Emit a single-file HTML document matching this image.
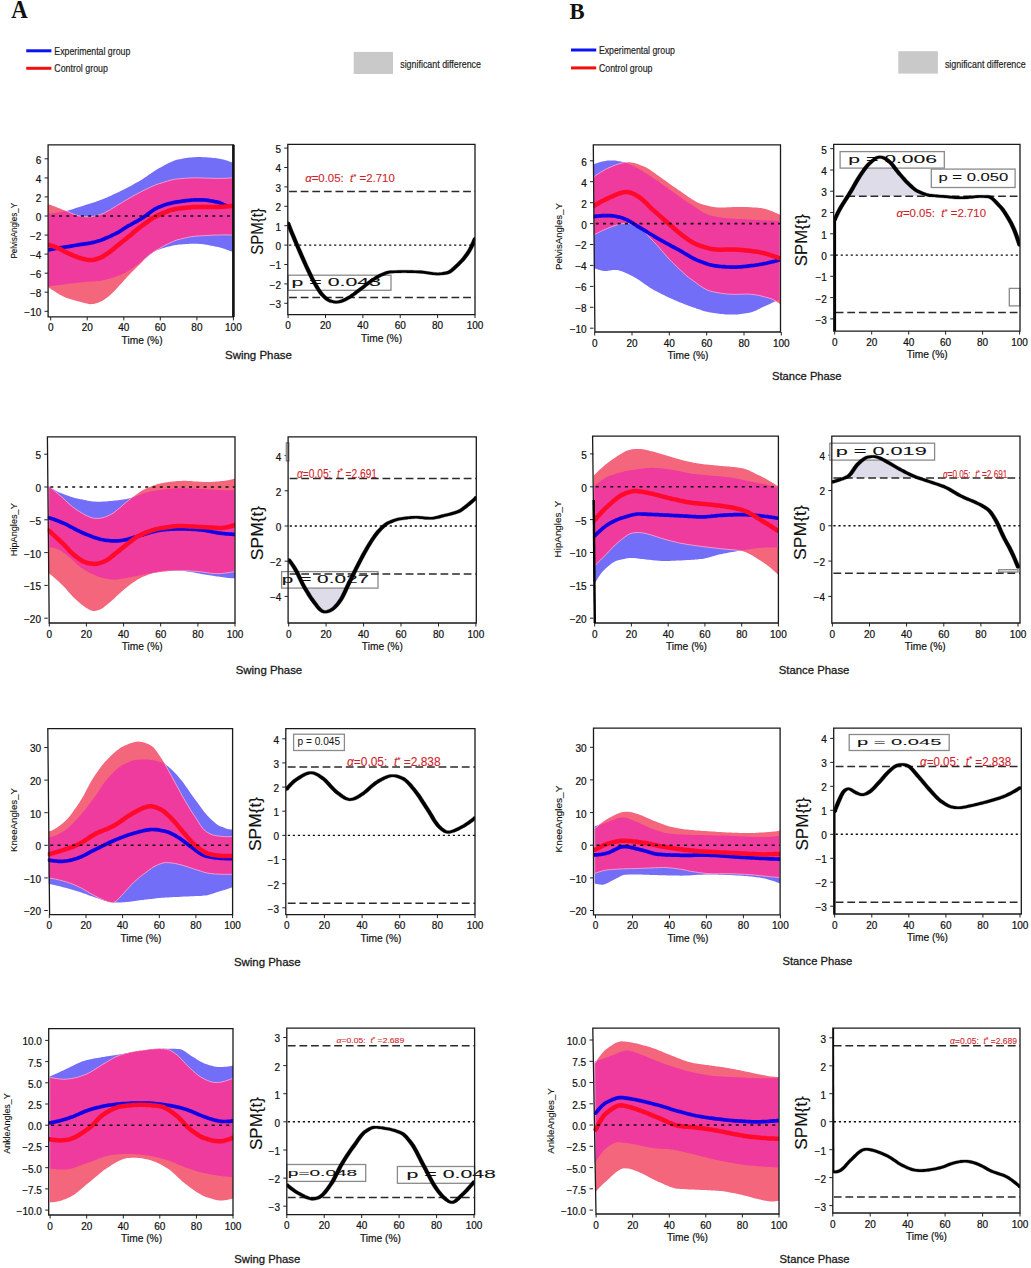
<!DOCTYPE html>
<html><head><meta charset="utf-8"><style>
html,body{margin:0;padding:0;background:#fff;}
body{width:1031px;height:1268px;overflow:hidden;}
svg{display:block;}
</style></head><body>
<svg width="1031" height="1268" viewBox="0 0 1031 1268">
<defs><clipPath id="c1"><rect x="48.1" y="144.8" width="185.3" height="172.1"/></clipPath>
<clipPath id="b2"><path d="M48.1 213.7 L49.8 213.6 L51.5 213.5 L53.2 213.3 L54.9 213.1 L56.6 212.8 L58.3 212.5 L59.9 212.2 L61.6 211.9 L63.3 211.6 L65.0 211.3 L66.7 210.9 L68.4 210.5 L70.0 210.0 L71.7 209.5 L73.4 208.9 L75.1 208.3 L76.8 207.8 L78.5 207.2 L80.1 206.7 L81.8 206.2 L83.5 205.7 L85.2 205.1 L86.9 204.6 L88.6 204.1 L90.3 203.6 L91.9 203.0 L93.6 202.5 L95.3 201.9 L97.0 201.3 L98.7 200.7 L100.4 200.1 L102.0 199.5 L103.7 198.8 L105.4 198.1 L107.1 197.4 L108.8 196.6 L110.5 195.9 L112.1 195.1 L113.8 194.3 L115.5 193.5 L117.2 192.8 L118.9 192.0 L120.6 191.1 L122.3 190.3 L123.9 189.5 L125.6 188.6 L127.3 187.7 L129.0 186.8 L130.7 185.9 L132.4 185.0 L134.0 184.1 L135.7 183.1 L137.4 182.2 L139.1 181.2 L140.8 180.2 L142.5 179.2 L144.1 178.1 L145.8 176.9 L147.5 175.8 L149.2 174.6 L150.9 173.5 L152.6 172.3 L154.2 171.2 L155.9 170.1 L157.6 169.1 L159.3 168.1 L161.0 167.2 L162.7 166.3 L164.4 165.3 L166.0 164.4 L167.7 163.6 L169.4 162.7 L171.1 161.9 L172.8 161.2 L174.5 160.6 L176.1 160.0 L177.8 159.6 L179.5 159.2 L181.2 158.9 L182.9 158.6 L184.6 158.3 L186.2 158.1 L187.9 157.8 L189.6 157.6 L191.3 157.4 L193.0 157.3 L194.7 157.2 L196.4 157.1 L198.0 157.1 L199.7 157.1 L201.4 157.1 L203.1 157.2 L204.8 157.2 L206.5 157.3 L208.1 157.5 L209.8 157.6 L211.5 157.8 L213.2 157.9 L214.9 158.1 L216.6 158.3 L218.2 158.5 L219.9 158.8 L221.6 159.2 L223.3 159.6 L225.0 160.1 L226.7 160.6 L228.4 161.1 L230.0 161.7 L231.7 162.3 L233.4 162.9 L233.4 252.1 L231.7 251.5 L230.0 250.9 L228.4 250.3 L226.7 249.7 L225.0 249.1 L223.3 248.6 L221.6 248.1 L219.9 247.6 L218.2 247.1 L216.6 246.7 L214.9 246.4 L213.2 246.0 L211.5 245.7 L209.8 245.4 L208.1 245.1 L206.5 244.8 L204.8 244.5 L203.1 244.3 L201.4 244.1 L199.7 243.9 L198.0 243.8 L196.4 243.7 L194.7 243.7 L193.0 243.7 L191.3 243.8 L189.6 243.8 L187.9 243.9 L186.2 244.0 L184.6 244.2 L182.9 244.3 L181.2 244.5 L179.5 244.6 L177.8 244.8 L176.1 245.0 L174.5 245.3 L172.8 245.6 L171.1 246.0 L169.4 246.4 L167.7 246.8 L166.0 247.2 L164.4 247.7 L162.7 248.3 L161.0 248.8 L159.3 249.4 L157.6 250.0 L155.9 250.6 L154.2 251.4 L152.6 252.5 L150.9 253.8 L149.2 255.2 L147.5 256.5 L145.8 257.8 L144.1 259.1 L142.5 260.5 L140.8 261.9 L139.1 263.2 L137.4 264.5 L135.7 265.8 L134.0 267.0 L132.4 268.2 L130.7 269.4 L129.0 270.4 L127.3 271.4 L125.6 272.4 L123.9 273.3 L122.3 274.1 L120.6 274.9 L118.9 275.6 L117.2 276.1 L115.5 276.7 L113.8 277.3 L112.1 277.8 L110.5 278.3 L108.8 278.8 L107.1 279.3 L105.4 279.7 L103.7 280.1 L102.0 280.4 L100.4 280.7 L98.7 280.9 L97.0 281.1 L95.3 281.2 L93.6 281.4 L91.9 281.5 L90.3 281.6 L88.6 281.7 L86.9 281.8 L85.2 281.9 L83.5 282.0 L81.8 282.2 L80.1 282.4 L78.5 282.6 L76.8 282.7 L75.1 282.9 L73.4 283.2 L71.7 283.4 L70.0 283.6 L68.4 283.8 L66.7 284.0 L65.0 284.2 L63.3 284.4 L61.6 284.7 L59.9 284.9 L58.3 285.1 L56.6 285.3 L54.9 285.5 L53.2 285.8 L51.5 286.0 L49.8 286.2 L48.1 286.5Z"/></clipPath>
<clipPath id="c3"><rect x="287.8" y="144.3" width="187.2" height="170.3"/></clipPath>
<clipPath id="c4"><rect x="47.8" y="436.8" width="187.2" height="186.2"/></clipPath>
<clipPath id="b5"><path d="M48.7 486.3 L50.4 487.4 L52.1 488.5 L53.8 489.6 L55.5 490.6 L57.2 491.5 L58.9 492.2 L60.6 492.9 L62.3 493.6 L64.0 494.3 L65.7 494.9 L67.4 495.6 L69.0 496.1 L70.7 496.7 L72.4 497.2 L74.1 497.7 L75.8 498.2 L77.5 498.6 L79.2 498.9 L80.9 499.3 L82.6 499.6 L84.3 500.0 L86.0 500.3 L87.7 500.7 L89.4 501.0 L91.1 501.2 L92.7 501.4 L94.4 501.6 L96.1 501.7 L97.8 501.8 L99.5 501.8 L101.2 501.7 L102.9 501.6 L104.6 501.5 L106.3 501.4 L108.0 501.3 L109.7 501.1 L111.4 500.9 L113.1 500.7 L114.8 500.5 L116.4 500.4 L118.1 500.2 L119.8 499.9 L121.5 499.7 L123.2 499.4 L124.9 499.2 L126.6 498.9 L128.3 498.5 L130.0 498.2 L131.7 497.8 L133.4 497.3 L135.1 496.7 L136.8 496.1 L138.5 495.4 L140.1 494.7 L141.8 494.0 L143.5 493.4 L145.2 492.8 L146.9 492.4 L148.6 492.0 L150.3 491.6 L152.0 491.3 L153.7 490.9 L155.4 490.6 L157.1 490.3 L158.8 490.0 L160.5 489.8 L162.2 489.6 L163.9 489.4 L165.5 489.2 L167.2 489.1 L168.9 488.9 L170.6 488.8 L172.3 488.7 L174.0 488.6 L175.7 488.4 L177.4 488.3 L179.1 488.2 L180.8 488.2 L182.5 488.2 L184.2 488.2 L185.9 488.2 L187.6 488.3 L189.2 488.3 L190.9 488.4 L192.6 488.5 L194.3 488.6 L196.0 488.7 L197.7 488.8 L199.4 488.9 L201.1 489.0 L202.8 489.1 L204.5 489.1 L206.2 489.2 L207.9 489.3 L209.6 489.4 L211.3 489.5 L212.9 489.6 L214.6 489.7 L216.3 489.8 L218.0 489.9 L219.7 490.0 L221.4 490.0 L223.1 490.1 L224.8 490.2 L226.5 490.2 L228.2 490.2 L229.9 490.2 L231.6 490.2 L233.3 490.2 L235.0 490.1 L235.0 578.4 L233.3 578.3 L231.6 578.2 L229.9 578.0 L228.2 577.9 L226.5 577.7 L224.8 577.5 L223.1 577.3 L221.4 577.1 L219.7 576.8 L218.0 576.6 L216.3 576.4 L214.6 576.1 L212.9 575.8 L211.3 575.5 L209.6 575.3 L207.9 575.0 L206.2 574.7 L204.5 574.5 L202.8 574.2 L201.1 573.9 L199.4 573.6 L197.7 573.2 L196.0 572.9 L194.3 572.6 L192.6 572.3 L190.9 572.0 L189.2 571.7 L187.6 571.5 L185.9 571.3 L184.2 571.1 L182.5 570.9 L180.8 570.8 L179.1 570.7 L177.4 570.6 L175.7 570.5 L174.0 570.4 L172.3 570.4 L170.6 570.4 L168.9 570.5 L167.2 570.6 L165.5 570.7 L163.9 570.8 L162.2 571.1 L160.5 571.3 L158.8 571.6 L157.1 571.9 L155.4 572.2 L153.7 572.6 L152.0 572.9 L150.3 573.2 L148.6 573.5 L146.9 573.9 L145.2 574.2 L143.5 574.5 L141.8 574.9 L140.1 575.3 L138.5 575.6 L136.8 575.9 L135.1 576.3 L133.4 576.6 L131.7 576.9 L130.0 577.3 L128.3 577.6 L126.6 577.9 L124.9 578.2 L123.2 578.6 L121.5 578.8 L119.8 579.1 L118.1 579.3 L116.4 579.5 L114.8 579.6 L113.1 579.6 L111.4 579.5 L109.7 579.2 L108.0 579.0 L106.3 578.6 L104.6 578.3 L102.9 578.0 L101.2 577.5 L99.5 577.0 L97.8 576.4 L96.1 575.7 L94.4 575.0 L92.7 574.3 L91.1 573.5 L89.4 572.7 L87.7 571.8 L86.0 570.8 L84.3 569.8 L82.6 568.6 L80.9 567.5 L79.2 566.2 L77.5 564.7 L75.8 563.1 L74.1 561.4 L72.4 559.8 L70.7 558.2 L69.0 556.8 L67.4 555.5 L65.7 554.2 L64.0 552.9 L62.3 551.7 L60.6 550.6 L58.9 549.7 L57.2 549.0 L55.5 548.5 L53.8 548.0 L52.1 547.6 L50.4 547.4 L48.7 547.4Z"/></clipPath>
<clipPath id="c6"><rect x="288.1" y="436.8" width="188.2" height="186.2"/></clipPath>
<clipPath id="t7"><rect x="288.0" y="573.9" width="62.0" height="49.1"/></clipPath>
<clipPath id="c8"><rect x="47.8" y="728.7" width="184.8" height="185.9"/></clipPath>
<clipPath id="b9"><path d="M48.7 837.4 L50.4 837.1 L52.1 836.7 L53.8 836.2 L55.5 835.5 L57.2 834.8 L58.9 834.0 L60.5 833.1 L62.2 832.1 L63.9 831.2 L65.6 830.0 L67.3 828.7 L69.0 827.2 L70.7 825.6 L72.3 823.9 L74.0 822.1 L75.7 820.3 L77.4 818.5 L79.1 816.7 L80.8 814.8 L82.5 812.8 L84.2 810.8 L85.8 808.7 L87.5 806.5 L89.2 804.3 L90.9 802.1 L92.6 799.9 L94.3 797.6 L96.0 795.3 L97.7 792.8 L99.3 790.2 L101.0 787.6 L102.7 785.1 L104.4 782.6 L106.1 780.4 L107.8 778.3 L109.5 776.5 L111.2 774.7 L112.8 772.9 L114.5 771.2 L116.2 769.7 L117.9 768.2 L119.6 766.9 L121.3 765.8 L123.0 764.8 L124.7 764.0 L126.3 763.2 L128.0 762.4 L129.7 761.7 L131.4 761.1 L133.1 760.5 L134.8 760.1 L136.5 759.8 L138.1 759.7 L139.8 759.6 L141.5 759.5 L143.2 759.4 L144.9 759.4 L146.6 759.5 L148.3 759.6 L150.0 759.7 L151.6 759.9 L153.3 760.2 L155.0 760.5 L156.7 761.0 L158.4 761.5 L160.1 762.0 L161.8 762.5 L163.5 763.2 L165.1 764.2 L166.8 765.4 L168.5 766.7 L170.2 768.2 L171.9 769.7 L173.6 771.4 L175.3 773.2 L177.0 775.1 L178.6 777.0 L180.3 779.0 L182.0 781.1 L183.7 783.3 L185.4 785.7 L187.1 788.1 L188.8 790.5 L190.4 792.9 L192.1 795.3 L193.8 797.7 L195.5 800.0 L197.2 802.3 L198.9 804.6 L200.6 806.9 L202.3 809.2 L203.9 811.4 L205.6 813.5 L207.3 815.5 L209.0 817.2 L210.7 818.9 L212.4 820.5 L214.1 822.1 L215.8 823.5 L217.4 824.7 L219.1 825.7 L220.8 826.5 L222.5 827.1 L224.2 827.8 L225.9 828.4 L227.6 828.9 L229.3 829.3 L230.9 829.5 L232.6 829.6 L232.6 887.2 L230.9 887.8 L229.3 888.3 L227.6 888.9 L225.9 889.4 L224.2 889.9 L222.5 890.4 L220.8 891.0 L219.1 891.5 L217.4 892.0 L215.8 892.6 L214.1 893.2 L212.4 893.8 L210.7 894.3 L209.0 894.8 L207.3 895.2 L205.6 895.5 L203.9 895.6 L202.3 895.8 L200.6 895.9 L198.9 895.9 L197.2 896.0 L195.5 896.1 L193.8 896.2 L192.1 896.2 L190.4 896.3 L188.8 896.4 L187.1 896.5 L185.4 896.5 L183.7 896.6 L182.0 896.7 L180.3 896.8 L178.6 896.9 L177.0 896.9 L175.3 897.0 L173.6 897.1 L171.9 897.2 L170.2 897.3 L168.5 897.4 L166.8 897.5 L165.1 897.6 L163.5 897.7 L161.8 897.8 L160.1 898.0 L158.4 898.1 L156.7 898.3 L155.0 898.5 L153.3 898.7 L151.6 898.9 L150.0 899.1 L148.3 899.3 L146.6 899.4 L144.9 899.6 L143.2 899.9 L141.5 900.1 L139.8 900.3 L138.1 900.6 L136.5 900.8 L134.8 901.0 L133.1 901.3 L131.4 901.5 L129.7 901.7 L128.0 901.9 L126.3 902.1 L124.7 902.2 L123.0 902.3 L121.3 902.4 L119.6 902.4 L117.9 902.5 L116.2 902.4 L114.5 902.4 L112.8 902.3 L111.2 902.1 L109.5 901.8 L107.8 901.4 L106.1 900.9 L104.4 900.4 L102.7 899.9 L101.0 899.4 L99.3 898.8 L97.7 898.3 L96.0 897.8 L94.3 897.2 L92.6 896.6 L90.9 896.0 L89.2 895.4 L87.5 894.8 L85.8 894.1 L84.2 893.5 L82.5 892.9 L80.8 892.3 L79.1 891.8 L77.4 891.2 L75.7 890.7 L74.0 890.2 L72.3 889.7 L70.7 889.2 L69.0 888.7 L67.3 888.3 L65.6 887.8 L63.9 887.4 L62.2 887.0 L60.5 886.5 L58.9 886.1 L57.2 885.7 L55.5 885.3 L53.8 885.0 L52.1 884.6 L50.4 884.2 L48.7 883.9Z"/></clipPath>
<clipPath id="c10"><rect x="285.8" y="728.7" width="189.2" height="185.9"/></clipPath>
<clipPath id="c11"><rect x="48.7" y="1028.7" width="184.3" height="186.3"/></clipPath>
<clipPath id="b12"><path d="M49.7 1076.6 L51.4 1075.8 L53.1 1075.1 L54.8 1074.3 L56.5 1073.5 L58.2 1072.7 L59.9 1071.9 L61.6 1071.1 L63.3 1070.4 L65.0 1069.6 L66.7 1068.8 L68.4 1068.0 L70.1 1067.1 L71.8 1066.3 L73.5 1065.4 L75.2 1064.6 L76.9 1063.7 L78.6 1063.0 L80.3 1062.3 L81.9 1061.6 L83.6 1061.0 L85.3 1060.5 L87.0 1060.1 L88.7 1059.7 L90.4 1059.3 L92.1 1058.9 L93.8 1058.6 L95.5 1058.3 L97.2 1058.0 L98.9 1057.7 L100.6 1057.4 L102.3 1057.1 L104.0 1056.9 L105.7 1056.6 L107.4 1056.3 L109.1 1056.1 L110.8 1055.8 L112.5 1055.6 L114.2 1055.3 L115.9 1055.1 L117.6 1054.8 L119.3 1054.6 L121.0 1054.3 L122.7 1054.0 L124.4 1053.7 L126.1 1053.4 L127.8 1053.1 L129.5 1052.8 L131.2 1052.6 L132.9 1052.3 L134.6 1052.0 L136.3 1051.7 L138.0 1051.5 L139.7 1051.2 L141.4 1050.9 L143.1 1050.7 L144.8 1050.4 L146.5 1050.2 L148.1 1049.9 L149.8 1049.7 L151.5 1049.5 L153.2 1049.3 L154.9 1049.2 L156.6 1049.1 L158.3 1049.0 L160.0 1048.9 L161.7 1048.9 L163.4 1048.8 L165.1 1048.8 L166.8 1048.8 L168.5 1048.7 L170.2 1048.7 L171.9 1048.7 L173.6 1048.7 L175.3 1048.8 L177.0 1048.9 L178.7 1049.0 L180.4 1049.2 L182.1 1049.8 L183.8 1050.7 L185.5 1051.8 L187.2 1053.0 L188.9 1054.3 L190.6 1055.4 L192.3 1056.5 L194.0 1057.5 L195.7 1058.6 L197.4 1059.7 L199.1 1060.7 L200.8 1061.7 L202.5 1062.6 L204.2 1063.4 L205.9 1064.0 L207.6 1064.6 L209.3 1065.2 L211.0 1065.6 L212.6 1066.1 L214.3 1066.4 L216.0 1066.7 L217.7 1066.9 L219.4 1067.0 L221.1 1067.0 L222.8 1067.0 L224.5 1066.8 L226.2 1066.7 L227.9 1066.5 L229.6 1066.2 L231.3 1065.9 L233.0 1065.6 L233.0 1177.1 L231.3 1177.0 L229.6 1176.9 L227.9 1176.8 L226.2 1176.6 L224.5 1176.4 L222.8 1176.2 L221.1 1176.0 L219.4 1175.8 L217.7 1175.5 L216.0 1175.3 L214.3 1175.0 L212.6 1174.7 L211.0 1174.4 L209.3 1174.1 L207.6 1173.8 L205.9 1173.4 L204.2 1173.1 L202.5 1172.7 L200.8 1172.3 L199.1 1171.9 L197.4 1171.4 L195.7 1170.9 L194.0 1170.3 L192.3 1169.8 L190.6 1169.2 L188.9 1168.6 L187.2 1168.0 L185.5 1167.4 L183.8 1166.8 L182.1 1166.1 L180.4 1165.4 L178.7 1164.7 L177.0 1164.0 L175.3 1163.2 L173.6 1162.5 L171.9 1161.8 L170.2 1161.1 L168.5 1160.5 L166.8 1159.9 L165.1 1159.4 L163.4 1158.9 L161.7 1158.4 L160.0 1158.0 L158.3 1157.6 L156.6 1157.2 L154.9 1156.8 L153.2 1156.4 L151.5 1156.1 L149.8 1155.8 L148.1 1155.6 L146.5 1155.4 L144.8 1155.2 L143.1 1155.0 L141.4 1154.8 L139.7 1154.6 L138.0 1154.5 L136.3 1154.3 L134.6 1154.2 L132.9 1154.1 L131.2 1154.0 L129.5 1153.9 L127.8 1153.9 L126.1 1153.8 L124.4 1153.9 L122.7 1153.9 L121.0 1154.0 L119.3 1154.2 L117.6 1154.3 L115.9 1154.5 L114.2 1154.8 L112.5 1155.0 L110.8 1155.3 L109.1 1155.6 L107.4 1155.9 L105.7 1156.3 L104.0 1156.7 L102.3 1157.3 L100.6 1157.9 L98.9 1158.5 L97.2 1159.2 L95.5 1159.9 L93.8 1160.6 L92.1 1161.2 L90.4 1161.9 L88.7 1162.5 L87.0 1163.1 L85.3 1163.7 L83.6 1164.3 L81.9 1165.0 L80.3 1165.6 L78.6 1166.2 L76.9 1166.8 L75.2 1167.4 L73.5 1167.9 L71.8 1168.4 L70.1 1168.8 L68.4 1169.1 L66.7 1169.4 L65.0 1169.5 L63.3 1169.6 L61.6 1169.6 L59.9 1169.6 L58.2 1169.5 L56.5 1169.3 L54.8 1169.1 L53.1 1168.9 L51.4 1168.7 L49.7 1168.4Z"/></clipPath>
<clipPath id="c13"><rect x="286.8" y="1028.1" width="187.8" height="186.5"/></clipPath>
<clipPath id="c14"><rect x="593.5" y="144.8" width="187.0" height="187.2"/></clipPath>
<clipPath id="b15"><path d="M593.7 164.2 L595.4 163.7 L597.1 163.1 L598.8 162.6 L600.5 162.1 L602.2 161.6 L603.9 161.2 L605.6 160.9 L607.3 160.6 L609.0 160.4 L610.7 160.4 L612.4 160.4 L614.0 160.5 L615.7 160.6 L617.4 160.9 L619.1 161.2 L620.8 161.5 L622.5 161.9 L624.2 162.3 L625.9 162.9 L627.6 163.6 L629.3 164.3 L631.0 165.0 L632.7 165.8 L634.4 166.6 L636.1 167.5 L637.7 168.3 L639.4 169.3 L641.1 170.3 L642.8 171.3 L644.5 172.4 L646.2 173.4 L647.9 174.5 L649.6 175.7 L651.3 176.8 L653.0 177.9 L654.7 179.0 L656.4 180.2 L658.1 181.3 L659.8 182.5 L661.4 183.7 L663.1 184.9 L664.8 186.1 L666.5 187.3 L668.2 188.5 L669.9 189.7 L671.6 190.9 L673.3 192.1 L675.0 193.3 L676.7 194.5 L678.4 195.8 L680.1 197.0 L681.8 198.2 L683.5 199.4 L685.1 200.6 L686.8 201.8 L688.5 202.9 L690.2 204.1 L691.9 205.1 L693.6 206.2 L695.3 207.3 L697.0 208.5 L698.7 209.6 L700.4 210.7 L702.1 211.7 L703.8 212.7 L705.5 213.6 L707.2 214.3 L708.9 215.0 L710.5 215.5 L712.2 215.9 L713.9 216.3 L715.6 216.6 L717.3 217.0 L719.0 217.2 L720.7 217.5 L722.4 217.8 L724.1 218.0 L725.8 218.2 L727.5 218.3 L729.2 218.5 L730.9 218.6 L732.6 218.7 L734.2 218.8 L735.9 218.9 L737.6 218.9 L739.3 219.0 L741.0 219.1 L742.7 219.2 L744.4 219.3 L746.1 219.3 L747.8 219.4 L749.5 219.5 L751.2 219.6 L752.9 219.7 L754.6 219.8 L756.3 219.9 L757.9 219.9 L759.6 220.0 L761.3 220.1 L763.0 220.2 L764.7 220.3 L766.4 220.4 L768.1 220.5 L769.8 220.6 L771.5 220.6 L773.2 220.7 L774.9 220.8 L776.6 220.9 L778.3 221.0 L780.0 221.1 L780.0 299.1 L778.3 299.9 L776.6 300.7 L774.9 301.5 L773.2 302.3 L771.5 303.1 L769.8 303.9 L768.1 304.7 L766.4 305.5 L764.7 306.3 L763.0 307.0 L761.3 307.8 L759.6 308.7 L757.9 309.5 L756.3 310.4 L754.6 311.1 L752.9 311.8 L751.2 312.3 L749.5 312.7 L747.8 313.0 L746.1 313.3 L744.4 313.6 L742.7 313.8 L741.0 314.0 L739.3 314.2 L737.6 314.4 L735.9 314.5 L734.2 314.6 L732.6 314.6 L730.9 314.6 L729.2 314.6 L727.5 314.5 L725.8 314.4 L724.1 314.3 L722.4 314.1 L720.7 314.0 L719.0 313.8 L717.3 313.6 L715.6 313.3 L713.9 313.1 L712.2 312.8 L710.5 312.6 L708.9 312.2 L707.2 311.8 L705.5 311.4 L703.8 310.9 L702.1 310.4 L700.4 309.8 L698.7 309.3 L697.0 308.7 L695.3 308.1 L693.6 307.5 L691.9 306.9 L690.2 306.3 L688.5 305.7 L686.8 305.1 L685.1 304.4 L683.5 303.8 L681.8 303.1 L680.1 302.4 L678.4 301.7 L676.7 301.0 L675.0 300.2 L673.3 299.5 L671.6 298.8 L669.9 298.0 L668.2 297.2 L666.5 296.4 L664.8 295.6 L663.1 294.8 L661.4 293.9 L659.8 293.1 L658.1 292.2 L656.4 291.3 L654.7 290.4 L653.0 289.4 L651.3 288.4 L649.6 287.4 L647.9 286.2 L646.2 285.1 L644.5 283.9 L642.8 282.7 L641.1 281.5 L639.4 280.3 L637.7 279.2 L636.1 278.2 L634.4 277.2 L632.7 276.3 L631.0 275.5 L629.3 274.6 L627.6 273.8 L625.9 273.0 L624.2 272.2 L622.5 271.5 L620.8 271.0 L619.1 270.5 L617.4 270.1 L615.7 269.9 L614.0 269.9 L612.4 270.1 L610.7 270.4 L609.0 270.6 L607.3 270.9 L605.6 271.0 L603.9 270.9 L602.2 270.7 L600.5 270.3 L598.8 269.8 L597.1 269.3 L595.4 268.7 L593.7 268.0Z"/></clipPath>
<clipPath id="c16"><rect x="833.7" y="144.3" width="186.3" height="186.8"/></clipPath>
<clipPath id="t17"><rect x="834.0" y="144.3" width="96.0" height="52.0"/></clipPath>
<clipPath id="c18"><rect x="593.5" y="436.2" width="184.9" height="186.8"/></clipPath>
<clipPath id="b19"><path d="M593.7 486.3 L595.4 484.9 L597.1 483.6 L598.8 482.3 L600.5 481.0 L602.2 479.9 L603.9 478.7 L605.6 477.7 L607.3 476.8 L608.9 476.1 L610.6 475.4 L612.3 474.9 L614.0 474.4 L615.7 473.8 L617.4 473.3 L619.1 472.8 L620.8 472.4 L622.5 471.9 L624.2 471.5 L625.9 471.1 L627.5 470.8 L629.2 470.4 L630.9 470.1 L632.6 469.9 L634.3 469.7 L636.0 469.4 L637.7 469.2 L639.4 469.0 L641.1 468.7 L642.8 468.5 L644.5 468.3 L646.1 468.1 L647.8 468.0 L649.5 467.9 L651.2 467.8 L652.9 467.8 L654.6 467.9 L656.3 467.9 L658.0 468.1 L659.7 468.2 L661.4 468.3 L663.0 468.5 L664.7 468.7 L666.4 468.9 L668.1 469.2 L669.8 469.4 L671.5 469.7 L673.2 469.9 L674.9 470.2 L676.6 470.5 L678.3 470.9 L680.0 471.3 L681.6 471.7 L683.3 472.1 L685.0 472.4 L686.7 472.8 L688.4 473.1 L690.1 473.4 L691.8 473.7 L693.5 473.9 L695.2 474.1 L696.9 474.2 L698.6 474.4 L700.2 474.6 L701.9 474.7 L703.6 474.9 L705.3 475.0 L707.0 475.2 L708.7 475.4 L710.4 475.5 L712.1 475.7 L713.8 475.8 L715.5 476.0 L717.2 476.1 L718.8 476.3 L720.5 476.5 L722.2 476.6 L723.9 476.8 L725.6 476.9 L727.3 477.1 L729.0 477.3 L730.7 477.6 L732.4 477.8 L734.1 478.1 L735.7 478.4 L737.4 478.7 L739.1 479.1 L740.8 479.4 L742.5 479.8 L744.2 480.2 L745.9 480.6 L747.6 480.9 L749.3 481.3 L751.0 481.6 L752.7 481.9 L754.3 482.3 L756.0 482.6 L757.7 482.9 L759.4 483.2 L761.1 483.6 L762.8 483.9 L764.5 484.2 L766.2 484.6 L767.9 485.0 L769.6 485.4 L771.3 485.8 L772.9 486.3 L774.6 486.9 L776.3 487.6 L778.0 488.2 L778.0 547.4 L776.3 547.3 L774.6 547.3 L772.9 547.3 L771.3 547.4 L769.6 547.4 L767.9 547.5 L766.2 547.5 L764.5 547.6 L762.8 547.7 L761.1 547.8 L759.4 548.0 L757.7 548.1 L756.0 548.3 L754.3 548.5 L752.7 548.7 L751.0 548.9 L749.3 549.2 L747.6 549.5 L745.9 549.7 L744.2 550.0 L742.5 550.3 L740.8 550.6 L739.1 550.8 L737.4 551.1 L735.7 551.4 L734.1 551.7 L732.4 552.0 L730.7 552.3 L729.0 552.6 L727.3 552.9 L725.6 553.2 L723.9 553.5 L722.2 553.9 L720.5 554.2 L718.8 554.6 L717.2 555.0 L715.5 555.5 L713.8 556.0 L712.1 556.5 L710.4 557.0 L708.7 557.5 L707.0 557.9 L705.3 558.3 L703.6 558.7 L701.9 558.9 L700.2 559.1 L698.6 559.3 L696.9 559.5 L695.2 559.6 L693.5 559.7 L691.8 559.8 L690.1 560.0 L688.4 560.1 L686.7 560.1 L685.0 560.2 L683.3 560.3 L681.6 560.4 L680.0 560.4 L678.3 560.5 L676.6 560.6 L674.9 560.7 L673.2 560.8 L671.5 560.8 L669.8 560.9 L668.1 560.9 L666.4 561.0 L664.7 561.0 L663.0 560.9 L661.4 560.9 L659.7 560.8 L658.0 560.7 L656.3 560.6 L654.6 560.4 L652.9 560.2 L651.2 560.0 L649.5 559.8 L647.8 559.7 L646.1 559.5 L644.5 559.3 L642.8 559.1 L641.1 558.9 L639.4 558.7 L637.7 558.5 L636.0 558.3 L634.3 558.1 L632.6 558.0 L630.9 558.0 L629.2 558.1 L627.5 558.3 L625.9 558.6 L624.2 558.9 L622.5 559.3 L620.8 559.7 L619.1 560.1 L617.4 560.5 L615.7 561.1 L614.0 562.0 L612.3 563.1 L610.6 564.3 L608.9 565.7 L607.3 567.1 L605.6 568.6 L603.9 570.2 L602.2 572.0 L600.5 574.2 L598.8 576.7 L597.1 579.4 L595.4 582.3 L593.7 585.2Z"/></clipPath>
<clipPath id="c20"><rect x="831.8" y="436.2" width="188.2" height="186.8"/></clipPath>
<clipPath id="t21"><rect x="833.0" y="436.2" width="97.0" height="41.7"/></clipPath>
<clipPath id="c22"><rect x="593.5" y="728.2" width="186.6" height="186.6"/></clipPath>
<clipPath id="b23"><path d="M594.7 826.2 L596.4 825.7 L598.1 825.2 L599.8 824.7 L601.4 824.2 L603.1 823.7 L604.8 823.1 L606.5 822.6 L608.2 821.9 L609.9 821.2 L611.5 820.5 L613.2 819.8 L614.9 819.2 L616.6 818.6 L618.3 818.1 L620.0 817.7 L621.6 817.5 L623.3 817.4 L625.0 817.6 L626.7 818.0 L628.4 818.5 L630.1 819.2 L631.8 819.8 L633.4 820.5 L635.1 821.2 L636.8 821.9 L638.5 822.6 L640.2 823.4 L641.9 824.2 L643.5 825.0 L645.2 825.8 L646.9 826.6 L648.6 827.4 L650.3 828.1 L652.0 828.8 L653.6 829.3 L655.3 829.9 L657.0 830.4 L658.7 831.0 L660.4 831.5 L662.1 832.0 L663.7 832.5 L665.4 832.9 L667.1 833.2 L668.8 833.5 L670.5 833.8 L672.2 833.9 L673.9 834.1 L675.5 834.2 L677.2 834.3 L678.9 834.4 L680.6 834.5 L682.3 834.6 L684.0 834.6 L685.6 834.7 L687.3 834.8 L689.0 834.8 L690.7 834.9 L692.4 834.9 L694.1 835.0 L695.7 835.0 L697.4 835.0 L699.1 835.1 L700.8 835.1 L702.5 835.1 L704.2 835.2 L705.9 835.2 L707.5 835.2 L709.2 835.3 L710.9 835.3 L712.6 835.3 L714.3 835.4 L716.0 835.4 L717.6 835.5 L719.3 835.5 L721.0 835.6 L722.7 835.6 L724.4 835.7 L726.1 835.7 L727.7 835.8 L729.4 835.8 L731.1 835.9 L732.8 836.0 L734.5 836.1 L736.2 836.2 L737.9 836.2 L739.5 836.3 L741.2 836.4 L742.9 836.5 L744.6 836.6 L746.3 836.7 L748.0 836.8 L749.6 836.8 L751.3 836.9 L753.0 836.9 L754.7 837.0 L756.4 837.0 L758.1 837.0 L759.7 837.0 L761.4 837.0 L763.1 837.0 L764.8 836.9 L766.5 836.9 L768.2 836.9 L769.9 836.8 L771.5 836.8 L773.2 836.6 L774.9 836.5 L776.6 836.3 L778.3 836.1 L780.0 835.9 L780.0 883.4 L778.3 882.8 L776.6 882.2 L774.9 881.6 L773.2 881.1 L771.5 880.5 L769.9 880.0 L768.2 879.5 L766.5 879.0 L764.8 878.6 L763.1 878.2 L761.4 877.9 L759.7 877.6 L758.1 877.4 L756.4 877.2 L754.7 877.0 L753.0 876.8 L751.3 876.6 L749.6 876.4 L748.0 876.3 L746.3 876.1 L744.6 876.0 L742.9 875.8 L741.2 875.7 L739.5 875.6 L737.9 875.5 L736.2 875.4 L734.5 875.3 L732.8 875.2 L731.1 875.1 L729.4 875.0 L727.7 874.9 L726.1 874.9 L724.4 874.8 L722.7 874.7 L721.0 874.7 L719.3 874.7 L717.6 874.6 L716.0 874.6 L714.3 874.6 L712.6 874.6 L710.9 874.6 L709.2 874.6 L707.5 874.6 L705.9 874.6 L704.2 874.6 L702.5 874.7 L700.8 874.7 L699.1 874.8 L697.4 874.8 L695.7 874.9 L694.1 875.1 L692.4 875.2 L690.7 875.3 L689.0 875.4 L687.3 875.5 L685.6 875.6 L684.0 875.6 L682.3 875.7 L680.6 875.7 L678.9 875.6 L677.2 875.6 L675.5 875.6 L673.9 875.6 L672.2 875.5 L670.5 875.5 L668.8 875.4 L667.1 875.4 L665.4 875.3 L663.7 875.3 L662.1 875.3 L660.4 875.2 L658.7 875.2 L657.0 875.1 L655.3 875.1 L653.6 875.0 L652.0 875.0 L650.3 874.9 L648.6 874.8 L646.9 874.8 L645.2 874.7 L643.5 874.7 L641.9 874.6 L640.2 874.6 L638.5 874.6 L636.8 874.6 L635.1 874.6 L633.4 874.6 L631.8 874.6 L630.1 874.6 L628.4 874.6 L626.7 874.7 L625.0 874.7 L623.3 875.1 L621.6 875.7 L620.0 876.5 L618.3 877.4 L616.6 878.3 L614.9 879.2 L613.2 880.0 L611.5 880.9 L609.9 881.8 L608.2 882.8 L606.5 883.6 L604.8 884.3 L603.1 884.7 L601.4 884.8 L599.8 884.6 L598.1 884.3 L596.4 883.9 L594.7 883.4Z"/></clipPath>
<clipPath id="c24"><rect x="833.7" y="728.1" width="187.6" height="185.9"/></clipPath>
<clipPath id="c25"><rect x="593.0" y="1028.1" width="186.0" height="185.9"/></clipPath>
<clipPath id="b26"><path d="M594.7 1061.7 L596.4 1061.1 L598.1 1060.5 L599.8 1059.9 L601.5 1059.3 L603.2 1058.7 L604.8 1058.1 L606.5 1057.5 L608.2 1056.9 L609.9 1056.3 L611.6 1055.6 L613.3 1054.9 L615.0 1054.2 L616.7 1053.4 L618.4 1052.8 L620.1 1052.2 L621.8 1051.6 L623.4 1051.2 L625.1 1050.8 L626.8 1050.6 L628.5 1050.7 L630.2 1050.9 L631.9 1051.3 L633.6 1051.8 L635.3 1052.4 L637.0 1053.1 L638.7 1053.7 L640.3 1054.3 L642.0 1054.9 L643.7 1055.6 L645.4 1056.3 L647.1 1057.0 L648.8 1057.7 L650.5 1058.4 L652.2 1059.1 L653.9 1059.8 L655.6 1060.5 L657.3 1061.2 L658.9 1061.8 L660.6 1062.4 L662.3 1063.1 L664.0 1063.7 L665.7 1064.3 L667.4 1064.9 L669.1 1065.5 L670.8 1066.1 L672.5 1066.7 L674.2 1067.3 L675.9 1067.8 L677.5 1068.3 L679.2 1068.8 L680.9 1069.3 L682.6 1069.8 L684.3 1070.3 L686.0 1070.7 L687.7 1071.2 L689.4 1071.6 L691.1 1072.0 L692.8 1072.4 L694.5 1072.7 L696.1 1073.1 L697.8 1073.4 L699.5 1073.7 L701.2 1074.0 L702.9 1074.3 L704.6 1074.6 L706.3 1074.9 L708.0 1075.2 L709.7 1075.5 L711.4 1075.7 L713.0 1075.9 L714.7 1076.1 L716.4 1076.2 L718.1 1076.3 L719.8 1076.4 L721.5 1076.5 L723.2 1076.6 L724.9 1076.7 L726.6 1076.8 L728.3 1076.9 L730.0 1076.9 L731.6 1077.0 L733.3 1077.1 L735.0 1077.2 L736.7 1077.2 L738.4 1077.3 L740.1 1077.4 L741.8 1077.5 L743.5 1077.6 L745.2 1077.7 L746.9 1077.8 L748.6 1077.9 L750.2 1078.0 L751.9 1078.1 L753.6 1078.1 L755.3 1078.2 L757.0 1078.2 L758.7 1078.3 L760.4 1078.3 L762.1 1078.3 L763.8 1078.3 L765.5 1078.3 L767.2 1078.3 L768.8 1078.3 L770.5 1078.3 L772.2 1078.3 L773.9 1078.3 L775.6 1078.3 L777.3 1078.2 L779.0 1078.2 L779.0 1167.4 L777.3 1167.4 L775.6 1167.3 L773.9 1167.3 L772.2 1167.2 L770.5 1167.1 L768.8 1167.0 L767.2 1166.9 L765.5 1166.8 L763.8 1166.7 L762.1 1166.6 L760.4 1166.4 L758.7 1166.3 L757.0 1166.1 L755.3 1166.0 L753.6 1165.8 L751.9 1165.7 L750.2 1165.5 L748.6 1165.4 L746.9 1165.2 L745.2 1165.0 L743.5 1164.7 L741.8 1164.5 L740.1 1164.2 L738.4 1163.9 L736.7 1163.6 L735.0 1163.4 L733.3 1163.1 L731.6 1162.8 L730.0 1162.5 L728.3 1162.2 L726.6 1161.9 L724.9 1161.6 L723.2 1161.2 L721.5 1160.9 L719.8 1160.6 L718.1 1160.2 L716.4 1159.9 L714.7 1159.5 L713.0 1159.1 L711.4 1158.8 L709.7 1158.4 L708.0 1158.0 L706.3 1157.6 L704.6 1157.1 L702.9 1156.7 L701.2 1156.3 L699.5 1155.8 L697.8 1155.4 L696.1 1154.9 L694.5 1154.5 L692.8 1154.1 L691.1 1153.7 L689.4 1153.3 L687.7 1152.9 L686.0 1152.5 L684.3 1152.1 L682.6 1151.7 L680.9 1151.3 L679.2 1150.9 L677.5 1150.5 L675.9 1150.2 L674.2 1149.9 L672.5 1149.6 L670.8 1149.4 L669.1 1149.2 L667.4 1149.1 L665.7 1149.0 L664.0 1148.9 L662.3 1148.8 L660.6 1148.7 L658.9 1148.6 L657.3 1148.5 L655.6 1148.4 L653.9 1148.2 L652.2 1147.9 L650.5 1147.6 L648.8 1147.3 L647.1 1147.0 L645.4 1146.7 L643.7 1146.3 L642.0 1145.9 L640.3 1145.6 L638.7 1145.2 L637.0 1144.8 L635.3 1144.5 L633.6 1144.2 L631.9 1143.9 L630.2 1143.6 L628.5 1143.3 L626.8 1143.1 L625.1 1142.8 L623.4 1142.7 L621.8 1142.5 L620.1 1142.3 L618.4 1142.2 L616.7 1142.3 L615.0 1142.7 L613.3 1143.4 L611.6 1144.4 L609.9 1145.5 L608.2 1146.7 L606.5 1147.9 L604.8 1149.3 L603.2 1151.0 L601.5 1153.2 L599.8 1155.5 L598.1 1158.1 L596.4 1160.8 L594.7 1163.5Z"/></clipPath>
<clipPath id="c27"><rect x="832.8" y="1028.1" width="187.2" height="184.9"/></clipPath></defs>
<rect width="1031" height="1268" fill="#fff"/>
<line x1="50.7" y1="316.9" x2="50.7" y2="320.4" stroke="#222" stroke-width="1"/>
<text x="50.7" y="331.4" font-size="10.00" text-anchor="middle" fill="#111" font-family='"Liberation Sans", sans-serif' font-weight="normal" stroke="#111" stroke-width="0.22">0</text>
<line x1="87.2" y1="316.9" x2="87.2" y2="320.4" stroke="#222" stroke-width="1"/>
<text x="87.2" y="331.4" font-size="10.00" text-anchor="middle" fill="#111" font-family='"Liberation Sans", sans-serif' font-weight="normal" stroke="#111" stroke-width="0.22">20</text>
<line x1="123.8" y1="316.9" x2="123.8" y2="320.4" stroke="#222" stroke-width="1"/>
<text x="123.8" y="331.4" font-size="10.00" text-anchor="middle" fill="#111" font-family='"Liberation Sans", sans-serif' font-weight="normal" stroke="#111" stroke-width="0.22">40</text>
<line x1="160.3" y1="316.9" x2="160.3" y2="320.4" stroke="#222" stroke-width="1"/>
<text x="160.3" y="331.4" font-size="10.00" text-anchor="middle" fill="#111" font-family='"Liberation Sans", sans-serif' font-weight="normal" stroke="#111" stroke-width="0.22">60</text>
<line x1="196.9" y1="316.9" x2="196.9" y2="320.4" stroke="#222" stroke-width="1"/>
<text x="196.9" y="331.4" font-size="10.00" text-anchor="middle" fill="#111" font-family='"Liberation Sans", sans-serif' font-weight="normal" stroke="#111" stroke-width="0.22">80</text>
<line x1="233.4" y1="316.9" x2="233.4" y2="320.4" stroke="#222" stroke-width="1"/>
<text x="233.4" y="331.4" font-size="10.00" text-anchor="middle" fill="#111" font-family='"Liberation Sans", sans-serif' font-weight="normal" stroke="#111" stroke-width="0.22">100</text>
<line x1="44.6" y1="158.8" x2="48.1" y2="158.8" stroke="#222" stroke-width="1"/>
<text x="41.3" y="163.7" font-size="10.00" text-anchor="end" fill="#111" font-family='"Liberation Sans", sans-serif' font-weight="normal" stroke="#111" stroke-width="0.22">6</text>
<line x1="44.6" y1="177.9" x2="48.1" y2="177.9" stroke="#222" stroke-width="1"/>
<text x="41.3" y="182.8" font-size="10.00" text-anchor="end" fill="#111" font-family='"Liberation Sans", sans-serif' font-weight="normal" stroke="#111" stroke-width="0.22">4</text>
<line x1="44.6" y1="196.9" x2="48.1" y2="196.9" stroke="#222" stroke-width="1"/>
<text x="41.3" y="201.8" font-size="10.00" text-anchor="end" fill="#111" font-family='"Liberation Sans", sans-serif' font-weight="normal" stroke="#111" stroke-width="0.22">2</text>
<line x1="44.6" y1="216.0" x2="48.1" y2="216.0" stroke="#222" stroke-width="1"/>
<text x="41.3" y="220.9" font-size="10.00" text-anchor="end" fill="#111" font-family='"Liberation Sans", sans-serif' font-weight="normal" stroke="#111" stroke-width="0.22">0</text>
<line x1="44.6" y1="235.1" x2="48.1" y2="235.1" stroke="#222" stroke-width="1"/>
<text x="41.3" y="240.0" font-size="10.00" text-anchor="end" fill="#111" font-family='"Liberation Sans", sans-serif' font-weight="normal" stroke="#111" stroke-width="0.22">−2</text>
<line x1="44.6" y1="254.1" x2="48.1" y2="254.1" stroke="#222" stroke-width="1"/>
<text x="41.3" y="259.0" font-size="10.00" text-anchor="end" fill="#111" font-family='"Liberation Sans", sans-serif' font-weight="normal" stroke="#111" stroke-width="0.22">−4</text>
<line x1="44.6" y1="273.2" x2="48.1" y2="273.2" stroke="#222" stroke-width="1"/>
<text x="41.3" y="278.1" font-size="10.00" text-anchor="end" fill="#111" font-family='"Liberation Sans", sans-serif' font-weight="normal" stroke="#111" stroke-width="0.22">−6</text>
<line x1="44.6" y1="292.2" x2="48.1" y2="292.2" stroke="#222" stroke-width="1"/>
<text x="41.3" y="297.1" font-size="10.00" text-anchor="end" fill="#111" font-family='"Liberation Sans", sans-serif' font-weight="normal" stroke="#111" stroke-width="0.22">−8</text>
<line x1="44.6" y1="311.3" x2="48.1" y2="311.3" stroke="#222" stroke-width="1"/>
<text x="41.3" y="316.2" font-size="10.00" text-anchor="end" fill="#111" font-family='"Liberation Sans", sans-serif' font-weight="normal" stroke="#111" stroke-width="0.22">−10</text>
<text x="142.1" y="344.1" font-size="10.00" text-anchor="middle" fill="#111" font-family='"Liberation Sans", sans-serif' font-weight="normal" textLength="41.0" lengthAdjust="spacingAndGlyphs" stroke="#111" stroke-width="0.18">Time (%)</text>
<g clip-path="url(#c1)">
<path d="M48.1 213.7 L49.8 213.6 L51.5 213.5 L53.2 213.3 L54.9 213.1 L56.6 212.8 L58.3 212.5 L59.9 212.2 L61.6 211.9 L63.3 211.6 L65.0 211.3 L66.7 210.9 L68.4 210.5 L70.0 210.0 L71.7 209.5 L73.4 208.9 L75.1 208.3 L76.8 207.8 L78.5 207.2 L80.1 206.7 L81.8 206.2 L83.5 205.7 L85.2 205.1 L86.9 204.6 L88.6 204.1 L90.3 203.6 L91.9 203.0 L93.6 202.5 L95.3 201.9 L97.0 201.3 L98.7 200.7 L100.4 200.1 L102.0 199.5 L103.7 198.8 L105.4 198.1 L107.1 197.4 L108.8 196.6 L110.5 195.9 L112.1 195.1 L113.8 194.3 L115.5 193.5 L117.2 192.8 L118.9 192.0 L120.6 191.1 L122.3 190.3 L123.9 189.5 L125.6 188.6 L127.3 187.7 L129.0 186.8 L130.7 185.9 L132.4 185.0 L134.0 184.1 L135.7 183.1 L137.4 182.2 L139.1 181.2 L140.8 180.2 L142.5 179.2 L144.1 178.1 L145.8 176.9 L147.5 175.8 L149.2 174.6 L150.9 173.5 L152.6 172.3 L154.2 171.2 L155.9 170.1 L157.6 169.1 L159.3 168.1 L161.0 167.2 L162.7 166.3 L164.4 165.3 L166.0 164.4 L167.7 163.6 L169.4 162.7 L171.1 161.9 L172.8 161.2 L174.5 160.6 L176.1 160.0 L177.8 159.6 L179.5 159.2 L181.2 158.9 L182.9 158.6 L184.6 158.3 L186.2 158.1 L187.9 157.8 L189.6 157.6 L191.3 157.4 L193.0 157.3 L194.7 157.2 L196.4 157.1 L198.0 157.1 L199.7 157.1 L201.4 157.1 L203.1 157.2 L204.8 157.2 L206.5 157.3 L208.1 157.5 L209.8 157.6 L211.5 157.8 L213.2 157.9 L214.9 158.1 L216.6 158.3 L218.2 158.5 L219.9 158.8 L221.6 159.2 L223.3 159.6 L225.0 160.1 L226.7 160.6 L228.4 161.1 L230.0 161.7 L231.7 162.3 L233.4 162.9 L233.4 252.1 L231.7 251.5 L230.0 250.9 L228.4 250.3 L226.7 249.7 L225.0 249.1 L223.3 248.6 L221.6 248.1 L219.9 247.6 L218.2 247.1 L216.6 246.7 L214.9 246.4 L213.2 246.0 L211.5 245.7 L209.8 245.4 L208.1 245.1 L206.5 244.8 L204.8 244.5 L203.1 244.3 L201.4 244.1 L199.7 243.9 L198.0 243.8 L196.4 243.7 L194.7 243.7 L193.0 243.7 L191.3 243.8 L189.6 243.8 L187.9 243.9 L186.2 244.0 L184.6 244.2 L182.9 244.3 L181.2 244.5 L179.5 244.6 L177.8 244.8 L176.1 245.0 L174.5 245.3 L172.8 245.6 L171.1 246.0 L169.4 246.4 L167.7 246.8 L166.0 247.2 L164.4 247.7 L162.7 248.3 L161.0 248.8 L159.3 249.4 L157.6 250.0 L155.9 250.6 L154.2 251.4 L152.6 252.5 L150.9 253.8 L149.2 255.2 L147.5 256.5 L145.8 257.8 L144.1 259.1 L142.5 260.5 L140.8 261.9 L139.1 263.2 L137.4 264.5 L135.7 265.8 L134.0 267.0 L132.4 268.2 L130.7 269.4 L129.0 270.4 L127.3 271.4 L125.6 272.4 L123.9 273.3 L122.3 274.1 L120.6 274.9 L118.9 275.6 L117.2 276.1 L115.5 276.7 L113.8 277.3 L112.1 277.8 L110.5 278.3 L108.8 278.8 L107.1 279.3 L105.4 279.7 L103.7 280.1 L102.0 280.4 L100.4 280.7 L98.7 280.9 L97.0 281.1 L95.3 281.2 L93.6 281.4 L91.9 281.5 L90.3 281.6 L88.6 281.7 L86.9 281.8 L85.2 281.9 L83.5 282.0 L81.8 282.2 L80.1 282.4 L78.5 282.6 L76.8 282.7 L75.1 282.9 L73.4 283.2 L71.7 283.4 L70.0 283.6 L68.4 283.8 L66.7 284.0 L65.0 284.2 L63.3 284.4 L61.6 284.7 L59.9 284.9 L58.3 285.1 L56.6 285.3 L54.9 285.5 L53.2 285.8 L51.5 286.0 L49.8 286.2 L48.1 286.5Z" fill="#736ef8"/>
<path d="M48.1 204.0 L49.8 204.7 L51.5 205.3 L53.2 206.0 L54.9 206.6 L56.6 207.3 L58.3 207.9 L59.9 208.6 L61.6 209.2 L63.3 209.9 L65.0 210.5 L66.7 211.2 L68.4 211.9 L70.0 212.6 L71.7 213.4 L73.4 214.1 L75.1 214.7 L76.8 215.3 L78.5 215.8 L80.1 216.1 L81.8 216.4 L83.5 216.6 L85.2 216.8 L86.9 216.8 L88.6 216.8 L90.3 216.7 L91.9 216.5 L93.6 216.3 L95.3 215.9 L97.0 215.6 L98.7 215.1 L100.4 214.6 L102.0 213.9 L103.7 213.1 L105.4 212.3 L107.1 211.4 L108.8 210.5 L110.5 209.6 L112.1 208.6 L113.8 207.5 L115.5 206.5 L117.2 205.4 L118.9 204.4 L120.6 203.4 L122.3 202.4 L123.9 201.3 L125.6 200.3 L127.3 199.4 L129.0 198.4 L130.7 197.4 L132.4 196.4 L134.0 195.5 L135.7 194.6 L137.4 193.7 L139.1 192.8 L140.8 191.9 L142.5 191.1 L144.1 190.2 L145.8 189.4 L147.5 188.6 L149.2 187.8 L150.9 187.0 L152.6 186.2 L154.2 185.5 L155.9 184.8 L157.6 184.2 L159.3 183.6 L161.0 183.1 L162.7 182.6 L164.4 182.0 L166.0 181.5 L167.7 181.0 L169.4 180.5 L171.1 180.1 L172.8 179.7 L174.5 179.4 L176.1 179.1 L177.8 178.9 L179.5 178.7 L181.2 178.6 L182.9 178.5 L184.6 178.3 L186.2 178.2 L187.9 178.1 L189.6 178.0 L191.3 177.9 L193.0 177.9 L194.7 177.8 L196.4 177.8 L198.0 177.8 L199.7 177.9 L201.4 177.9 L203.1 178.0 L204.8 178.0 L206.5 178.1 L208.1 178.2 L209.8 178.2 L211.5 178.3 L213.2 178.3 L214.9 178.4 L216.6 178.4 L218.2 178.4 L219.9 178.4 L221.6 178.4 L223.3 178.3 L225.0 178.3 L226.7 178.2 L228.4 178.1 L230.0 178.0 L231.7 177.9 L233.4 177.8 L233.4 235.1 L231.7 235.0 L230.0 235.0 L228.4 234.9 L226.7 234.9 L225.0 234.9 L223.3 234.9 L221.6 234.9 L219.9 235.0 L218.2 235.0 L216.6 235.1 L214.9 235.1 L213.2 235.2 L211.5 235.2 L209.8 235.3 L208.1 235.4 L206.5 235.5 L204.8 235.6 L203.1 235.7 L201.4 235.8 L199.7 235.9 L198.0 236.0 L196.4 236.1 L194.7 236.3 L193.0 236.5 L191.3 236.7 L189.6 237.0 L187.9 237.4 L186.2 237.7 L184.6 238.1 L182.9 238.5 L181.2 238.9 L179.5 239.3 L177.8 239.7 L176.1 240.3 L174.5 240.9 L172.8 241.6 L171.1 242.4 L169.4 243.1 L167.7 244.0 L166.0 244.8 L164.4 245.7 L162.7 246.6 L161.0 247.5 L159.3 248.5 L157.6 249.4 L155.9 250.3 L154.2 251.4 L152.6 252.5 L150.9 253.8 L149.2 255.1 L147.5 256.5 L145.8 258.0 L144.1 259.7 L142.5 261.4 L140.8 263.2 L139.1 264.9 L137.4 266.6 L135.7 268.3 L134.0 270.0 L132.4 271.6 L130.7 273.3 L129.0 275.0 L127.3 276.8 L125.6 278.7 L123.9 280.6 L122.3 282.5 L120.6 284.3 L118.9 286.1 L117.2 287.9 L115.5 289.7 L113.8 291.5 L112.1 293.2 L110.5 294.8 L108.8 296.2 L107.1 297.5 L105.4 298.8 L103.7 300.0 L102.0 301.0 L100.4 301.8 L98.7 302.4 L97.0 303.0 L95.3 303.5 L93.6 303.9 L91.9 304.1 L90.3 304.2 L88.6 304.0 L86.9 303.6 L85.2 303.2 L83.5 302.8 L81.8 302.3 L80.1 301.8 L78.5 301.4 L76.8 301.0 L75.1 300.5 L73.4 300.1 L71.7 299.6 L70.0 299.1 L68.4 298.5 L66.7 297.9 L65.0 297.2 L63.3 296.5 L61.6 295.6 L59.9 294.7 L58.3 293.7 L56.6 292.7 L54.9 291.6 L53.2 290.5 L51.5 289.4 L49.8 288.2 L48.1 287.0Z" fill="#f3667c"/>
<path d="M48.1 204.0 L49.8 204.7 L51.5 205.3 L53.2 206.0 L54.9 206.6 L56.6 207.3 L58.3 207.9 L59.9 208.6 L61.6 209.2 L63.3 209.9 L65.0 210.5 L66.7 211.2 L68.4 211.9 L70.0 212.6 L71.7 213.4 L73.4 214.1 L75.1 214.7 L76.8 215.3 L78.5 215.8 L80.1 216.1 L81.8 216.4 L83.5 216.6 L85.2 216.8 L86.9 216.8 L88.6 216.8 L90.3 216.7 L91.9 216.5 L93.6 216.3 L95.3 215.9 L97.0 215.6 L98.7 215.1 L100.4 214.6 L102.0 213.9 L103.7 213.1 L105.4 212.3 L107.1 211.4 L108.8 210.5 L110.5 209.6 L112.1 208.6 L113.8 207.5 L115.5 206.5 L117.2 205.4 L118.9 204.4 L120.6 203.4 L122.3 202.4 L123.9 201.3 L125.6 200.3 L127.3 199.4 L129.0 198.4 L130.7 197.4 L132.4 196.4 L134.0 195.5 L135.7 194.6 L137.4 193.7 L139.1 192.8 L140.8 191.9 L142.5 191.1 L144.1 190.2 L145.8 189.4 L147.5 188.6 L149.2 187.8 L150.9 187.0 L152.6 186.2 L154.2 185.5 L155.9 184.8 L157.6 184.2 L159.3 183.6 L161.0 183.1 L162.7 182.6 L164.4 182.0 L166.0 181.5 L167.7 181.0 L169.4 180.5 L171.1 180.1 L172.8 179.7 L174.5 179.4 L176.1 179.1 L177.8 178.9 L179.5 178.7 L181.2 178.6 L182.9 178.5 L184.6 178.3 L186.2 178.2 L187.9 178.1 L189.6 178.0 L191.3 177.9 L193.0 177.9 L194.7 177.8 L196.4 177.8 L198.0 177.8 L199.7 177.9 L201.4 177.9 L203.1 178.0 L204.8 178.0 L206.5 178.1 L208.1 178.2 L209.8 178.2 L211.5 178.3 L213.2 178.3 L214.9 178.4 L216.6 178.4 L218.2 178.4 L219.9 178.4 L221.6 178.4 L223.3 178.3 L225.0 178.3 L226.7 178.2 L228.4 178.1 L230.0 178.0 L231.7 177.9 L233.4 177.8 L233.4 235.1 L231.7 235.0 L230.0 235.0 L228.4 234.9 L226.7 234.9 L225.0 234.9 L223.3 234.9 L221.6 234.9 L219.9 235.0 L218.2 235.0 L216.6 235.1 L214.9 235.1 L213.2 235.2 L211.5 235.2 L209.8 235.3 L208.1 235.4 L206.5 235.5 L204.8 235.6 L203.1 235.7 L201.4 235.8 L199.7 235.9 L198.0 236.0 L196.4 236.1 L194.7 236.3 L193.0 236.5 L191.3 236.7 L189.6 237.0 L187.9 237.4 L186.2 237.7 L184.6 238.1 L182.9 238.5 L181.2 238.9 L179.5 239.3 L177.8 239.7 L176.1 240.3 L174.5 240.9 L172.8 241.6 L171.1 242.4 L169.4 243.1 L167.7 244.0 L166.0 244.8 L164.4 245.7 L162.7 246.6 L161.0 247.5 L159.3 248.5 L157.6 249.4 L155.9 250.3 L154.2 251.4 L152.6 252.5 L150.9 253.8 L149.2 255.1 L147.5 256.5 L145.8 258.0 L144.1 259.7 L142.5 261.4 L140.8 263.2 L139.1 264.9 L137.4 266.6 L135.7 268.3 L134.0 270.0 L132.4 271.6 L130.7 273.3 L129.0 275.0 L127.3 276.8 L125.6 278.7 L123.9 280.6 L122.3 282.5 L120.6 284.3 L118.9 286.1 L117.2 287.9 L115.5 289.7 L113.8 291.5 L112.1 293.2 L110.5 294.8 L108.8 296.2 L107.1 297.5 L105.4 298.8 L103.7 300.0 L102.0 301.0 L100.4 301.8 L98.7 302.4 L97.0 303.0 L95.3 303.5 L93.6 303.9 L91.9 304.1 L90.3 304.2 L88.6 304.0 L86.9 303.6 L85.2 303.2 L83.5 302.8 L81.8 302.3 L80.1 301.8 L78.5 301.4 L76.8 301.0 L75.1 300.5 L73.4 300.1 L71.7 299.6 L70.0 299.1 L68.4 298.5 L66.7 297.9 L65.0 297.2 L63.3 296.5 L61.6 295.6 L59.9 294.7 L58.3 293.7 L56.6 292.7 L54.9 291.6 L53.2 290.5 L51.5 289.4 L49.8 288.2 L48.1 287.0Z" fill="#ef3a9e" clip-path="url(#b2)"/>
<path d="M48.1 204.0 L49.8 204.7 L51.5 205.3 L53.2 206.0 L54.9 206.6 L56.6 207.3 L58.3 207.9 L59.9 208.6 L61.6 209.2 L63.3 209.9 L65.0 210.5 L66.7 211.2 L68.4 211.9 L70.0 212.6 L71.7 213.4 L73.4 214.1 L75.1 214.7 L76.8 215.3 L78.5 215.8 L80.1 216.1 L81.8 216.4 L83.5 216.6 L85.2 216.8 L86.9 216.8 L88.6 216.8 L90.3 216.7 L91.9 216.5 L93.6 216.3 L95.3 215.9 L97.0 215.6 L98.7 215.1 L100.4 214.6 L102.0 213.9 L103.7 213.1 L105.4 212.3 L107.1 211.4 L108.8 210.5 L110.5 209.6 L112.1 208.6 L113.8 207.5 L115.5 206.5 L117.2 205.4 L118.9 204.4 L120.6 203.4 L122.3 202.4 L123.9 201.3 L125.6 200.3 L127.3 199.4 L129.0 198.4 L130.7 197.4 L132.4 196.4 L134.0 195.5 L135.7 194.6 L137.4 193.7 L139.1 192.8 L140.8 191.9 L142.5 191.1 L144.1 190.2 L145.8 189.4 L147.5 188.6 L149.2 187.8 L150.9 187.0 L152.6 186.2 L154.2 185.5 L155.9 184.8 L157.6 184.2 L159.3 183.6 L161.0 183.1 L162.7 182.6 L164.4 182.0 L166.0 181.5 L167.7 181.0 L169.4 180.5 L171.1 180.1 L172.8 179.7 L174.5 179.4 L176.1 179.1 L177.8 178.9 L179.5 178.7 L181.2 178.6 L182.9 178.5 L184.6 178.3 L186.2 178.2 L187.9 178.1 L189.6 178.0 L191.3 177.9 L193.0 177.9 L194.7 177.8 L196.4 177.8 L198.0 177.8 L199.7 177.9 L201.4 177.9 L203.1 178.0 L204.8 178.0 L206.5 178.1 L208.1 178.2 L209.8 178.2 L211.5 178.3 L213.2 178.3 L214.9 178.4 L216.6 178.4 L218.2 178.4 L219.9 178.4 L221.6 178.4 L223.3 178.3 L225.0 178.3 L226.7 178.2 L228.4 178.1 L230.0 178.0 L231.7 177.9 L233.4 177.8 L233.4 235.1 L231.7 235.0 L230.0 235.0 L228.4 234.9 L226.7 234.9 L225.0 234.9 L223.3 234.9 L221.6 234.9 L219.9 235.0 L218.2 235.0 L216.6 235.1 L214.9 235.1 L213.2 235.2 L211.5 235.2 L209.8 235.3 L208.1 235.4 L206.5 235.5 L204.8 235.6 L203.1 235.7 L201.4 235.8 L199.7 235.9 L198.0 236.0 L196.4 236.1 L194.7 236.3 L193.0 236.5 L191.3 236.7 L189.6 237.0 L187.9 237.4 L186.2 237.7 L184.6 238.1 L182.9 238.5 L181.2 238.9 L179.5 239.3 L177.8 239.7 L176.1 240.3 L174.5 240.9 L172.8 241.6 L171.1 242.4 L169.4 243.1 L167.7 244.0 L166.0 244.8 L164.4 245.7 L162.7 246.6 L161.0 247.5 L159.3 248.5 L157.6 249.4 L155.9 250.3 L154.2 251.4 L152.6 252.5 L150.9 253.8 L149.2 255.1 L147.5 256.5 L145.8 258.0 L144.1 259.7 L142.5 261.4 L140.8 263.2 L139.1 264.9 L137.4 266.6 L135.7 268.3 L134.0 270.0 L132.4 271.6 L130.7 273.3 L129.0 275.0 L127.3 276.8 L125.6 278.7 L123.9 280.6 L122.3 282.5 L120.6 284.3 L118.9 286.1 L117.2 287.9 L115.5 289.7 L113.8 291.5 L112.1 293.2 L110.5 294.8 L108.8 296.2 L107.1 297.5 L105.4 298.8 L103.7 300.0 L102.0 301.0 L100.4 301.8 L98.7 302.4 L97.0 303.0 L95.3 303.5 L93.6 303.9 L91.9 304.1 L90.3 304.2 L88.6 304.0 L86.9 303.6 L85.2 303.2 L83.5 302.8 L81.8 302.3 L80.1 301.8 L78.5 301.4 L76.8 301.0 L75.1 300.5 L73.4 300.1 L71.7 299.6 L70.0 299.1 L68.4 298.5 L66.7 297.9 L65.0 297.2 L63.3 296.5 L61.6 295.6 L59.9 294.7 L58.3 293.7 L56.6 292.7 L54.9 291.6 L53.2 290.5 L51.5 289.4 L49.8 288.2 L48.1 287.0Z" fill="none" stroke="#f0a8d8" stroke-width="0.9" clip-path="url(#b2)"/>
<path d="M49.3 249.8 L51.0 249.4 L52.7 249.1 L54.4 248.8 L56.1 248.4 L57.8 248.1 L59.4 247.8 L61.1 247.6 L62.8 247.4 L64.5 247.1 L66.2 246.9 L67.9 246.7 L69.6 246.4 L71.3 246.1 L73.0 245.8 L74.6 245.5 L76.3 245.2 L78.0 244.9 L79.7 244.6 L81.4 244.3 L83.1 244.1 L84.8 243.9 L86.5 243.7 L88.2 243.4 L89.8 243.2 L91.5 242.8 L93.2 242.4 L94.9 242.0 L96.6 241.5 L98.3 241.0 L100.0 240.5 L101.7 239.9 L103.4 239.2 L105.0 238.5 L106.7 237.8 L108.4 237.1 L110.1 236.3 L111.8 235.5 L113.5 234.7 L115.2 233.9 L116.9 233.0 L118.6 232.1 L120.2 231.1 L121.9 230.0 L123.6 228.9 L125.3 227.8 L127.0 226.7 L128.7 225.7 L130.4 224.8 L132.1 223.8 L133.8 222.9 L135.4 222.0 L137.1 221.1 L138.8 220.2 L140.5 219.2 L142.2 218.1 L143.9 216.9 L145.6 215.7 L147.3 214.5 L149.0 213.2 L150.6 212.0 L152.3 210.8 L154.0 209.7 L155.7 208.7 L157.4 207.8 L159.1 207.0 L160.8 206.4 L162.5 205.7 L164.2 205.1 L165.8 204.6 L167.5 204.1 L169.2 203.6 L170.9 203.2 L172.6 202.8 L174.3 202.4 L176.0 202.1 L177.7 201.8 L179.4 201.6 L181.0 201.4 L182.7 201.1 L184.4 200.9 L186.1 200.7 L187.8 200.5 L189.5 200.3 L191.2 200.1 L192.9 200.0 L194.6 199.9 L196.2 199.8 L197.9 199.8 L199.6 199.8 L201.3 199.8 L203.0 199.9 L204.7 200.0 L206.4 200.2 L208.1 200.4 L209.8 200.7 L211.4 201.0 L213.1 201.2 L214.8 201.6 L216.5 201.9 L218.2 202.2 L219.9 202.8 L221.6 203.6 L223.3 204.5 L225.0 205.2 L226.6 205.8 L228.3 206.1 L230.0 206.2 L231.7 206.2 L233.4 206.0" fill="none" stroke="#1000e6" stroke-width="3.7" stroke-linecap="round" stroke-linejoin="round"/>
<path d="M49.3 244.9 L51.0 245.5 L52.7 246.1 L54.4 246.7 L56.1 247.4 L57.8 248.1 L59.4 248.8 L61.1 249.6 L62.8 250.5 L64.5 251.4 L66.2 252.3 L67.9 253.1 L69.6 253.9 L71.3 254.6 L73.0 255.4 L74.6 256.1 L76.3 256.7 L78.0 257.3 L79.7 257.8 L81.4 258.4 L83.1 258.8 L84.8 259.3 L86.5 259.6 L88.2 259.9 L89.8 260.1 L91.5 260.1 L93.2 259.9 L94.9 259.5 L96.6 259.0 L98.3 258.5 L100.0 257.9 L101.7 257.2 L103.4 256.2 L105.0 255.1 L106.7 254.0 L108.4 252.8 L110.1 251.6 L111.8 250.3 L113.5 248.9 L115.2 247.5 L116.9 246.1 L118.6 244.7 L120.2 243.4 L121.9 242.0 L123.6 240.7 L125.3 239.3 L127.0 238.0 L128.7 236.6 L130.4 235.2 L132.1 233.8 L133.8 232.3 L135.4 230.9 L137.1 229.5 L138.8 228.1 L140.5 226.8 L142.2 225.6 L143.9 224.3 L145.6 223.1 L147.3 221.9 L149.0 220.7 L150.6 219.5 L152.3 218.4 L154.0 217.4 L155.7 216.4 L157.4 215.6 L159.1 214.8 L160.8 214.1 L162.5 213.3 L164.2 212.6 L165.8 212.0 L167.5 211.3 L169.2 210.7 L170.9 210.2 L172.6 209.7 L174.3 209.3 L176.0 208.9 L177.7 208.6 L179.4 208.4 L181.0 208.2 L182.7 208.0 L184.4 207.9 L186.1 207.7 L187.8 207.5 L189.5 207.4 L191.2 207.2 L192.9 207.1 L194.6 207.0 L196.2 207.0 L197.9 206.9 L199.6 206.9 L201.3 206.9 L203.0 206.9 L204.7 206.9 L206.4 206.9 L208.1 207.0 L209.8 207.0 L211.4 207.0 L213.1 207.0 L214.8 207.0 L216.5 206.9 L218.2 206.9 L219.9 206.8 L221.6 206.8 L223.3 206.7 L225.0 206.6 L226.6 206.5 L228.3 206.3 L230.0 206.2 L231.7 206.1 L233.4 206.0" fill="none" stroke="#ff0a2a" stroke-width="4.5" stroke-linecap="round" stroke-linejoin="round"/>
<line x1="51.7" y1="216.0" x2="233.4" y2="216.0" stroke="#111" stroke-width="1.6" stroke-dasharray="3.0 4.3"/>
</g>
<path d="M48.1 144.8 H233.4 V316.9 H48.1 Z" fill="none" stroke="#1a1a1a" stroke-width="1.30"/>
<line x1="233.4" y1="144.8" x2="233.4" y2="316.9" stroke="#111" stroke-width="2.60"/>
<text transform="translate(16.9 230.8) rotate(-90)" x="0" y="0" font-size="9.8" text-anchor="middle" fill="#111" stroke="#111" stroke-width="0.12" font-family='"Liberation Sans", sans-serif' textLength="55.6" lengthAdjust="spacingAndGlyphs">PelvisAngles_Y</text>
<line x1="288.1" y1="314.6" x2="288.1" y2="318.1" stroke="#222" stroke-width="1"/>
<text x="288.1" y="329.1" font-size="10.00" text-anchor="middle" fill="#111" font-family='"Liberation Sans", sans-serif' font-weight="normal" stroke="#111" stroke-width="0.22">0</text>
<line x1="325.5" y1="314.6" x2="325.5" y2="318.1" stroke="#222" stroke-width="1"/>
<text x="325.5" y="329.1" font-size="10.00" text-anchor="middle" fill="#111" font-family='"Liberation Sans", sans-serif' font-weight="normal" stroke="#111" stroke-width="0.22">20</text>
<line x1="362.9" y1="314.6" x2="362.9" y2="318.1" stroke="#222" stroke-width="1"/>
<text x="362.9" y="329.1" font-size="10.00" text-anchor="middle" fill="#111" font-family='"Liberation Sans", sans-serif' font-weight="normal" stroke="#111" stroke-width="0.22">40</text>
<line x1="400.2" y1="314.6" x2="400.2" y2="318.1" stroke="#222" stroke-width="1"/>
<text x="400.2" y="329.1" font-size="10.00" text-anchor="middle" fill="#111" font-family='"Liberation Sans", sans-serif' font-weight="normal" stroke="#111" stroke-width="0.22">60</text>
<line x1="437.6" y1="314.6" x2="437.6" y2="318.1" stroke="#222" stroke-width="1"/>
<text x="437.6" y="329.1" font-size="10.00" text-anchor="middle" fill="#111" font-family='"Liberation Sans", sans-serif' font-weight="normal" stroke="#111" stroke-width="0.22">80</text>
<line x1="475.0" y1="314.6" x2="475.0" y2="318.1" stroke="#222" stroke-width="1"/>
<text x="475.0" y="329.1" font-size="10.00" text-anchor="middle" fill="#111" font-family='"Liberation Sans", sans-serif' font-weight="normal" stroke="#111" stroke-width="0.22">100</text>
<line x1="284.3" y1="148.1" x2="287.8" y2="148.1" stroke="#222" stroke-width="1"/>
<text x="281.0" y="153.0" font-size="10.00" text-anchor="end" fill="#111" font-family='"Liberation Sans", sans-serif' font-weight="normal" stroke="#111" stroke-width="0.22">5</text>
<line x1="284.3" y1="167.5" x2="287.8" y2="167.5" stroke="#222" stroke-width="1"/>
<text x="281.0" y="172.4" font-size="10.00" text-anchor="end" fill="#111" font-family='"Liberation Sans", sans-serif' font-weight="normal" stroke="#111" stroke-width="0.22">4</text>
<line x1="284.3" y1="186.9" x2="287.8" y2="186.9" stroke="#222" stroke-width="1"/>
<text x="281.0" y="191.8" font-size="10.00" text-anchor="end" fill="#111" font-family='"Liberation Sans", sans-serif' font-weight="normal" stroke="#111" stroke-width="0.22">3</text>
<line x1="284.3" y1="206.3" x2="287.8" y2="206.3" stroke="#222" stroke-width="1"/>
<text x="281.0" y="211.2" font-size="10.00" text-anchor="end" fill="#111" font-family='"Liberation Sans", sans-serif' font-weight="normal" stroke="#111" stroke-width="0.22">2</text>
<line x1="284.3" y1="225.7" x2="287.8" y2="225.7" stroke="#222" stroke-width="1"/>
<text x="281.0" y="230.6" font-size="10.00" text-anchor="end" fill="#111" font-family='"Liberation Sans", sans-serif' font-weight="normal" stroke="#111" stroke-width="0.22">1</text>
<line x1="284.3" y1="245.1" x2="287.8" y2="245.1" stroke="#222" stroke-width="1"/>
<text x="281.0" y="250.0" font-size="10.00" text-anchor="end" fill="#111" font-family='"Liberation Sans", sans-serif' font-weight="normal" stroke="#111" stroke-width="0.22">0</text>
<line x1="284.3" y1="264.5" x2="287.8" y2="264.5" stroke="#222" stroke-width="1"/>
<text x="281.0" y="269.4" font-size="10.00" text-anchor="end" fill="#111" font-family='"Liberation Sans", sans-serif' font-weight="normal" stroke="#111" stroke-width="0.22">−1</text>
<line x1="284.3" y1="283.9" x2="287.8" y2="283.9" stroke="#222" stroke-width="1"/>
<text x="281.0" y="288.8" font-size="10.00" text-anchor="end" fill="#111" font-family='"Liberation Sans", sans-serif' font-weight="normal" stroke="#111" stroke-width="0.22">−2</text>
<line x1="284.3" y1="303.3" x2="287.8" y2="303.3" stroke="#222" stroke-width="1"/>
<text x="281.0" y="308.2" font-size="10.00" text-anchor="end" fill="#111" font-family='"Liberation Sans", sans-serif' font-weight="normal" stroke="#111" stroke-width="0.22">−3</text>
<text x="381.6" y="341.8" font-size="10.00" text-anchor="middle" fill="#111" font-family='"Liberation Sans", sans-serif' font-weight="normal" textLength="41.0" lengthAdjust="spacingAndGlyphs" stroke="#111" stroke-width="0.18">Time (%)</text>
<g clip-path="url(#c3)">
</g>
<rect x="288.1" y="275.2" width="102.9" height="15.1" fill="#fff" fill-opacity="1.00" stroke="#8a8a8a" stroke-width="1.3"/>
<text x="291.5" y="286.0" font-size="10.20" text-anchor="start" fill="#111" font-family='"Liberation Sans", sans-serif' font-weight="normal" textLength="89.5" lengthAdjust="spacingAndGlyphs" stroke="#111" stroke-width="0.08">p = 0.043</text>
<g clip-path="url(#c3)">
<line x1="289.1" y1="191.4" x2="475.0" y2="191.4" stroke="#2a2a2a" stroke-width="1.5" stroke-dasharray="7.8 3.8"/>
<line x1="289.1" y1="297.5" x2="475.0" y2="297.5" stroke="#2a2a2a" stroke-width="1.5" stroke-dasharray="7.8 3.8"/>
<line x1="289.1" y1="245.1" x2="475.0" y2="245.1" stroke="#111" stroke-width="1.4" stroke-dasharray="2.2 2.8"/>
<path d="M286.3 224.1 L288.0 228.4 L289.7 232.7 L291.4 236.8 L293.1 240.9 L294.8 244.8 L296.5 248.7 L298.1 252.6 L299.8 256.4 L301.5 260.3 L303.2 264.1 L304.9 267.8 L306.6 271.4 L308.3 274.9 L310.0 278.4 L311.7 281.7 L313.4 284.8 L315.1 287.7 L316.9 290.6 L318.6 293.2 L320.4 295.4 L322.2 297.2 L324.0 298.9 L325.9 300.4 L327.8 301.6 L329.6 302.4 L331.5 302.8 L333.4 303.2 L335.2 303.4 L337.0 303.4 L338.9 303.3 L340.7 302.9 L342.5 302.4 L344.3 301.7 L346.1 300.9 L347.8 300.0 L349.6 299.1 L351.3 298.0 L353.1 296.8 L354.8 295.6 L356.5 294.4 L358.2 293.1 L359.9 291.8 L361.6 290.5 L363.2 289.2 L364.9 288.0 L366.6 286.6 L368.3 285.3 L370.0 284.0 L371.6 282.8 L373.3 281.6 L374.9 280.5 L376.5 279.5 L378.2 278.4 L379.8 277.5 L381.4 276.6 L383.0 275.9 L384.6 275.2 L386.2 274.5 L387.8 273.9 L389.4 273.5 L391.0 273.3 L392.6 273.2 L394.2 273.1 L395.9 273.0 L397.6 272.9 L399.3 272.9 L400.9 272.9 L402.6 272.8 L404.3 272.8 L405.9 272.8 L407.6 272.9 L409.3 272.9 L411.0 272.9 L412.7 273.0 L414.3 273.0 L416.0 273.1 L417.7 273.2 L419.3 273.2 L421.0 273.4 L422.6 273.5 L424.3 273.7 L426.0 274.0 L427.6 274.2 L429.3 274.5 L431.0 274.7 L432.7 275.0 L434.5 275.1 L436.2 275.3 L437.9 275.3 L439.7 275.2 L441.4 275.1 L443.2 274.9 L444.9 274.7 L446.8 274.4 L448.6 274.0 L450.5 273.2 L452.4 272.0 L454.2 270.5 L455.9 269.0 L457.7 267.3 L459.4 265.7 L461.1 264.1 L462.8 262.3 L464.6 260.4 L466.3 258.2 L468.1 255.9 L469.8 253.4 L471.6 250.6 L473.3 247.3 L475.0 243.6 L476.7 239.7 L473.2 238.1 L471.5 241.9 L469.9 245.5 L468.3 248.7 L466.6 251.4 L465.0 253.7 L463.4 255.9 L461.8 258.0 L460.1 259.9 L458.5 261.6 L456.9 263.2 L455.2 264.7 L453.6 266.3 L452.0 267.8 L450.4 269.2 L448.9 270.3 L447.5 271.1 L445.9 271.5 L444.4 271.8 L442.8 272.1 L441.2 272.4 L439.5 272.5 L437.9 272.7 L436.3 272.6 L434.7 272.4 L433.0 272.2 L431.4 272.0 L429.7 271.7 L428.0 271.5 L426.3 271.2 L424.6 271.0 L422.9 270.8 L421.2 270.6 L419.5 270.6 L417.8 270.5 L416.1 270.4 L414.4 270.4 L412.7 270.3 L411.0 270.3 L409.3 270.3 L407.7 270.2 L406.0 270.2 L404.3 270.2 L402.6 270.2 L400.9 270.2 L399.2 270.3 L397.5 270.3 L395.8 270.4 L394.1 270.4 L392.4 270.5 L390.6 270.5 L388.9 270.7 L387.1 271.1 L385.3 271.6 L383.5 272.3 L381.8 273.0 L380.0 273.7 L378.3 274.6 L376.5 275.6 L374.8 276.6 L373.1 277.7 L371.3 278.8 L369.6 280.0 L367.9 281.3 L366.2 282.6 L364.5 283.9 L362.8 285.2 L361.2 286.5 L359.5 287.7 L357.8 289.0 L356.1 290.3 L354.4 291.6 L352.8 292.9 L351.1 294.1 L349.5 295.2 L347.9 296.2 L346.3 297.1 L344.7 298.0 L343.1 298.8 L341.5 299.5 L339.9 300.1 L338.4 300.5 L336.9 300.8 L335.4 300.7 L333.8 300.4 L332.3 300.0 L330.8 299.5 L329.3 298.7 L327.8 297.6 L326.3 296.3 L324.8 294.7 L323.2 293.1 L321.6 291.0 L320.0 288.5 L318.4 285.7 L316.7 282.9 L315.1 279.9 L313.4 276.7 L311.8 273.2 L310.1 269.7 L308.4 266.2 L306.7 262.5 L305.1 258.7 L303.4 254.9 L301.7 251.0 L300.0 247.2 L298.3 243.3 L296.7 239.3 L295.0 235.3 L293.3 231.2 L291.6 227.0 L290.0 222.7Z" fill="#000" stroke="#000" stroke-width="0.3" stroke-linejoin="round"/><circle cx="288.1" cy="223.4" r="1.95" fill="#000"/><circle cx="475.0" cy="238.9" r="1.94" fill="#000"/>
</g>
<path d="M287.8 144.3 H475.0 V314.6 H287.8 Z" fill="none" stroke="#1a1a1a" stroke-width="1.30"/>
<text x="305.2" y="181.7" font-size="10.64" fill="#cf1f2b" stroke="#cf1f2b" stroke-width="0.1" font-family='"Liberation Sans", sans-serif' textLength="89.6" lengthAdjust="spacingAndGlyphs" style="white-space:pre"><tspan font-style="italic">α</tspan>=0.05:  <tspan font-style="italic">t</tspan><tspan font-size="7.6" dy="-2.9">*</tspan><tspan dy="2.9"> =2.710</tspan></text>
<text transform="translate(262.5 231.5) rotate(-90)" x="0" y="0" font-size="17" text-anchor="middle" fill="#111" stroke="#111" stroke-width="0.12" font-family='"Liberation Sans", sans-serif' textLength="46.6" lengthAdjust="spacingAndGlyphs">SPM{t}</text>
<line x1="49.3" y1="623.0" x2="49.3" y2="626.5" stroke="#222" stroke-width="1"/>
<text x="49.3" y="637.5" font-size="10.00" text-anchor="middle" fill="#111" font-family='"Liberation Sans", sans-serif' font-weight="normal" stroke="#111" stroke-width="0.22">0</text>
<line x1="86.4" y1="623.0" x2="86.4" y2="626.5" stroke="#222" stroke-width="1"/>
<text x="86.4" y="637.5" font-size="10.00" text-anchor="middle" fill="#111" font-family='"Liberation Sans", sans-serif' font-weight="normal" stroke="#111" stroke-width="0.22">20</text>
<line x1="123.6" y1="623.0" x2="123.6" y2="626.5" stroke="#222" stroke-width="1"/>
<text x="123.6" y="637.5" font-size="10.00" text-anchor="middle" fill="#111" font-family='"Liberation Sans", sans-serif' font-weight="normal" stroke="#111" stroke-width="0.22">40</text>
<line x1="160.7" y1="623.0" x2="160.7" y2="626.5" stroke="#222" stroke-width="1"/>
<text x="160.7" y="637.5" font-size="10.00" text-anchor="middle" fill="#111" font-family='"Liberation Sans", sans-serif' font-weight="normal" stroke="#111" stroke-width="0.22">60</text>
<line x1="197.9" y1="623.0" x2="197.9" y2="626.5" stroke="#222" stroke-width="1"/>
<text x="197.9" y="637.5" font-size="10.00" text-anchor="middle" fill="#111" font-family='"Liberation Sans", sans-serif' font-weight="normal" stroke="#111" stroke-width="0.22">80</text>
<line x1="235.0" y1="623.0" x2="235.0" y2="626.5" stroke="#222" stroke-width="1"/>
<text x="235.0" y="637.5" font-size="10.00" text-anchor="middle" fill="#111" font-family='"Liberation Sans", sans-serif' font-weight="normal" stroke="#111" stroke-width="0.22">100</text>
<line x1="44.3" y1="454.2" x2="47.8" y2="454.2" stroke="#222" stroke-width="1"/>
<text x="41.0" y="459.1" font-size="10.00" text-anchor="end" fill="#111" font-family='"Liberation Sans", sans-serif' font-weight="normal" stroke="#111" stroke-width="0.22">5</text>
<line x1="44.3" y1="487.0" x2="47.8" y2="487.0" stroke="#222" stroke-width="1"/>
<text x="41.0" y="491.9" font-size="10.00" text-anchor="end" fill="#111" font-family='"Liberation Sans", sans-serif' font-weight="normal" stroke="#111" stroke-width="0.22">0</text>
<line x1="44.3" y1="519.8" x2="47.8" y2="519.8" stroke="#222" stroke-width="1"/>
<text x="41.0" y="524.7" font-size="10.00" text-anchor="end" fill="#111" font-family='"Liberation Sans", sans-serif' font-weight="normal" stroke="#111" stroke-width="0.22">−5</text>
<line x1="44.3" y1="552.6" x2="47.8" y2="552.6" stroke="#222" stroke-width="1"/>
<text x="41.0" y="557.5" font-size="10.00" text-anchor="end" fill="#111" font-family='"Liberation Sans", sans-serif' font-weight="normal" stroke="#111" stroke-width="0.22">−10</text>
<line x1="44.3" y1="585.4" x2="47.8" y2="585.4" stroke="#222" stroke-width="1"/>
<text x="41.0" y="590.3" font-size="10.00" text-anchor="end" fill="#111" font-family='"Liberation Sans", sans-serif' font-weight="normal" stroke="#111" stroke-width="0.22">−15</text>
<line x1="44.3" y1="618.2" x2="47.8" y2="618.2" stroke="#222" stroke-width="1"/>
<text x="41.0" y="623.1" font-size="10.00" text-anchor="end" fill="#111" font-family='"Liberation Sans", sans-serif' font-weight="normal" stroke="#111" stroke-width="0.22">−20</text>
<text x="142.2" y="650.2" font-size="10.00" text-anchor="middle" fill="#111" font-family='"Liberation Sans", sans-serif' font-weight="normal" textLength="41.0" lengthAdjust="spacingAndGlyphs" stroke="#111" stroke-width="0.18">Time (%)</text>
<g clip-path="url(#c4)">
<path d="M48.7 486.3 L50.4 487.4 L52.1 488.5 L53.8 489.6 L55.5 490.6 L57.2 491.5 L58.9 492.2 L60.6 492.9 L62.3 493.6 L64.0 494.3 L65.7 494.9 L67.4 495.6 L69.0 496.1 L70.7 496.7 L72.4 497.2 L74.1 497.7 L75.8 498.2 L77.5 498.6 L79.2 498.9 L80.9 499.3 L82.6 499.6 L84.3 500.0 L86.0 500.3 L87.7 500.7 L89.4 501.0 L91.1 501.2 L92.7 501.4 L94.4 501.6 L96.1 501.7 L97.8 501.8 L99.5 501.8 L101.2 501.7 L102.9 501.6 L104.6 501.5 L106.3 501.4 L108.0 501.3 L109.7 501.1 L111.4 500.9 L113.1 500.7 L114.8 500.5 L116.4 500.4 L118.1 500.2 L119.8 499.9 L121.5 499.7 L123.2 499.4 L124.9 499.2 L126.6 498.9 L128.3 498.5 L130.0 498.2 L131.7 497.8 L133.4 497.3 L135.1 496.7 L136.8 496.1 L138.5 495.4 L140.1 494.7 L141.8 494.0 L143.5 493.4 L145.2 492.8 L146.9 492.4 L148.6 492.0 L150.3 491.6 L152.0 491.3 L153.7 490.9 L155.4 490.6 L157.1 490.3 L158.8 490.0 L160.5 489.8 L162.2 489.6 L163.9 489.4 L165.5 489.2 L167.2 489.1 L168.9 488.9 L170.6 488.8 L172.3 488.7 L174.0 488.6 L175.7 488.4 L177.4 488.3 L179.1 488.2 L180.8 488.2 L182.5 488.2 L184.2 488.2 L185.9 488.2 L187.6 488.3 L189.2 488.3 L190.9 488.4 L192.6 488.5 L194.3 488.6 L196.0 488.7 L197.7 488.8 L199.4 488.9 L201.1 489.0 L202.8 489.1 L204.5 489.1 L206.2 489.2 L207.9 489.3 L209.6 489.4 L211.3 489.5 L212.9 489.6 L214.6 489.7 L216.3 489.8 L218.0 489.9 L219.7 490.0 L221.4 490.0 L223.1 490.1 L224.8 490.2 L226.5 490.2 L228.2 490.2 L229.9 490.2 L231.6 490.2 L233.3 490.2 L235.0 490.1 L235.0 578.4 L233.3 578.3 L231.6 578.2 L229.9 578.0 L228.2 577.9 L226.5 577.7 L224.8 577.5 L223.1 577.3 L221.4 577.1 L219.7 576.8 L218.0 576.6 L216.3 576.4 L214.6 576.1 L212.9 575.8 L211.3 575.5 L209.6 575.3 L207.9 575.0 L206.2 574.7 L204.5 574.5 L202.8 574.2 L201.1 573.9 L199.4 573.6 L197.7 573.2 L196.0 572.9 L194.3 572.6 L192.6 572.3 L190.9 572.0 L189.2 571.7 L187.6 571.5 L185.9 571.3 L184.2 571.1 L182.5 570.9 L180.8 570.8 L179.1 570.7 L177.4 570.6 L175.7 570.5 L174.0 570.4 L172.3 570.4 L170.6 570.4 L168.9 570.5 L167.2 570.6 L165.5 570.7 L163.9 570.8 L162.2 571.1 L160.5 571.3 L158.8 571.6 L157.1 571.9 L155.4 572.2 L153.7 572.6 L152.0 572.9 L150.3 573.2 L148.6 573.5 L146.9 573.9 L145.2 574.2 L143.5 574.5 L141.8 574.9 L140.1 575.3 L138.5 575.6 L136.8 575.9 L135.1 576.3 L133.4 576.6 L131.7 576.9 L130.0 577.3 L128.3 577.6 L126.6 577.9 L124.9 578.2 L123.2 578.6 L121.5 578.8 L119.8 579.1 L118.1 579.3 L116.4 579.5 L114.8 579.6 L113.1 579.6 L111.4 579.5 L109.7 579.2 L108.0 579.0 L106.3 578.6 L104.6 578.3 L102.9 578.0 L101.2 577.5 L99.5 577.0 L97.8 576.4 L96.1 575.7 L94.4 575.0 L92.7 574.3 L91.1 573.5 L89.4 572.7 L87.7 571.8 L86.0 570.8 L84.3 569.8 L82.6 568.6 L80.9 567.5 L79.2 566.2 L77.5 564.7 L75.8 563.1 L74.1 561.4 L72.4 559.8 L70.7 558.2 L69.0 556.8 L67.4 555.5 L65.7 554.2 L64.0 552.9 L62.3 551.7 L60.6 550.6 L58.9 549.7 L57.2 549.0 L55.5 548.5 L53.8 548.0 L52.1 547.6 L50.4 547.4 L48.7 547.4Z" fill="#736ef8"/>
<path d="M48.7 486.3 L50.4 487.6 L52.1 489.0 L53.8 490.3 L55.5 491.7 L57.2 493.1 L58.9 494.6 L60.6 496.0 L62.3 497.5 L64.0 499.1 L65.7 500.7 L67.4 502.3 L69.0 503.8 L70.7 505.3 L72.4 506.7 L74.1 508.0 L75.8 509.2 L77.5 510.3 L79.2 511.4 L80.9 512.5 L82.6 513.6 L84.3 514.5 L86.0 515.4 L87.7 516.2 L89.4 516.9 L91.1 517.5 L92.7 518.0 L94.4 518.3 L96.1 518.4 L97.8 518.4 L99.5 518.3 L101.2 518.0 L102.9 517.7 L104.6 517.2 L106.3 516.5 L108.0 515.8 L109.7 515.0 L111.4 514.1 L113.1 513.1 L114.8 511.9 L116.4 510.6 L118.1 509.2 L119.8 507.8 L121.5 506.3 L123.2 504.8 L124.9 503.3 L126.6 501.9 L128.3 500.5 L130.0 499.1 L131.7 497.9 L133.4 496.7 L135.1 495.5 L136.8 494.2 L138.5 493.0 L140.1 491.8 L141.8 490.7 L143.5 489.7 L145.2 488.9 L146.9 488.1 L148.6 487.4 L150.3 486.7 L152.0 486.1 L153.7 485.5 L155.4 484.9 L157.1 484.3 L158.8 483.8 L160.5 483.4 L162.2 483.0 L163.9 482.7 L165.5 482.4 L167.2 482.2 L168.9 482.0 L170.6 481.8 L172.3 481.6 L174.0 481.4 L175.7 481.3 L177.4 481.1 L179.1 481.0 L180.8 480.9 L182.5 480.8 L184.2 480.8 L185.9 480.8 L187.6 480.9 L189.2 481.0 L190.9 481.1 L192.6 481.2 L194.3 481.4 L196.0 481.5 L197.7 481.6 L199.4 481.7 L201.1 481.8 L202.8 481.9 L204.5 482.0 L206.2 482.0 L207.9 482.0 L209.6 482.0 L211.3 481.9 L212.9 481.8 L214.6 481.7 L216.3 481.5 L218.0 481.4 L219.7 481.3 L221.4 481.1 L223.1 480.9 L224.8 480.8 L226.5 480.5 L228.2 480.2 L229.9 479.8 L231.6 479.4 L233.3 479.0 L235.0 478.5 L235.0 571.6 L233.3 571.9 L231.6 572.1 L229.9 572.4 L228.2 572.7 L226.5 572.9 L224.8 573.1 L223.1 573.3 L221.4 573.5 L219.7 573.6 L218.0 573.6 L216.3 573.6 L214.6 573.6 L212.9 573.4 L211.3 573.3 L209.6 573.1 L207.9 572.8 L206.2 572.6 L204.5 572.3 L202.8 572.1 L201.1 571.9 L199.4 571.6 L197.7 571.4 L196.0 571.3 L194.3 571.2 L192.6 571.1 L190.9 571.0 L189.2 570.9 L187.6 570.8 L185.9 570.8 L184.2 570.7 L182.5 570.7 L180.8 570.6 L179.1 570.6 L177.4 570.6 L175.7 570.6 L174.0 570.7 L172.3 570.8 L170.6 570.9 L168.9 571.0 L167.2 571.2 L165.5 571.4 L163.9 571.6 L162.2 571.8 L160.5 572.0 L158.8 572.2 L157.1 572.5 L155.4 572.7 L153.7 573.1 L152.0 573.5 L150.3 574.1 L148.6 574.6 L146.9 575.3 L145.2 575.9 L143.5 576.6 L141.8 577.3 L140.1 578.2 L138.5 579.1 L136.8 580.1 L135.1 581.2 L133.4 582.3 L131.7 583.4 L130.0 584.7 L128.3 586.0 L126.6 587.4 L124.9 588.8 L123.2 590.3 L121.5 591.7 L119.8 593.2 L118.1 594.7 L116.4 596.3 L114.8 597.9 L113.1 599.4 L111.4 601.0 L109.7 602.4 L108.0 603.8 L106.3 605.3 L104.6 606.6 L102.9 607.9 L101.2 608.9 L99.5 609.7 L97.8 610.3 L96.1 610.8 L94.4 611.1 L92.7 611.0 L91.1 610.6 L89.4 609.8 L87.7 608.8 L86.0 607.7 L84.3 606.6 L82.6 605.3 L80.9 604.0 L79.2 602.6 L77.5 601.1 L75.8 599.6 L74.1 598.0 L72.4 596.2 L70.7 594.3 L69.0 592.4 L67.4 590.4 L65.7 588.5 L64.0 586.7 L62.3 585.0 L60.6 583.4 L58.9 581.8 L57.2 580.2 L55.5 578.7 L53.8 577.2 L52.1 575.8 L50.4 574.5 L48.7 573.2Z" fill="#f3667c"/>
<path d="M48.7 486.3 L50.4 487.6 L52.1 489.0 L53.8 490.3 L55.5 491.7 L57.2 493.1 L58.9 494.6 L60.6 496.0 L62.3 497.5 L64.0 499.1 L65.7 500.7 L67.4 502.3 L69.0 503.8 L70.7 505.3 L72.4 506.7 L74.1 508.0 L75.8 509.2 L77.5 510.3 L79.2 511.4 L80.9 512.5 L82.6 513.6 L84.3 514.5 L86.0 515.4 L87.7 516.2 L89.4 516.9 L91.1 517.5 L92.7 518.0 L94.4 518.3 L96.1 518.4 L97.8 518.4 L99.5 518.3 L101.2 518.0 L102.9 517.7 L104.6 517.2 L106.3 516.5 L108.0 515.8 L109.7 515.0 L111.4 514.1 L113.1 513.1 L114.8 511.9 L116.4 510.6 L118.1 509.2 L119.8 507.8 L121.5 506.3 L123.2 504.8 L124.9 503.3 L126.6 501.9 L128.3 500.5 L130.0 499.1 L131.7 497.9 L133.4 496.7 L135.1 495.5 L136.8 494.2 L138.5 493.0 L140.1 491.8 L141.8 490.7 L143.5 489.7 L145.2 488.9 L146.9 488.1 L148.6 487.4 L150.3 486.7 L152.0 486.1 L153.7 485.5 L155.4 484.9 L157.1 484.3 L158.8 483.8 L160.5 483.4 L162.2 483.0 L163.9 482.7 L165.5 482.4 L167.2 482.2 L168.9 482.0 L170.6 481.8 L172.3 481.6 L174.0 481.4 L175.7 481.3 L177.4 481.1 L179.1 481.0 L180.8 480.9 L182.5 480.8 L184.2 480.8 L185.9 480.8 L187.6 480.9 L189.2 481.0 L190.9 481.1 L192.6 481.2 L194.3 481.4 L196.0 481.5 L197.7 481.6 L199.4 481.7 L201.1 481.8 L202.8 481.9 L204.5 482.0 L206.2 482.0 L207.9 482.0 L209.6 482.0 L211.3 481.9 L212.9 481.8 L214.6 481.7 L216.3 481.5 L218.0 481.4 L219.7 481.3 L221.4 481.1 L223.1 480.9 L224.8 480.8 L226.5 480.5 L228.2 480.2 L229.9 479.8 L231.6 479.4 L233.3 479.0 L235.0 478.5 L235.0 571.6 L233.3 571.9 L231.6 572.1 L229.9 572.4 L228.2 572.7 L226.5 572.9 L224.8 573.1 L223.1 573.3 L221.4 573.5 L219.7 573.6 L218.0 573.6 L216.3 573.6 L214.6 573.6 L212.9 573.4 L211.3 573.3 L209.6 573.1 L207.9 572.8 L206.2 572.6 L204.5 572.3 L202.8 572.1 L201.1 571.9 L199.4 571.6 L197.7 571.4 L196.0 571.3 L194.3 571.2 L192.6 571.1 L190.9 571.0 L189.2 570.9 L187.6 570.8 L185.9 570.8 L184.2 570.7 L182.5 570.7 L180.8 570.6 L179.1 570.6 L177.4 570.6 L175.7 570.6 L174.0 570.7 L172.3 570.8 L170.6 570.9 L168.9 571.0 L167.2 571.2 L165.5 571.4 L163.9 571.6 L162.2 571.8 L160.5 572.0 L158.8 572.2 L157.1 572.5 L155.4 572.7 L153.7 573.1 L152.0 573.5 L150.3 574.1 L148.6 574.6 L146.9 575.3 L145.2 575.9 L143.5 576.6 L141.8 577.3 L140.1 578.2 L138.5 579.1 L136.8 580.1 L135.1 581.2 L133.4 582.3 L131.7 583.4 L130.0 584.7 L128.3 586.0 L126.6 587.4 L124.9 588.8 L123.2 590.3 L121.5 591.7 L119.8 593.2 L118.1 594.7 L116.4 596.3 L114.8 597.9 L113.1 599.4 L111.4 601.0 L109.7 602.4 L108.0 603.8 L106.3 605.3 L104.6 606.6 L102.9 607.9 L101.2 608.9 L99.5 609.7 L97.8 610.3 L96.1 610.8 L94.4 611.1 L92.7 611.0 L91.1 610.6 L89.4 609.8 L87.7 608.8 L86.0 607.7 L84.3 606.6 L82.6 605.3 L80.9 604.0 L79.2 602.6 L77.5 601.1 L75.8 599.6 L74.1 598.0 L72.4 596.2 L70.7 594.3 L69.0 592.4 L67.4 590.4 L65.7 588.5 L64.0 586.7 L62.3 585.0 L60.6 583.4 L58.9 581.8 L57.2 580.2 L55.5 578.7 L53.8 577.2 L52.1 575.8 L50.4 574.5 L48.7 573.2Z" fill="#ef3a9e" clip-path="url(#b5)"/>
<path d="M48.7 486.3 L50.4 487.6 L52.1 489.0 L53.8 490.3 L55.5 491.7 L57.2 493.1 L58.9 494.6 L60.6 496.0 L62.3 497.5 L64.0 499.1 L65.7 500.7 L67.4 502.3 L69.0 503.8 L70.7 505.3 L72.4 506.7 L74.1 508.0 L75.8 509.2 L77.5 510.3 L79.2 511.4 L80.9 512.5 L82.6 513.6 L84.3 514.5 L86.0 515.4 L87.7 516.2 L89.4 516.9 L91.1 517.5 L92.7 518.0 L94.4 518.3 L96.1 518.4 L97.8 518.4 L99.5 518.3 L101.2 518.0 L102.9 517.7 L104.6 517.2 L106.3 516.5 L108.0 515.8 L109.7 515.0 L111.4 514.1 L113.1 513.1 L114.8 511.9 L116.4 510.6 L118.1 509.2 L119.8 507.8 L121.5 506.3 L123.2 504.8 L124.9 503.3 L126.6 501.9 L128.3 500.5 L130.0 499.1 L131.7 497.9 L133.4 496.7 L135.1 495.5 L136.8 494.2 L138.5 493.0 L140.1 491.8 L141.8 490.7 L143.5 489.7 L145.2 488.9 L146.9 488.1 L148.6 487.4 L150.3 486.7 L152.0 486.1 L153.7 485.5 L155.4 484.9 L157.1 484.3 L158.8 483.8 L160.5 483.4 L162.2 483.0 L163.9 482.7 L165.5 482.4 L167.2 482.2 L168.9 482.0 L170.6 481.8 L172.3 481.6 L174.0 481.4 L175.7 481.3 L177.4 481.1 L179.1 481.0 L180.8 480.9 L182.5 480.8 L184.2 480.8 L185.9 480.8 L187.6 480.9 L189.2 481.0 L190.9 481.1 L192.6 481.2 L194.3 481.4 L196.0 481.5 L197.7 481.6 L199.4 481.7 L201.1 481.8 L202.8 481.9 L204.5 482.0 L206.2 482.0 L207.9 482.0 L209.6 482.0 L211.3 481.9 L212.9 481.8 L214.6 481.7 L216.3 481.5 L218.0 481.4 L219.7 481.3 L221.4 481.1 L223.1 480.9 L224.8 480.8 L226.5 480.5 L228.2 480.2 L229.9 479.8 L231.6 479.4 L233.3 479.0 L235.0 478.5 L235.0 571.6 L233.3 571.9 L231.6 572.1 L229.9 572.4 L228.2 572.7 L226.5 572.9 L224.8 573.1 L223.1 573.3 L221.4 573.5 L219.7 573.6 L218.0 573.6 L216.3 573.6 L214.6 573.6 L212.9 573.4 L211.3 573.3 L209.6 573.1 L207.9 572.8 L206.2 572.6 L204.5 572.3 L202.8 572.1 L201.1 571.9 L199.4 571.6 L197.7 571.4 L196.0 571.3 L194.3 571.2 L192.6 571.1 L190.9 571.0 L189.2 570.9 L187.6 570.8 L185.9 570.8 L184.2 570.7 L182.5 570.7 L180.8 570.6 L179.1 570.6 L177.4 570.6 L175.7 570.6 L174.0 570.7 L172.3 570.8 L170.6 570.9 L168.9 571.0 L167.2 571.2 L165.5 571.4 L163.9 571.6 L162.2 571.8 L160.5 572.0 L158.8 572.2 L157.1 572.5 L155.4 572.7 L153.7 573.1 L152.0 573.5 L150.3 574.1 L148.6 574.6 L146.9 575.3 L145.2 575.9 L143.5 576.6 L141.8 577.3 L140.1 578.2 L138.5 579.1 L136.8 580.1 L135.1 581.2 L133.4 582.3 L131.7 583.4 L130.0 584.7 L128.3 586.0 L126.6 587.4 L124.9 588.8 L123.2 590.3 L121.5 591.7 L119.8 593.2 L118.1 594.7 L116.4 596.3 L114.8 597.9 L113.1 599.4 L111.4 601.0 L109.7 602.4 L108.0 603.8 L106.3 605.3 L104.6 606.6 L102.9 607.9 L101.2 608.9 L99.5 609.7 L97.8 610.3 L96.1 610.8 L94.4 611.1 L92.7 611.0 L91.1 610.6 L89.4 609.8 L87.7 608.8 L86.0 607.7 L84.3 606.6 L82.6 605.3 L80.9 604.0 L79.2 602.6 L77.5 601.1 L75.8 599.6 L74.1 598.0 L72.4 596.2 L70.7 594.3 L69.0 592.4 L67.4 590.4 L65.7 588.5 L64.0 586.7 L62.3 585.0 L60.6 583.4 L58.9 581.8 L57.2 580.2 L55.5 578.7 L53.8 577.2 L52.1 575.8 L50.4 574.5 L48.7 573.2Z" fill="none" stroke="#f0a8d8" stroke-width="0.9" clip-path="url(#b5)"/>
<path d="M48.7 517.7 L50.4 518.2 L52.1 518.8 L53.8 519.3 L55.5 520.0 L57.2 520.6 L58.9 521.3 L60.6 522.0 L62.3 522.7 L64.0 523.4 L65.7 524.2 L67.4 525.0 L69.0 525.9 L70.7 526.8 L72.4 527.7 L74.1 528.6 L75.8 529.5 L77.5 530.4 L79.2 531.2 L80.9 532.0 L82.6 532.8 L84.3 533.5 L86.0 534.2 L87.7 534.9 L89.4 535.6 L91.1 536.2 L92.7 536.9 L94.4 537.5 L96.1 538.1 L97.8 538.6 L99.5 539.1 L101.2 539.5 L102.9 539.8 L104.6 540.1 L106.3 540.3 L108.0 540.5 L109.7 540.7 L111.4 540.8 L113.1 540.8 L114.8 540.9 L116.4 540.9 L118.1 540.8 L119.8 540.7 L121.5 540.5 L123.2 540.2 L124.9 539.9 L126.6 539.5 L128.3 539.1 L130.0 538.6 L131.7 538.1 L133.4 537.6 L135.1 537.1 L136.8 536.5 L138.5 536.0 L140.1 535.5 L141.8 535.0 L143.5 534.6 L145.2 534.1 L146.9 533.6 L148.6 533.1 L150.3 532.6 L152.0 532.1 L153.7 531.6 L155.4 531.2 L157.1 530.8 L158.8 530.4 L160.5 530.1 L162.2 529.9 L163.9 529.7 L165.5 529.6 L167.2 529.5 L168.9 529.3 L170.6 529.2 L172.3 529.1 L174.0 529.1 L175.7 529.0 L177.4 529.0 L179.1 528.9 L180.8 528.9 L182.5 528.9 L184.2 529.0 L185.9 529.0 L187.6 529.1 L189.2 529.1 L190.9 529.2 L192.6 529.3 L194.3 529.4 L196.0 529.5 L197.7 529.6 L199.4 529.8 L201.1 529.9 L202.8 530.1 L204.5 530.3 L206.2 530.6 L207.9 530.9 L209.6 531.3 L211.3 531.6 L212.9 532.0 L214.6 532.3 L216.3 532.6 L218.0 532.9 L219.7 533.1 L221.4 533.3 L223.1 533.5 L224.8 533.7 L226.5 533.8 L228.2 534.0 L229.9 534.1 L231.6 534.2 L233.3 534.3 L235.0 534.4" fill="none" stroke="#1000e6" stroke-width="3.7" stroke-linecap="round" stroke-linejoin="round"/>
<path d="M48.7 530.5 L50.4 532.0 L52.1 533.6 L53.8 535.1 L55.5 536.7 L57.2 538.3 L58.9 539.9 L60.6 541.5 L62.3 543.1 L64.0 544.7 L65.7 546.5 L67.4 548.3 L69.0 550.1 L70.7 551.9 L72.4 553.5 L74.1 555.1 L75.8 556.4 L77.5 557.7 L79.2 558.9 L80.9 560.0 L82.6 561.0 L84.3 561.9 L86.0 562.5 L87.7 563.0 L89.4 563.4 L91.1 563.6 L92.7 563.8 L94.4 563.9 L96.1 563.7 L97.8 563.5 L99.5 563.1 L101.2 562.6 L102.9 562.0 L104.6 561.3 L106.3 560.4 L108.0 559.3 L109.7 558.1 L111.4 556.8 L113.1 555.4 L114.8 554.1 L116.4 552.8 L118.1 551.4 L119.8 550.1 L121.5 548.7 L123.2 547.3 L124.9 545.9 L126.6 544.6 L128.3 543.3 L130.0 541.9 L131.7 540.6 L133.4 539.3 L135.1 538.0 L136.8 536.9 L138.5 536.0 L140.1 535.2 L141.8 534.4 L143.5 533.6 L145.2 532.9 L146.9 532.2 L148.6 531.6 L150.3 531.0 L152.0 530.4 L153.7 529.9 L155.4 529.4 L157.1 528.9 L158.8 528.6 L160.5 528.2 L162.2 528.0 L163.9 527.7 L165.5 527.5 L167.2 527.2 L168.9 527.0 L170.6 526.7 L172.3 526.5 L174.0 526.3 L175.7 526.2 L177.4 526.1 L179.1 526.0 L180.8 526.0 L182.5 526.1 L184.2 526.1 L185.9 526.2 L187.6 526.3 L189.2 526.4 L190.9 526.5 L192.6 526.5 L194.3 526.6 L196.0 526.7 L197.7 526.8 L199.4 526.9 L201.1 527.0 L202.8 527.1 L204.5 527.2 L206.2 527.3 L207.9 527.4 L209.6 527.5 L211.3 527.6 L212.9 527.6 L214.6 527.7 L216.3 527.8 L218.0 527.9 L219.7 527.9 L221.4 528.0 L223.1 527.9 L224.8 527.6 L226.5 527.3 L228.2 526.9 L229.9 526.5 L231.6 526.0 L233.3 525.5 L235.0 525.1" fill="none" stroke="#ff0a2a" stroke-width="4.5" stroke-linecap="round" stroke-linejoin="round"/>
<line x1="50.3" y1="487.0" x2="235.0" y2="487.0" stroke="#111" stroke-width="1.6" stroke-dasharray="3.0 4.3"/>
</g>
<path d="M47.4 436.8 L235.0 436.8 L235.0 623.0 L49.2 623.0 Z" fill="none" stroke="#1a1a1a" stroke-width="1.30"/>
<text transform="translate(16.9 529.7) rotate(-90)" x="0" y="0" font-size="9.8" text-anchor="middle" fill="#111" stroke="#111" stroke-width="0.12" font-family='"Liberation Sans", sans-serif' textLength="53.0" lengthAdjust="spacingAndGlyphs">HipAngles_Y</text>
<line x1="288.7" y1="623.0" x2="288.7" y2="626.5" stroke="#222" stroke-width="1"/>
<text x="288.7" y="637.5" font-size="10.00" text-anchor="middle" fill="#111" font-family='"Liberation Sans", sans-serif' font-weight="normal" stroke="#111" stroke-width="0.22">0</text>
<line x1="326.1" y1="623.0" x2="326.1" y2="626.5" stroke="#222" stroke-width="1"/>
<text x="326.1" y="637.5" font-size="10.00" text-anchor="middle" fill="#111" font-family='"Liberation Sans", sans-serif' font-weight="normal" stroke="#111" stroke-width="0.22">20</text>
<line x1="363.6" y1="623.0" x2="363.6" y2="626.5" stroke="#222" stroke-width="1"/>
<text x="363.6" y="637.5" font-size="10.00" text-anchor="middle" fill="#111" font-family='"Liberation Sans", sans-serif' font-weight="normal" stroke="#111" stroke-width="0.22">40</text>
<line x1="401.0" y1="623.0" x2="401.0" y2="626.5" stroke="#222" stroke-width="1"/>
<text x="401.0" y="637.5" font-size="10.00" text-anchor="middle" fill="#111" font-family='"Liberation Sans", sans-serif' font-weight="normal" stroke="#111" stroke-width="0.22">60</text>
<line x1="438.5" y1="623.0" x2="438.5" y2="626.5" stroke="#222" stroke-width="1"/>
<text x="438.5" y="637.5" font-size="10.00" text-anchor="middle" fill="#111" font-family='"Liberation Sans", sans-serif' font-weight="normal" stroke="#111" stroke-width="0.22">80</text>
<line x1="475.9" y1="623.0" x2="475.9" y2="626.5" stroke="#222" stroke-width="1"/>
<text x="475.9" y="637.5" font-size="10.00" text-anchor="middle" fill="#111" font-family='"Liberation Sans", sans-serif' font-weight="normal" stroke="#111" stroke-width="0.22">100</text>
<line x1="284.6" y1="455.6" x2="288.1" y2="455.6" stroke="#222" stroke-width="1"/>
<text x="281.3" y="460.5" font-size="10.00" text-anchor="end" fill="#111" font-family='"Liberation Sans", sans-serif' font-weight="normal" stroke="#111" stroke-width="0.22">4</text>
<line x1="284.6" y1="490.8" x2="288.1" y2="490.8" stroke="#222" stroke-width="1"/>
<text x="281.3" y="495.7" font-size="10.00" text-anchor="end" fill="#111" font-family='"Liberation Sans", sans-serif' font-weight="normal" stroke="#111" stroke-width="0.22">2</text>
<line x1="284.6" y1="526.0" x2="288.1" y2="526.0" stroke="#222" stroke-width="1"/>
<text x="281.3" y="530.9" font-size="10.00" text-anchor="end" fill="#111" font-family='"Liberation Sans", sans-serif' font-weight="normal" stroke="#111" stroke-width="0.22">0</text>
<line x1="284.6" y1="561.2" x2="288.1" y2="561.2" stroke="#222" stroke-width="1"/>
<text x="281.3" y="566.1" font-size="10.00" text-anchor="end" fill="#111" font-family='"Liberation Sans", sans-serif' font-weight="normal" stroke="#111" stroke-width="0.22">−2</text>
<line x1="284.6" y1="596.4" x2="288.1" y2="596.4" stroke="#222" stroke-width="1"/>
<text x="281.3" y="601.3" font-size="10.00" text-anchor="end" fill="#111" font-family='"Liberation Sans", sans-serif' font-weight="normal" stroke="#111" stroke-width="0.22">−4</text>
<text x="382.3" y="650.2" font-size="10.00" text-anchor="middle" fill="#111" font-family='"Liberation Sans", sans-serif' font-weight="normal" textLength="41.0" lengthAdjust="spacingAndGlyphs" stroke="#111" stroke-width="0.18">Time (%)</text>
<g clip-path="url(#c6)">
<path d="M288.7 560.0 L290.4 561.9 L292.1 564.3 L293.8 566.8 L295.5 569.6 L297.2 572.7 L298.8 576.2 L300.5 579.8 L302.2 583.2 L303.9 586.3 L305.6 589.3 L307.3 592.1 L309.0 594.9 L310.7 597.4 L312.3 599.9 L314.0 602.1 L315.7 604.4 L317.4 606.6 L319.1 608.6 L320.8 610.2 L322.5 611.3 L324.1 611.8 L325.8 611.8 L327.5 611.5 L329.2 611.0 L330.9 610.2 L332.6 609.1 L334.3 607.7 L336.0 606.0 L337.6 604.0 L339.3 601.8 L341.0 599.4 L342.7 596.4 L344.4 593.0 L346.1 589.4 L347.8 585.7 L349.4 582.1 L351.1 578.7 L352.8 575.3 L354.5 571.9 L356.2 568.5 L357.9 565.1 L359.6 561.9 L361.2 558.7 L362.9 555.5 L364.6 552.4 L366.3 549.3 L368.0 546.5 L369.7 543.7 L371.4 541.1 L373.1 538.5 L374.7 536.1 L376.4 533.8 L378.1 531.8 L379.8 530.0 L381.5 528.3 L383.2 526.6 L384.9 525.2 L386.5 523.9 L388.2 522.9 L389.9 522.2 L391.6 521.4 L393.3 520.8 L395.0 520.2 L396.7 519.6 L398.3 519.2 L400.0 518.9 L401.7 518.6 L403.4 518.4 L405.1 518.2 L406.8 518.0 L408.5 517.8 L410.2 517.6 L411.8 517.5 L413.5 517.4 L415.2 517.3 L416.9 517.3 L418.6 517.4 L420.3 517.5 L422.0 517.7 L423.6 517.8 L425.3 518.0 L427.0 518.2 L428.7 518.3 L430.4 518.3 L432.1 518.2 L433.8 518.0 L435.5 517.7 L437.1 517.4 L438.8 517.0 L440.5 516.5 L442.2 516.0 L443.9 515.6 L445.6 515.2 L447.3 514.8 L448.9 514.4 L450.6 514.0 L452.3 513.5 L454.0 513.0 L455.7 512.5 L457.4 511.9 L459.1 511.2 L460.7 510.3 L462.4 509.2 L464.1 507.9 L465.8 506.6 L467.5 505.2 L469.2 503.9 L470.9 502.5 L472.6 501.0 L474.2 499.5 L475.9 497.9 L475.9 573.9 L288.7 573.9Z" fill="#dedce9" clip-path="url(#t7)"/>
</g>
<rect x="281.6" y="571.6" width="96.4" height="16.5" fill="#fff" fill-opacity="1.00" stroke="#8a8a8a" stroke-width="1.3"/>
<rect x="286.3" y="442.8" width="2.5" height="18.1" fill="#fff" fill-opacity="1.00" stroke="#8a8a8a" stroke-width="1.3"/>
<text x="281.8" y="583.2" font-size="10.90" text-anchor="start" fill="#111" font-family='"Liberation Sans", sans-serif' font-weight="normal" textLength="87.4" lengthAdjust="spacingAndGlyphs" stroke="#111" stroke-width="0.08">p = 0.027</text>
<g clip-path="url(#c6)">
<line x1="289.7" y1="478.5" x2="476.3" y2="478.5" stroke="#2a2a2a" stroke-width="1.5" stroke-dasharray="7.8 3.8"/>
<line x1="289.7" y1="573.9" x2="476.3" y2="573.9" stroke="#2a2a2a" stroke-width="1.5" stroke-dasharray="7.8 3.8"/>
<line x1="289.7" y1="526.0" x2="476.3" y2="526.0" stroke="#111" stroke-width="1.4" stroke-dasharray="2.2 2.8"/>
<path d="M287.3 561.1 L288.9 563.1 L290.6 565.3 L292.2 567.8 L293.8 570.5 L295.5 573.6 L297.1 577.0 L298.8 580.6 L300.5 584.1 L302.2 587.2 L303.9 590.2 L305.7 593.1 L307.4 595.9 L309.1 598.5 L310.8 600.9 L312.5 603.2 L314.3 605.6 L316.0 607.8 L317.9 609.9 L319.8 611.6 L321.8 612.7 L323.9 613.2 L325.9 613.2 L327.8 613.0 L329.8 612.4 L331.7 611.6 L333.6 610.5 L335.4 609.0 L337.3 607.2 L339.1 605.2 L340.8 602.9 L342.6 600.4 L344.4 597.3 L346.1 593.9 L347.8 590.2 L349.5 586.5 L351.2 582.9 L352.9 579.6 L354.5 576.1 L356.2 572.7 L357.9 569.3 L359.6 566.0 L361.3 562.7 L362.9 559.6 L364.6 556.4 L366.3 553.3 L368.0 550.3 L369.6 547.4 L371.3 544.8 L372.9 542.1 L374.6 539.6 L376.2 537.2 L377.9 535.0 L379.5 533.0 L381.1 531.2 L382.7 529.5 L384.3 528.0 L385.9 526.5 L387.5 525.3 L389.0 524.3 L390.6 523.6 L392.2 522.9 L393.8 522.2 L395.4 521.6 L397.1 521.1 L398.7 520.6 L400.3 520.3 L401.9 520.0 L403.6 519.8 L405.3 519.6 L406.9 519.4 L408.6 519.1 L410.3 519.0 L411.9 518.8 L413.6 518.7 L415.2 518.6 L416.9 518.6 L418.5 518.7 L420.2 518.9 L421.8 519.0 L423.5 519.2 L425.2 519.4 L426.9 519.5 L428.7 519.6 L430.4 519.6 L432.2 519.6 L433.9 519.4 L435.7 519.1 L437.4 518.8 L439.2 518.4 L440.9 517.9 L442.6 517.5 L444.2 517.0 L445.9 516.6 L447.6 516.2 L449.3 515.8 L451.0 515.4 L452.7 514.9 L454.4 514.4 L456.2 513.9 L458.0 513.3 L459.8 512.7 L461.6 511.8 L463.4 510.6 L465.1 509.3 L466.9 507.9 L468.6 506.6 L470.3 505.2 L472.0 503.8 L473.7 502.3 L475.4 500.8 L477.1 499.2 L474.7 496.6 L473.1 498.2 L471.4 499.7 L469.7 501.1 L468.1 502.5 L466.4 503.9 L464.7 505.2 L463.1 506.5 L461.5 507.8 L459.9 508.9 L458.4 509.8 L456.8 510.4 L455.2 511.0 L453.6 511.6 L451.9 512.1 L450.2 512.5 L448.6 513.0 L446.9 513.4 L445.2 513.8 L443.5 514.2 L441.8 514.6 L440.1 515.1 L438.5 515.5 L436.8 516.0 L435.2 516.3 L433.6 516.7 L432.0 516.9 L430.4 517.0 L428.7 516.9 L427.1 516.8 L425.4 516.7 L423.8 516.5 L422.1 516.3 L420.4 516.2 L418.7 516.0 L416.9 516.0 L415.2 516.0 L413.5 516.0 L411.7 516.1 L410.0 516.2 L408.3 516.4 L406.6 516.6 L404.9 516.8 L403.2 517.0 L401.5 517.3 L399.8 517.5 L398.0 517.8 L396.3 518.2 L394.5 518.7 L392.8 519.3 L391.0 520.0 L389.2 520.7 L387.4 521.5 L385.6 522.5 L383.8 523.8 L382.0 525.3 L380.2 527.0 L378.5 528.7 L376.7 530.6 L375.0 532.6 L373.2 535.0 L371.5 537.5 L369.8 540.1 L368.1 542.7 L366.4 545.5 L364.7 548.4 L363.0 551.4 L361.2 554.6 L359.6 557.8 L357.9 561.0 L356.2 564.2 L354.5 567.6 L352.8 571.0 L351.1 574.4 L349.4 577.9 L347.7 581.3 L346.0 584.8 L344.3 588.5 L342.7 592.1 L341.0 595.5 L339.4 598.4 L337.8 600.8 L336.2 602.9 L334.6 604.7 L333.1 606.4 L331.6 607.7 L330.1 608.7 L328.6 609.5 L327.2 610.1 L325.8 610.5 L324.4 610.4 L323.1 609.8 L321.7 608.8 L320.3 607.3 L318.8 605.4 L317.2 603.3 L315.5 601.0 L313.9 598.8 L312.2 596.4 L310.6 593.8 L308.9 591.1 L307.2 588.3 L305.6 585.4 L303.9 582.3 L302.2 578.9 L300.6 575.3 L298.9 571.8 L297.1 568.6 L295.4 565.8 L293.6 563.2 L291.9 560.8 L290.2 558.8Z" fill="#000" stroke="#000" stroke-width="0.3" stroke-linejoin="round"/><circle cx="288.7" cy="560.0" r="1.84" fill="#000"/><circle cx="475.9" cy="497.9" r="1.78" fill="#000"/>
</g>
<path d="M288.1 436.8 H476.3 V623.0 H288.1 Z" fill="none" stroke="#1a1a1a" stroke-width="1.30"/>
<text x="297.0" y="477.5" font-size="12.21" fill="#cf1f2b" stroke="#cf1f2b" stroke-width="0.1" font-family='"Liberation Sans", sans-serif' textLength="80.0" lengthAdjust="spacingAndGlyphs" style="white-space:pre"><tspan font-style="italic">α</tspan>=0.05:  <tspan font-style="italic">t</tspan><tspan font-size="8.7" dy="-3.3">*</tspan><tspan dy="3.3"> =2.691</tspan></text>
<text transform="translate(262.5 533.0) rotate(-90)" x="0" y="0" font-size="17" text-anchor="middle" fill="#111" stroke="#111" stroke-width="0.12" font-family='"Liberation Sans", sans-serif' textLength="54.3" lengthAdjust="spacingAndGlyphs">SPM{t}</text>
<line x1="49.3" y1="914.6" x2="49.3" y2="918.1" stroke="#222" stroke-width="1"/>
<text x="49.3" y="929.1" font-size="10.00" text-anchor="middle" fill="#111" font-family='"Liberation Sans", sans-serif' font-weight="normal" stroke="#111" stroke-width="0.22">0</text>
<line x1="86.0" y1="914.6" x2="86.0" y2="918.1" stroke="#222" stroke-width="1"/>
<text x="86.0" y="929.1" font-size="10.00" text-anchor="middle" fill="#111" font-family='"Liberation Sans", sans-serif' font-weight="normal" stroke="#111" stroke-width="0.22">20</text>
<line x1="122.6" y1="914.6" x2="122.6" y2="918.1" stroke="#222" stroke-width="1"/>
<text x="122.6" y="929.1" font-size="10.00" text-anchor="middle" fill="#111" font-family='"Liberation Sans", sans-serif' font-weight="normal" stroke="#111" stroke-width="0.22">40</text>
<line x1="159.3" y1="914.6" x2="159.3" y2="918.1" stroke="#222" stroke-width="1"/>
<text x="159.3" y="929.1" font-size="10.00" text-anchor="middle" fill="#111" font-family='"Liberation Sans", sans-serif' font-weight="normal" stroke="#111" stroke-width="0.22">60</text>
<line x1="195.9" y1="914.6" x2="195.9" y2="918.1" stroke="#222" stroke-width="1"/>
<text x="195.9" y="929.1" font-size="10.00" text-anchor="middle" fill="#111" font-family='"Liberation Sans", sans-serif' font-weight="normal" stroke="#111" stroke-width="0.22">80</text>
<line x1="232.6" y1="914.6" x2="232.6" y2="918.1" stroke="#222" stroke-width="1"/>
<text x="232.6" y="929.1" font-size="10.00" text-anchor="middle" fill="#111" font-family='"Liberation Sans", sans-serif' font-weight="normal" stroke="#111" stroke-width="0.22">100</text>
<line x1="44.3" y1="747.5" x2="47.8" y2="747.5" stroke="#222" stroke-width="1"/>
<text x="41.0" y="752.4" font-size="10.00" text-anchor="end" fill="#111" font-family='"Liberation Sans", sans-serif' font-weight="normal" stroke="#111" stroke-width="0.22">30</text>
<line x1="44.3" y1="780.1" x2="47.8" y2="780.1" stroke="#222" stroke-width="1"/>
<text x="41.0" y="785.0" font-size="10.00" text-anchor="end" fill="#111" font-family='"Liberation Sans", sans-serif' font-weight="normal" stroke="#111" stroke-width="0.22">20</text>
<line x1="44.3" y1="812.7" x2="47.8" y2="812.7" stroke="#222" stroke-width="1"/>
<text x="41.0" y="817.6" font-size="10.00" text-anchor="end" fill="#111" font-family='"Liberation Sans", sans-serif' font-weight="normal" stroke="#111" stroke-width="0.22">10</text>
<line x1="44.3" y1="845.3" x2="47.8" y2="845.3" stroke="#222" stroke-width="1"/>
<text x="41.0" y="850.2" font-size="10.00" text-anchor="end" fill="#111" font-family='"Liberation Sans", sans-serif' font-weight="normal" stroke="#111" stroke-width="0.22">0</text>
<line x1="44.3" y1="877.9" x2="47.8" y2="877.9" stroke="#222" stroke-width="1"/>
<text x="41.0" y="882.8" font-size="10.00" text-anchor="end" fill="#111" font-family='"Liberation Sans", sans-serif' font-weight="normal" stroke="#111" stroke-width="0.22">−10</text>
<line x1="44.3" y1="910.5" x2="47.8" y2="910.5" stroke="#222" stroke-width="1"/>
<text x="41.0" y="915.4" font-size="10.00" text-anchor="end" fill="#111" font-family='"Liberation Sans", sans-serif' font-weight="normal" stroke="#111" stroke-width="0.22">−20</text>
<text x="140.9" y="941.8" font-size="10.00" text-anchor="middle" fill="#111" font-family='"Liberation Sans", sans-serif' font-weight="normal" textLength="41.0" lengthAdjust="spacingAndGlyphs" stroke="#111" stroke-width="0.18">Time (%)</text>
<g clip-path="url(#c8)">
<path d="M48.7 837.4 L50.4 837.1 L52.1 836.7 L53.8 836.2 L55.5 835.5 L57.2 834.8 L58.9 834.0 L60.5 833.1 L62.2 832.1 L63.9 831.2 L65.6 830.0 L67.3 828.7 L69.0 827.2 L70.7 825.6 L72.3 823.9 L74.0 822.1 L75.7 820.3 L77.4 818.5 L79.1 816.7 L80.8 814.8 L82.5 812.8 L84.2 810.8 L85.8 808.7 L87.5 806.5 L89.2 804.3 L90.9 802.1 L92.6 799.9 L94.3 797.6 L96.0 795.3 L97.7 792.8 L99.3 790.2 L101.0 787.6 L102.7 785.1 L104.4 782.6 L106.1 780.4 L107.8 778.3 L109.5 776.5 L111.2 774.7 L112.8 772.9 L114.5 771.2 L116.2 769.7 L117.9 768.2 L119.6 766.9 L121.3 765.8 L123.0 764.8 L124.7 764.0 L126.3 763.2 L128.0 762.4 L129.7 761.7 L131.4 761.1 L133.1 760.5 L134.8 760.1 L136.5 759.8 L138.1 759.7 L139.8 759.6 L141.5 759.5 L143.2 759.4 L144.9 759.4 L146.6 759.5 L148.3 759.6 L150.0 759.7 L151.6 759.9 L153.3 760.2 L155.0 760.5 L156.7 761.0 L158.4 761.5 L160.1 762.0 L161.8 762.5 L163.5 763.2 L165.1 764.2 L166.8 765.4 L168.5 766.7 L170.2 768.2 L171.9 769.7 L173.6 771.4 L175.3 773.2 L177.0 775.1 L178.6 777.0 L180.3 779.0 L182.0 781.1 L183.7 783.3 L185.4 785.7 L187.1 788.1 L188.8 790.5 L190.4 792.9 L192.1 795.3 L193.8 797.7 L195.5 800.0 L197.2 802.3 L198.9 804.6 L200.6 806.9 L202.3 809.2 L203.9 811.4 L205.6 813.5 L207.3 815.5 L209.0 817.2 L210.7 818.9 L212.4 820.5 L214.1 822.1 L215.8 823.5 L217.4 824.7 L219.1 825.7 L220.8 826.5 L222.5 827.1 L224.2 827.8 L225.9 828.4 L227.6 828.9 L229.3 829.3 L230.9 829.5 L232.6 829.6 L232.6 887.2 L230.9 887.8 L229.3 888.3 L227.6 888.9 L225.9 889.4 L224.2 889.9 L222.5 890.4 L220.8 891.0 L219.1 891.5 L217.4 892.0 L215.8 892.6 L214.1 893.2 L212.4 893.8 L210.7 894.3 L209.0 894.8 L207.3 895.2 L205.6 895.5 L203.9 895.6 L202.3 895.8 L200.6 895.9 L198.9 895.9 L197.2 896.0 L195.5 896.1 L193.8 896.2 L192.1 896.2 L190.4 896.3 L188.8 896.4 L187.1 896.5 L185.4 896.5 L183.7 896.6 L182.0 896.7 L180.3 896.8 L178.6 896.9 L177.0 896.9 L175.3 897.0 L173.6 897.1 L171.9 897.2 L170.2 897.3 L168.5 897.4 L166.8 897.5 L165.1 897.6 L163.5 897.7 L161.8 897.8 L160.1 898.0 L158.4 898.1 L156.7 898.3 L155.0 898.5 L153.3 898.7 L151.6 898.9 L150.0 899.1 L148.3 899.3 L146.6 899.4 L144.9 899.6 L143.2 899.9 L141.5 900.1 L139.8 900.3 L138.1 900.6 L136.5 900.8 L134.8 901.0 L133.1 901.3 L131.4 901.5 L129.7 901.7 L128.0 901.9 L126.3 902.1 L124.7 902.2 L123.0 902.3 L121.3 902.4 L119.6 902.4 L117.9 902.5 L116.2 902.4 L114.5 902.4 L112.8 902.3 L111.2 902.1 L109.5 901.8 L107.8 901.4 L106.1 900.9 L104.4 900.4 L102.7 899.9 L101.0 899.4 L99.3 898.8 L97.7 898.3 L96.0 897.8 L94.3 897.2 L92.6 896.6 L90.9 896.0 L89.2 895.4 L87.5 894.8 L85.8 894.1 L84.2 893.5 L82.5 892.9 L80.8 892.3 L79.1 891.8 L77.4 891.2 L75.7 890.7 L74.0 890.2 L72.3 889.7 L70.7 889.2 L69.0 888.7 L67.3 888.3 L65.6 887.8 L63.9 887.4 L62.2 887.0 L60.5 886.5 L58.9 886.1 L57.2 885.7 L55.5 885.3 L53.8 885.0 L52.1 884.6 L50.4 884.2 L48.7 883.9Z" fill="#736ef8"/>
<path d="M48.7 831.5 L50.4 831.1 L52.1 830.4 L53.8 829.6 L55.5 828.6 L57.2 827.5 L58.9 826.3 L60.5 825.0 L62.2 823.7 L63.9 822.3 L65.6 820.7 L67.3 819.0 L69.0 817.0 L70.7 814.9 L72.3 812.7 L74.0 810.3 L75.7 807.9 L77.4 805.5 L79.1 803.0 L80.8 800.3 L82.5 797.4 L84.2 794.4 L85.8 791.2 L87.5 788.0 L89.2 784.9 L90.9 781.8 L92.6 779.0 L94.3 776.3 L96.0 773.8 L97.7 771.4 L99.3 769.0 L101.0 766.8 L102.7 764.6 L104.4 762.6 L106.1 760.7 L107.8 758.9 L109.5 757.3 L111.2 755.6 L112.8 754.0 L114.5 752.5 L116.2 751.0 L117.9 749.7 L119.6 748.4 L121.3 747.3 L123.0 746.4 L124.7 745.6 L126.3 744.9 L128.0 744.2 L129.7 743.5 L131.4 742.9 L133.1 742.5 L134.8 742.1 L136.5 741.8 L138.1 741.6 L139.8 741.7 L141.5 741.9 L143.2 742.3 L144.9 742.8 L146.6 743.4 L148.3 744.1 L150.0 744.9 L151.6 745.9 L153.3 747.3 L155.0 749.2 L156.7 751.4 L158.4 753.9 L160.1 756.5 L161.8 759.1 L163.5 761.7 L165.1 764.5 L166.8 767.5 L168.5 770.5 L170.2 773.7 L171.9 776.8 L173.6 780.0 L175.3 783.1 L177.0 786.1 L178.6 789.2 L180.3 792.3 L182.0 795.4 L183.7 798.4 L185.4 801.3 L187.1 804.1 L188.8 806.9 L190.4 809.7 L192.1 812.3 L193.8 814.9 L195.5 817.5 L197.2 820.1 L198.9 822.9 L200.6 825.5 L202.3 827.8 L203.9 829.7 L205.6 831.1 L207.3 832.3 L209.0 833.3 L210.7 834.2 L212.4 834.9 L214.1 835.3 L215.8 835.6 L217.4 835.9 L219.1 836.1 L220.8 836.3 L222.5 836.5 L224.2 836.6 L225.9 836.7 L227.6 836.7 L229.3 836.7 L230.9 836.6 L232.6 836.4 L232.6 874.2 L230.9 874.3 L229.3 874.3 L227.6 874.3 L225.9 874.3 L224.2 874.3 L222.5 874.3 L220.8 874.2 L219.1 874.2 L217.4 874.1 L215.8 874.0 L214.1 873.9 L212.4 873.7 L210.7 873.5 L209.0 873.3 L207.3 873.0 L205.6 872.6 L203.9 872.2 L202.3 871.7 L200.6 871.1 L198.9 870.6 L197.2 870.0 L195.5 869.5 L193.8 869.0 L192.1 868.4 L190.4 867.9 L188.8 867.3 L187.1 866.7 L185.4 866.2 L183.7 865.6 L182.0 865.1 L180.3 864.7 L178.6 864.3 L177.0 863.9 L175.3 863.5 L173.6 863.2 L171.9 863.0 L170.2 862.8 L168.5 862.7 L166.8 862.6 L165.1 862.6 L163.5 862.9 L161.8 863.3 L160.1 863.9 L158.4 864.6 L156.7 865.4 L155.0 866.1 L153.3 867.1 L151.6 868.2 L150.0 869.4 L148.3 870.6 L146.6 871.9 L144.9 873.1 L143.2 874.4 L141.5 875.7 L139.8 877.1 L138.1 878.5 L136.5 879.9 L134.8 881.4 L133.1 883.0 L131.4 884.7 L129.7 886.5 L128.0 888.4 L126.3 890.3 L124.7 892.2 L123.0 894.0 L121.3 895.8 L119.6 897.6 L117.9 899.4 L116.2 901.0 L114.5 902.1 L112.8 902.5 L111.2 902.5 L109.5 902.2 L107.8 901.7 L106.1 901.1 L104.4 900.4 L102.7 899.7 L101.0 898.9 L99.3 898.1 L97.7 897.3 L96.0 896.4 L94.3 895.5 L92.6 894.6 L90.9 893.7 L89.2 892.7 L87.5 891.7 L85.8 890.7 L84.2 889.7 L82.5 888.7 L80.8 887.8 L79.1 887.0 L77.4 886.2 L75.7 885.5 L74.0 884.7 L72.3 884.0 L70.7 883.4 L69.0 882.8 L67.3 882.2 L65.6 881.7 L63.9 881.2 L62.2 880.7 L60.5 880.3 L58.9 879.9 L57.2 879.5 L55.5 879.1 L53.8 878.8 L52.1 878.5 L50.4 878.3 L48.7 878.1Z" fill="#f3667c"/>
<path d="M48.7 831.5 L50.4 831.1 L52.1 830.4 L53.8 829.6 L55.5 828.6 L57.2 827.5 L58.9 826.3 L60.5 825.0 L62.2 823.7 L63.9 822.3 L65.6 820.7 L67.3 819.0 L69.0 817.0 L70.7 814.9 L72.3 812.7 L74.0 810.3 L75.7 807.9 L77.4 805.5 L79.1 803.0 L80.8 800.3 L82.5 797.4 L84.2 794.4 L85.8 791.2 L87.5 788.0 L89.2 784.9 L90.9 781.8 L92.6 779.0 L94.3 776.3 L96.0 773.8 L97.7 771.4 L99.3 769.0 L101.0 766.8 L102.7 764.6 L104.4 762.6 L106.1 760.7 L107.8 758.9 L109.5 757.3 L111.2 755.6 L112.8 754.0 L114.5 752.5 L116.2 751.0 L117.9 749.7 L119.6 748.4 L121.3 747.3 L123.0 746.4 L124.7 745.6 L126.3 744.9 L128.0 744.2 L129.7 743.5 L131.4 742.9 L133.1 742.5 L134.8 742.1 L136.5 741.8 L138.1 741.6 L139.8 741.7 L141.5 741.9 L143.2 742.3 L144.9 742.8 L146.6 743.4 L148.3 744.1 L150.0 744.9 L151.6 745.9 L153.3 747.3 L155.0 749.2 L156.7 751.4 L158.4 753.9 L160.1 756.5 L161.8 759.1 L163.5 761.7 L165.1 764.5 L166.8 767.5 L168.5 770.5 L170.2 773.7 L171.9 776.8 L173.6 780.0 L175.3 783.1 L177.0 786.1 L178.6 789.2 L180.3 792.3 L182.0 795.4 L183.7 798.4 L185.4 801.3 L187.1 804.1 L188.8 806.9 L190.4 809.7 L192.1 812.3 L193.8 814.9 L195.5 817.5 L197.2 820.1 L198.9 822.9 L200.6 825.5 L202.3 827.8 L203.9 829.7 L205.6 831.1 L207.3 832.3 L209.0 833.3 L210.7 834.2 L212.4 834.9 L214.1 835.3 L215.8 835.6 L217.4 835.9 L219.1 836.1 L220.8 836.3 L222.5 836.5 L224.2 836.6 L225.9 836.7 L227.6 836.7 L229.3 836.7 L230.9 836.6 L232.6 836.4 L232.6 874.2 L230.9 874.3 L229.3 874.3 L227.6 874.3 L225.9 874.3 L224.2 874.3 L222.5 874.3 L220.8 874.2 L219.1 874.2 L217.4 874.1 L215.8 874.0 L214.1 873.9 L212.4 873.7 L210.7 873.5 L209.0 873.3 L207.3 873.0 L205.6 872.6 L203.9 872.2 L202.3 871.7 L200.6 871.1 L198.9 870.6 L197.2 870.0 L195.5 869.5 L193.8 869.0 L192.1 868.4 L190.4 867.9 L188.8 867.3 L187.1 866.7 L185.4 866.2 L183.7 865.6 L182.0 865.1 L180.3 864.7 L178.6 864.3 L177.0 863.9 L175.3 863.5 L173.6 863.2 L171.9 863.0 L170.2 862.8 L168.5 862.7 L166.8 862.6 L165.1 862.6 L163.5 862.9 L161.8 863.3 L160.1 863.9 L158.4 864.6 L156.7 865.4 L155.0 866.1 L153.3 867.1 L151.6 868.2 L150.0 869.4 L148.3 870.6 L146.6 871.9 L144.9 873.1 L143.2 874.4 L141.5 875.7 L139.8 877.1 L138.1 878.5 L136.5 879.9 L134.8 881.4 L133.1 883.0 L131.4 884.7 L129.7 886.5 L128.0 888.4 L126.3 890.3 L124.7 892.2 L123.0 894.0 L121.3 895.8 L119.6 897.6 L117.9 899.4 L116.2 901.0 L114.5 902.1 L112.8 902.5 L111.2 902.5 L109.5 902.2 L107.8 901.7 L106.1 901.1 L104.4 900.4 L102.7 899.7 L101.0 898.9 L99.3 898.1 L97.7 897.3 L96.0 896.4 L94.3 895.5 L92.6 894.6 L90.9 893.7 L89.2 892.7 L87.5 891.7 L85.8 890.7 L84.2 889.7 L82.5 888.7 L80.8 887.8 L79.1 887.0 L77.4 886.2 L75.7 885.5 L74.0 884.7 L72.3 884.0 L70.7 883.4 L69.0 882.8 L67.3 882.2 L65.6 881.7 L63.9 881.2 L62.2 880.7 L60.5 880.3 L58.9 879.9 L57.2 879.5 L55.5 879.1 L53.8 878.8 L52.1 878.5 L50.4 878.3 L48.7 878.1Z" fill="#ef3a9e" clip-path="url(#b9)"/>
<path d="M48.7 831.5 L50.4 831.1 L52.1 830.4 L53.8 829.6 L55.5 828.6 L57.2 827.5 L58.9 826.3 L60.5 825.0 L62.2 823.7 L63.9 822.3 L65.6 820.7 L67.3 819.0 L69.0 817.0 L70.7 814.9 L72.3 812.7 L74.0 810.3 L75.7 807.9 L77.4 805.5 L79.1 803.0 L80.8 800.3 L82.5 797.4 L84.2 794.4 L85.8 791.2 L87.5 788.0 L89.2 784.9 L90.9 781.8 L92.6 779.0 L94.3 776.3 L96.0 773.8 L97.7 771.4 L99.3 769.0 L101.0 766.8 L102.7 764.6 L104.4 762.6 L106.1 760.7 L107.8 758.9 L109.5 757.3 L111.2 755.6 L112.8 754.0 L114.5 752.5 L116.2 751.0 L117.9 749.7 L119.6 748.4 L121.3 747.3 L123.0 746.4 L124.7 745.6 L126.3 744.9 L128.0 744.2 L129.7 743.5 L131.4 742.9 L133.1 742.5 L134.8 742.1 L136.5 741.8 L138.1 741.6 L139.8 741.7 L141.5 741.9 L143.2 742.3 L144.9 742.8 L146.6 743.4 L148.3 744.1 L150.0 744.9 L151.6 745.9 L153.3 747.3 L155.0 749.2 L156.7 751.4 L158.4 753.9 L160.1 756.5 L161.8 759.1 L163.5 761.7 L165.1 764.5 L166.8 767.5 L168.5 770.5 L170.2 773.7 L171.9 776.8 L173.6 780.0 L175.3 783.1 L177.0 786.1 L178.6 789.2 L180.3 792.3 L182.0 795.4 L183.7 798.4 L185.4 801.3 L187.1 804.1 L188.8 806.9 L190.4 809.7 L192.1 812.3 L193.8 814.9 L195.5 817.5 L197.2 820.1 L198.9 822.9 L200.6 825.5 L202.3 827.8 L203.9 829.7 L205.6 831.1 L207.3 832.3 L209.0 833.3 L210.7 834.2 L212.4 834.9 L214.1 835.3 L215.8 835.6 L217.4 835.9 L219.1 836.1 L220.8 836.3 L222.5 836.5 L224.2 836.6 L225.9 836.7 L227.6 836.7 L229.3 836.7 L230.9 836.6 L232.6 836.4 L232.6 874.2 L230.9 874.3 L229.3 874.3 L227.6 874.3 L225.9 874.3 L224.2 874.3 L222.5 874.3 L220.8 874.2 L219.1 874.2 L217.4 874.1 L215.8 874.0 L214.1 873.9 L212.4 873.7 L210.7 873.5 L209.0 873.3 L207.3 873.0 L205.6 872.6 L203.9 872.2 L202.3 871.7 L200.6 871.1 L198.9 870.6 L197.2 870.0 L195.5 869.5 L193.8 869.0 L192.1 868.4 L190.4 867.9 L188.8 867.3 L187.1 866.7 L185.4 866.2 L183.7 865.6 L182.0 865.1 L180.3 864.7 L178.6 864.3 L177.0 863.9 L175.3 863.5 L173.6 863.2 L171.9 863.0 L170.2 862.8 L168.5 862.7 L166.8 862.6 L165.1 862.6 L163.5 862.9 L161.8 863.3 L160.1 863.9 L158.4 864.6 L156.7 865.4 L155.0 866.1 L153.3 867.1 L151.6 868.2 L150.0 869.4 L148.3 870.6 L146.6 871.9 L144.9 873.1 L143.2 874.4 L141.5 875.7 L139.8 877.1 L138.1 878.5 L136.5 879.9 L134.8 881.4 L133.1 883.0 L131.4 884.7 L129.7 886.5 L128.0 888.4 L126.3 890.3 L124.7 892.2 L123.0 894.0 L121.3 895.8 L119.6 897.6 L117.9 899.4 L116.2 901.0 L114.5 902.1 L112.8 902.5 L111.2 902.5 L109.5 902.2 L107.8 901.7 L106.1 901.1 L104.4 900.4 L102.7 899.7 L101.0 898.9 L99.3 898.1 L97.7 897.3 L96.0 896.4 L94.3 895.5 L92.6 894.6 L90.9 893.7 L89.2 892.7 L87.5 891.7 L85.8 890.7 L84.2 889.7 L82.5 888.7 L80.8 887.8 L79.1 887.0 L77.4 886.2 L75.7 885.5 L74.0 884.7 L72.3 884.0 L70.7 883.4 L69.0 882.8 L67.3 882.2 L65.6 881.7 L63.9 881.2 L62.2 880.7 L60.5 880.3 L58.9 879.9 L57.2 879.5 L55.5 879.1 L53.8 878.8 L52.1 878.5 L50.4 878.3 L48.7 878.1Z" fill="none" stroke="#f0a8d8" stroke-width="0.9" clip-path="url(#b9)"/>
<path d="M48.7 860.1 L50.4 860.3 L52.1 860.6 L53.8 860.8 L55.5 861.0 L57.2 861.2 L58.9 861.3 L60.5 861.3 L62.2 861.3 L63.9 861.2 L65.6 861.0 L67.3 860.8 L69.0 860.5 L70.7 860.1 L72.3 859.7 L74.0 859.2 L75.7 858.7 L77.4 858.2 L79.1 857.6 L80.8 857.0 L82.5 856.2 L84.2 855.4 L85.8 854.5 L87.5 853.6 L89.2 852.7 L90.9 851.7 L92.6 850.8 L94.3 850.0 L96.0 849.2 L97.7 848.3 L99.3 847.5 L101.0 846.6 L102.7 845.8 L104.4 845.0 L106.1 844.1 L107.8 843.3 L109.5 842.5 L111.2 841.8 L112.8 841.0 L114.5 840.3 L116.2 839.6 L117.9 838.9 L119.6 838.2 L121.3 837.6 L123.0 836.9 L124.7 836.3 L126.3 835.7 L128.0 835.1 L129.7 834.5 L131.4 834.0 L133.1 833.5 L134.8 833.0 L136.5 832.5 L138.1 832.1 L139.8 831.6 L141.5 831.2 L143.2 830.8 L144.9 830.4 L146.6 830.1 L148.3 829.9 L150.0 829.7 L151.6 829.5 L153.3 829.5 L155.0 829.6 L156.7 829.7 L158.4 829.9 L160.1 830.2 L161.8 830.6 L163.5 830.9 L165.1 831.3 L166.8 831.7 L168.5 832.3 L170.2 833.0 L171.9 833.8 L173.6 834.7 L175.3 835.6 L177.0 836.7 L178.6 837.7 L180.3 838.7 L182.0 839.9 L183.7 841.2 L185.4 842.5 L187.1 843.8 L188.8 845.2 L190.4 846.4 L192.1 847.6 L193.8 848.9 L195.5 850.2 L197.2 851.5 L198.9 852.7 L200.6 853.8 L202.3 854.7 L203.9 855.5 L205.6 856.0 L207.3 856.4 L209.0 856.8 L210.7 857.1 L212.4 857.4 L214.1 857.7 L215.8 857.9 L217.4 858.0 L219.1 858.2 L220.8 858.3 L222.5 858.4 L224.2 858.5 L225.9 858.6 L227.6 858.6 L229.3 858.7 L230.9 858.7 L232.6 858.7" fill="none" stroke="#1000e6" stroke-width="3.7" stroke-linecap="round" stroke-linejoin="round"/>
<path d="M48.7 854.2 L50.4 853.8 L52.1 853.4 L53.8 852.9 L55.5 852.4 L57.2 851.9 L58.9 851.4 L60.5 850.8 L62.2 850.3 L63.9 849.8 L65.6 849.2 L67.3 848.7 L69.0 848.1 L70.7 847.5 L72.3 846.9 L74.0 846.2 L75.7 845.5 L77.4 844.8 L79.1 844.0 L80.8 843.1 L82.5 842.1 L84.2 841.1 L85.8 839.9 L87.5 838.8 L89.2 837.6 L90.9 836.5 L92.6 835.4 L94.3 834.5 L96.0 833.6 L97.7 832.8 L99.3 832.0 L101.0 831.3 L102.7 830.6 L104.4 830.0 L106.1 829.3 L107.8 828.6 L109.5 827.8 L111.2 827.0 L112.8 826.2 L114.5 825.3 L116.2 824.3 L117.9 823.2 L119.6 822.1 L121.3 820.9 L123.0 819.7 L124.7 818.5 L126.3 817.4 L128.0 816.2 L129.7 815.1 L131.4 814.1 L133.1 813.1 L134.8 812.2 L136.5 811.3 L138.1 810.4 L139.8 809.5 L141.5 808.7 L143.2 807.9 L144.9 807.3 L146.6 806.8 L148.3 806.4 L150.0 806.2 L151.6 806.3 L153.3 806.6 L155.0 807.0 L156.7 807.7 L158.4 808.4 L160.1 809.1 L161.8 810.0 L163.5 811.2 L165.1 812.5 L166.8 814.0 L168.5 815.6 L170.2 817.2 L171.9 818.9 L173.6 820.7 L175.3 822.6 L177.0 824.6 L178.6 826.6 L180.3 828.7 L182.0 830.7 L183.7 832.7 L185.4 834.6 L187.1 836.6 L188.8 838.6 L190.4 840.5 L192.1 842.3 L193.8 843.9 L195.5 845.4 L197.2 846.8 L198.9 848.2 L200.6 849.5 L202.3 850.7 L203.9 851.8 L205.6 852.7 L207.3 853.4 L209.0 853.9 L210.7 854.3 L212.4 854.7 L214.1 855.0 L215.8 855.3 L217.4 855.6 L219.1 855.7 L220.8 855.8 L222.5 855.9 L224.2 855.9 L225.9 855.9 L227.6 855.9 L229.3 855.9 L230.9 855.9 L232.6 855.8" fill="none" stroke="#ff0a2a" stroke-width="4.5" stroke-linecap="round" stroke-linejoin="round"/>
<line x1="50.3" y1="845.3" x2="232.6" y2="845.3" stroke="#111" stroke-width="1.6" stroke-dasharray="3.0 4.3"/>
</g>
<path d="M47.8 728.7 L232.6 728.7 L232.6 914.6 L49.6 914.6 Z" fill="none" stroke="#1a1a1a" stroke-width="1.30"/>
<text transform="translate(16.9 820.0) rotate(-90)" x="0" y="0" font-size="9.8" text-anchor="middle" fill="#111" stroke="#111" stroke-width="0.12" font-family='"Liberation Sans", sans-serif' textLength="64.0" lengthAdjust="spacingAndGlyphs">KneeAngles_Y</text>
<line x1="286.8" y1="914.6" x2="286.8" y2="918.1" stroke="#222" stroke-width="1"/>
<text x="286.8" y="929.1" font-size="10.00" text-anchor="middle" fill="#111" font-family='"Liberation Sans", sans-serif' font-weight="normal" stroke="#111" stroke-width="0.22">0</text>
<line x1="324.4" y1="914.6" x2="324.4" y2="918.1" stroke="#222" stroke-width="1"/>
<text x="324.4" y="929.1" font-size="10.00" text-anchor="middle" fill="#111" font-family='"Liberation Sans", sans-serif' font-weight="normal" stroke="#111" stroke-width="0.22">20</text>
<line x1="362.1" y1="914.6" x2="362.1" y2="918.1" stroke="#222" stroke-width="1"/>
<text x="362.1" y="929.1" font-size="10.00" text-anchor="middle" fill="#111" font-family='"Liberation Sans", sans-serif' font-weight="normal" stroke="#111" stroke-width="0.22">40</text>
<line x1="399.7" y1="914.6" x2="399.7" y2="918.1" stroke="#222" stroke-width="1"/>
<text x="399.7" y="929.1" font-size="10.00" text-anchor="middle" fill="#111" font-family='"Liberation Sans", sans-serif' font-weight="normal" stroke="#111" stroke-width="0.22">60</text>
<line x1="437.4" y1="914.6" x2="437.4" y2="918.1" stroke="#222" stroke-width="1"/>
<text x="437.4" y="929.1" font-size="10.00" text-anchor="middle" fill="#111" font-family='"Liberation Sans", sans-serif' font-weight="normal" stroke="#111" stroke-width="0.22">80</text>
<line x1="475.0" y1="914.6" x2="475.0" y2="918.1" stroke="#222" stroke-width="1"/>
<text x="475.0" y="929.1" font-size="10.00" text-anchor="middle" fill="#111" font-family='"Liberation Sans", sans-serif' font-weight="normal" stroke="#111" stroke-width="0.22">100</text>
<line x1="282.3" y1="738.8" x2="285.8" y2="738.8" stroke="#222" stroke-width="1"/>
<text x="279.0" y="743.7" font-size="10.00" text-anchor="end" fill="#111" font-family='"Liberation Sans", sans-serif' font-weight="normal" stroke="#111" stroke-width="0.22">4</text>
<line x1="282.3" y1="762.9" x2="285.8" y2="762.9" stroke="#222" stroke-width="1"/>
<text x="279.0" y="767.8" font-size="10.00" text-anchor="end" fill="#111" font-family='"Liberation Sans", sans-serif' font-weight="normal" stroke="#111" stroke-width="0.22">3</text>
<line x1="282.3" y1="787.1" x2="285.8" y2="787.1" stroke="#222" stroke-width="1"/>
<text x="279.0" y="792.0" font-size="10.00" text-anchor="end" fill="#111" font-family='"Liberation Sans", sans-serif' font-weight="normal" stroke="#111" stroke-width="0.22">2</text>
<line x1="282.3" y1="811.2" x2="285.8" y2="811.2" stroke="#222" stroke-width="1"/>
<text x="279.0" y="816.1" font-size="10.00" text-anchor="end" fill="#111" font-family='"Liberation Sans", sans-serif' font-weight="normal" stroke="#111" stroke-width="0.22">1</text>
<line x1="282.3" y1="835.4" x2="285.8" y2="835.4" stroke="#222" stroke-width="1"/>
<text x="279.0" y="840.3" font-size="10.00" text-anchor="end" fill="#111" font-family='"Liberation Sans", sans-serif' font-weight="normal" stroke="#111" stroke-width="0.22">0</text>
<line x1="282.3" y1="859.5" x2="285.8" y2="859.5" stroke="#222" stroke-width="1"/>
<text x="279.0" y="864.4" font-size="10.00" text-anchor="end" fill="#111" font-family='"Liberation Sans", sans-serif' font-weight="normal" stroke="#111" stroke-width="0.22">−1</text>
<line x1="282.3" y1="883.7" x2="285.8" y2="883.7" stroke="#222" stroke-width="1"/>
<text x="279.0" y="888.6" font-size="10.00" text-anchor="end" fill="#111" font-family='"Liberation Sans", sans-serif' font-weight="normal" stroke="#111" stroke-width="0.22">−2</text>
<line x1="282.3" y1="907.8" x2="285.8" y2="907.8" stroke="#222" stroke-width="1"/>
<text x="279.0" y="912.7" font-size="10.00" text-anchor="end" fill="#111" font-family='"Liberation Sans", sans-serif' font-weight="normal" stroke="#111" stroke-width="0.22">−3</text>
<text x="380.9" y="941.8" font-size="10.00" text-anchor="middle" fill="#111" font-family='"Liberation Sans", sans-serif' font-weight="normal" textLength="41.0" lengthAdjust="spacingAndGlyphs" stroke="#111" stroke-width="0.18">Time (%)</text>
<g clip-path="url(#c10)">
</g>
<rect x="293.6" y="734.2" width="50.8" height="16.3" fill="#fff" fill-opacity="1.00" stroke="#8a8a8a" stroke-width="1.3"/>
<text x="297.5" y="745.2" font-size="10.00" text-anchor="start" fill="#111" font-family='"Liberation Sans", sans-serif' font-weight="normal" textLength="42.6" lengthAdjust="spacingAndGlyphs" >p = 0.045</text>
<g clip-path="url(#c10)">
<line x1="287.8" y1="766.9" x2="475.0" y2="766.9" stroke="#2a2a2a" stroke-width="1.5" stroke-dasharray="7.8 3.8"/>
<line x1="287.8" y1="903.3" x2="475.0" y2="903.3" stroke="#2a2a2a" stroke-width="1.5" stroke-dasharray="7.8 3.8"/>
<line x1="287.8" y1="835.4" x2="475.0" y2="835.4" stroke="#111" stroke-width="1.4" stroke-dasharray="2.2 2.8"/>
<path d="M288.2 790.1 L289.8 788.1 L291.5 786.2 L293.1 784.5 L294.7 783.0 L296.3 781.7 L297.9 780.6 L299.6 779.5 L301.2 778.4 L302.9 777.3 L304.5 776.4 L306.0 775.6 L307.6 774.9 L309.1 774.4 L310.6 774.1 L312.1 774.2 L313.5 774.6 L315.0 775.3 L316.6 776.1 L318.1 777.1 L319.7 778.2 L321.3 779.4 L322.9 780.6 L324.6 782.2 L326.2 783.9 L327.8 785.8 L329.5 787.7 L331.3 789.6 L333.0 791.3 L334.8 792.9 L336.5 794.2 L338.3 795.6 L340.1 796.9 L341.8 798.1 L343.7 799.2 L345.6 800.1 L347.5 800.6 L349.4 800.9 L351.3 800.8 L353.2 800.5 L355.1 800.0 L357.0 799.2 L358.8 798.3 L360.6 797.2 L362.3 796.1 L364.1 795.0 L365.8 793.6 L367.6 792.2 L369.3 790.7 L371.0 789.1 L372.7 787.6 L374.3 786.2 L376.0 784.9 L377.6 783.7 L379.2 782.7 L380.8 781.7 L382.5 780.7 L384.1 779.9 L385.7 779.1 L387.3 778.4 L388.9 777.8 L390.4 777.3 L392.0 777.0 L393.5 777.0 L395.1 777.3 L396.6 777.7 L398.2 778.2 L399.8 778.9 L401.3 779.6 L402.9 780.4 L404.4 781.6 L406.0 783.1 L407.6 784.7 L409.2 786.6 L410.8 788.6 L412.5 790.6 L414.2 792.7 L415.8 794.9 L417.5 797.2 L419.1 799.8 L420.8 802.4 L422.5 805.1 L424.2 807.7 L425.9 810.3 L427.6 813.0 L429.3 815.8 L431.0 818.7 L432.7 821.5 L434.5 824.1 L436.3 826.4 L438.1 828.2 L439.9 829.8 L441.8 831.3 L443.7 832.5 L445.7 833.2 L447.7 833.5 L449.6 833.4 L451.5 833.1 L453.4 832.6 L455.2 832.0 L456.9 831.2 L458.7 830.4 L460.4 829.6 L462.2 828.6 L463.9 827.7 L465.7 826.7 L467.4 825.6 L469.1 824.5 L470.9 823.3 L472.6 822.0 L474.3 820.7 L476.0 819.3 L473.9 816.6 L472.2 817.9 L470.5 819.2 L468.9 820.5 L467.2 821.7 L465.6 822.8 L463.9 823.9 L462.3 824.9 L460.6 825.8 L459.0 826.7 L457.3 827.5 L455.7 828.3 L454.1 829.1 L452.5 829.7 L450.9 830.3 L449.4 830.7 L448.0 830.8 L446.6 830.4 L445.1 829.6 L443.7 828.5 L442.2 827.2 L440.6 825.7 L439.1 824.0 L437.5 821.8 L435.8 819.4 L434.2 816.6 L432.5 813.8 L430.8 811.0 L429.1 808.3 L427.4 805.7 L425.7 803.0 L424.0 800.4 L422.3 797.7 L420.6 795.1 L418.8 792.7 L417.1 790.4 L415.4 788.3 L413.6 786.2 L411.9 784.1 L410.1 782.2 L408.3 780.4 L406.5 778.9 L404.7 777.6 L402.8 776.7 L401.0 776.0 L399.1 775.3 L397.3 774.8 L395.5 774.5 L393.6 774.4 L391.8 774.4 L390.0 774.5 L388.1 774.9 L386.3 775.5 L384.5 776.2 L382.7 777.0 L381.0 777.9 L379.2 778.8 L377.4 779.8 L375.7 780.9 L373.9 782.1 L372.2 783.5 L370.4 784.9 L368.7 786.5 L367.0 788.0 L365.3 789.5 L363.7 790.9 L362.1 792.2 L360.4 793.3 L358.8 794.4 L357.2 795.4 L355.6 796.3 L354.1 797.1 L352.6 797.7 L351.1 798.1 L349.6 798.2 L348.1 797.8 L346.7 797.2 L345.2 796.3 L343.6 795.3 L342.0 794.1 L340.4 792.8 L338.7 791.5 L337.1 790.2 L335.5 788.7 L333.8 787.0 L332.2 785.2 L330.5 783.3 L328.8 781.4 L327.0 779.6 L325.2 778.0 L323.4 776.6 L321.6 775.4 L319.9 774.3 L318.0 773.3 L316.2 772.4 L314.3 771.8 L312.4 771.5 L310.5 771.5 L308.6 771.6 L306.7 772.0 L304.8 772.7 L303.0 773.5 L301.2 774.5 L299.5 775.5 L297.7 776.6 L296.0 777.8 L294.2 778.9 L292.4 780.3 L290.7 781.9 L288.9 783.7 L287.1 785.7 L285.4 787.7Z" fill="#000" stroke="#000" stroke-width="0.3" stroke-linejoin="round"/><circle cx="286.8" cy="788.9" r="1.83" fill="#000"/><circle cx="475.0" cy="818.0" r="1.73" fill="#000"/>
</g>
<path d="M285.8 728.7 H475.0 V914.6 H285.8 Z" fill="none" stroke="#1a1a1a" stroke-width="1.30"/>
<text x="347.0" y="766.2" font-size="12.21" fill="#cf1f2b" stroke="#cf1f2b" stroke-width="0.1" font-family='"Liberation Sans", sans-serif' textLength="93.6" lengthAdjust="spacingAndGlyphs" style="white-space:pre"><tspan font-style="italic">α</tspan>=0.05:  <tspan font-style="italic">t</tspan><tspan font-size="8.7" dy="-3.3">*</tspan><tspan dy="3.3"> =2.838</tspan></text>
<text transform="translate(260.5 824.0) rotate(-90)" x="0" y="0" font-size="17" text-anchor="middle" fill="#111" stroke="#111" stroke-width="0.12" font-family='"Liberation Sans", sans-serif' textLength="54.2" lengthAdjust="spacingAndGlyphs">SPM{t}</text>
<line x1="50.1" y1="1215.0" x2="50.1" y2="1218.5" stroke="#222" stroke-width="1"/>
<text x="50.1" y="1229.5" font-size="10.00" text-anchor="middle" fill="#111" font-family='"Liberation Sans", sans-serif' font-weight="normal" stroke="#111" stroke-width="0.22">0</text>
<line x1="86.7" y1="1215.0" x2="86.7" y2="1218.5" stroke="#222" stroke-width="1"/>
<text x="86.7" y="1229.5" font-size="10.00" text-anchor="middle" fill="#111" font-family='"Liberation Sans", sans-serif' font-weight="normal" stroke="#111" stroke-width="0.22">20</text>
<line x1="123.3" y1="1215.0" x2="123.3" y2="1218.5" stroke="#222" stroke-width="1"/>
<text x="123.3" y="1229.5" font-size="10.00" text-anchor="middle" fill="#111" font-family='"Liberation Sans", sans-serif' font-weight="normal" stroke="#111" stroke-width="0.22">40</text>
<line x1="159.8" y1="1215.0" x2="159.8" y2="1218.5" stroke="#222" stroke-width="1"/>
<text x="159.8" y="1229.5" font-size="10.00" text-anchor="middle" fill="#111" font-family='"Liberation Sans", sans-serif' font-weight="normal" stroke="#111" stroke-width="0.22">60</text>
<line x1="196.4" y1="1215.0" x2="196.4" y2="1218.5" stroke="#222" stroke-width="1"/>
<text x="196.4" y="1229.5" font-size="10.00" text-anchor="middle" fill="#111" font-family='"Liberation Sans", sans-serif' font-weight="normal" stroke="#111" stroke-width="0.22">80</text>
<line x1="233.0" y1="1215.0" x2="233.0" y2="1218.5" stroke="#222" stroke-width="1"/>
<text x="233.0" y="1229.5" font-size="10.00" text-anchor="middle" fill="#111" font-family='"Liberation Sans", sans-serif' font-weight="normal" stroke="#111" stroke-width="0.22">100</text>
<line x1="45.2" y1="1040.4" x2="48.7" y2="1040.4" stroke="#222" stroke-width="1"/>
<text x="41.9" y="1045.3" font-size="10.00" text-anchor="end" fill="#111" font-family='"Liberation Sans", sans-serif' font-weight="normal" stroke="#111" stroke-width="0.22">10.0</text>
<line x1="45.2" y1="1061.6" x2="48.7" y2="1061.6" stroke="#222" stroke-width="1"/>
<text x="41.9" y="1066.5" font-size="10.00" text-anchor="end" fill="#111" font-family='"Liberation Sans", sans-serif' font-weight="normal" stroke="#111" stroke-width="0.22">7.5</text>
<line x1="45.2" y1="1082.8" x2="48.7" y2="1082.8" stroke="#222" stroke-width="1"/>
<text x="41.9" y="1087.7" font-size="10.00" text-anchor="end" fill="#111" font-family='"Liberation Sans", sans-serif' font-weight="normal" stroke="#111" stroke-width="0.22">5.0</text>
<line x1="45.2" y1="1104.0" x2="48.7" y2="1104.0" stroke="#222" stroke-width="1"/>
<text x="41.9" y="1108.9" font-size="10.00" text-anchor="end" fill="#111" font-family='"Liberation Sans", sans-serif' font-weight="normal" stroke="#111" stroke-width="0.22">2.5</text>
<line x1="45.2" y1="1125.2" x2="48.7" y2="1125.2" stroke="#222" stroke-width="1"/>
<text x="41.9" y="1130.2" font-size="10.00" text-anchor="end" fill="#111" font-family='"Liberation Sans", sans-serif' font-weight="normal" stroke="#111" stroke-width="0.22">0.0</text>
<line x1="45.2" y1="1146.5" x2="48.7" y2="1146.5" stroke="#222" stroke-width="1"/>
<text x="41.9" y="1151.4" font-size="10.00" text-anchor="end" fill="#111" font-family='"Liberation Sans", sans-serif' font-weight="normal" stroke="#111" stroke-width="0.22">−2.5</text>
<line x1="45.2" y1="1167.7" x2="48.7" y2="1167.7" stroke="#222" stroke-width="1"/>
<text x="41.9" y="1172.6" font-size="10.00" text-anchor="end" fill="#111" font-family='"Liberation Sans", sans-serif' font-weight="normal" stroke="#111" stroke-width="0.22">−5.0</text>
<line x1="45.2" y1="1188.9" x2="48.7" y2="1188.9" stroke="#222" stroke-width="1"/>
<text x="41.9" y="1193.8" font-size="10.00" text-anchor="end" fill="#111" font-family='"Liberation Sans", sans-serif' font-weight="normal" stroke="#111" stroke-width="0.22">−7.5</text>
<line x1="45.2" y1="1210.1" x2="48.7" y2="1210.1" stroke="#222" stroke-width="1"/>
<text x="41.9" y="1215.0" font-size="10.00" text-anchor="end" fill="#111" font-family='"Liberation Sans", sans-serif' font-weight="normal" stroke="#111" stroke-width="0.22">−10.0</text>
<text x="141.6" y="1242.2" font-size="10.00" text-anchor="middle" fill="#111" font-family='"Liberation Sans", sans-serif' font-weight="normal" textLength="41.0" lengthAdjust="spacingAndGlyphs" stroke="#111" stroke-width="0.18">Time (%)</text>
<g clip-path="url(#c11)">
<path d="M49.7 1076.6 L51.4 1075.8 L53.1 1075.1 L54.8 1074.3 L56.5 1073.5 L58.2 1072.7 L59.9 1071.9 L61.6 1071.1 L63.3 1070.4 L65.0 1069.6 L66.7 1068.8 L68.4 1068.0 L70.1 1067.1 L71.8 1066.3 L73.5 1065.4 L75.2 1064.6 L76.9 1063.7 L78.6 1063.0 L80.3 1062.3 L81.9 1061.6 L83.6 1061.0 L85.3 1060.5 L87.0 1060.1 L88.7 1059.7 L90.4 1059.3 L92.1 1058.9 L93.8 1058.6 L95.5 1058.3 L97.2 1058.0 L98.9 1057.7 L100.6 1057.4 L102.3 1057.1 L104.0 1056.9 L105.7 1056.6 L107.4 1056.3 L109.1 1056.1 L110.8 1055.8 L112.5 1055.6 L114.2 1055.3 L115.9 1055.1 L117.6 1054.8 L119.3 1054.6 L121.0 1054.3 L122.7 1054.0 L124.4 1053.7 L126.1 1053.4 L127.8 1053.1 L129.5 1052.8 L131.2 1052.6 L132.9 1052.3 L134.6 1052.0 L136.3 1051.7 L138.0 1051.5 L139.7 1051.2 L141.4 1050.9 L143.1 1050.7 L144.8 1050.4 L146.5 1050.2 L148.1 1049.9 L149.8 1049.7 L151.5 1049.5 L153.2 1049.3 L154.9 1049.2 L156.6 1049.1 L158.3 1049.0 L160.0 1048.9 L161.7 1048.9 L163.4 1048.8 L165.1 1048.8 L166.8 1048.8 L168.5 1048.7 L170.2 1048.7 L171.9 1048.7 L173.6 1048.7 L175.3 1048.8 L177.0 1048.9 L178.7 1049.0 L180.4 1049.2 L182.1 1049.8 L183.8 1050.7 L185.5 1051.8 L187.2 1053.0 L188.9 1054.3 L190.6 1055.4 L192.3 1056.5 L194.0 1057.5 L195.7 1058.6 L197.4 1059.7 L199.1 1060.7 L200.8 1061.7 L202.5 1062.6 L204.2 1063.4 L205.9 1064.0 L207.6 1064.6 L209.3 1065.2 L211.0 1065.6 L212.6 1066.1 L214.3 1066.4 L216.0 1066.7 L217.7 1066.9 L219.4 1067.0 L221.1 1067.0 L222.8 1067.0 L224.5 1066.8 L226.2 1066.7 L227.9 1066.5 L229.6 1066.2 L231.3 1065.9 L233.0 1065.6 L233.0 1177.1 L231.3 1177.0 L229.6 1176.9 L227.9 1176.8 L226.2 1176.6 L224.5 1176.4 L222.8 1176.2 L221.1 1176.0 L219.4 1175.8 L217.7 1175.5 L216.0 1175.3 L214.3 1175.0 L212.6 1174.7 L211.0 1174.4 L209.3 1174.1 L207.6 1173.8 L205.9 1173.4 L204.2 1173.1 L202.5 1172.7 L200.8 1172.3 L199.1 1171.9 L197.4 1171.4 L195.7 1170.9 L194.0 1170.3 L192.3 1169.8 L190.6 1169.2 L188.9 1168.6 L187.2 1168.0 L185.5 1167.4 L183.8 1166.8 L182.1 1166.1 L180.4 1165.4 L178.7 1164.7 L177.0 1164.0 L175.3 1163.2 L173.6 1162.5 L171.9 1161.8 L170.2 1161.1 L168.5 1160.5 L166.8 1159.9 L165.1 1159.4 L163.4 1158.9 L161.7 1158.4 L160.0 1158.0 L158.3 1157.6 L156.6 1157.2 L154.9 1156.8 L153.2 1156.4 L151.5 1156.1 L149.8 1155.8 L148.1 1155.6 L146.5 1155.4 L144.8 1155.2 L143.1 1155.0 L141.4 1154.8 L139.7 1154.6 L138.0 1154.5 L136.3 1154.3 L134.6 1154.2 L132.9 1154.1 L131.2 1154.0 L129.5 1153.9 L127.8 1153.9 L126.1 1153.8 L124.4 1153.9 L122.7 1153.9 L121.0 1154.0 L119.3 1154.2 L117.6 1154.3 L115.9 1154.5 L114.2 1154.8 L112.5 1155.0 L110.8 1155.3 L109.1 1155.6 L107.4 1155.9 L105.7 1156.3 L104.0 1156.7 L102.3 1157.3 L100.6 1157.9 L98.9 1158.5 L97.2 1159.2 L95.5 1159.9 L93.8 1160.6 L92.1 1161.2 L90.4 1161.9 L88.7 1162.5 L87.0 1163.1 L85.3 1163.7 L83.6 1164.3 L81.9 1165.0 L80.3 1165.6 L78.6 1166.2 L76.9 1166.8 L75.2 1167.4 L73.5 1167.9 L71.8 1168.4 L70.1 1168.8 L68.4 1169.1 L66.7 1169.4 L65.0 1169.5 L63.3 1169.6 L61.6 1169.6 L59.9 1169.6 L58.2 1169.5 L56.5 1169.3 L54.8 1169.1 L53.1 1168.9 L51.4 1168.7 L49.7 1168.4Z" fill="#736ef8"/>
<path d="M49.7 1077.2 L51.4 1077.6 L53.1 1077.9 L54.8 1078.3 L56.5 1078.5 L58.2 1078.8 L59.9 1079.0 L61.6 1079.1 L63.3 1079.2 L65.0 1079.2 L66.7 1079.1 L68.4 1078.9 L70.1 1078.7 L71.8 1078.5 L73.5 1078.1 L75.2 1077.8 L76.9 1077.4 L78.6 1076.9 L80.3 1076.4 L81.9 1075.8 L83.6 1075.2 L85.3 1074.6 L87.0 1073.9 L88.7 1073.0 L90.4 1072.1 L92.1 1071.1 L93.8 1070.1 L95.5 1069.0 L97.2 1067.9 L98.9 1066.8 L100.6 1065.7 L102.3 1064.6 L104.0 1063.6 L105.7 1062.7 L107.4 1061.7 L109.1 1060.6 L110.8 1059.6 L112.5 1058.6 L114.2 1057.7 L115.9 1056.8 L117.6 1056.1 L119.3 1055.4 L121.0 1054.8 L122.7 1054.3 L124.4 1053.8 L126.1 1053.3 L127.8 1052.9 L129.5 1052.5 L131.2 1052.1 L132.9 1051.7 L134.6 1051.4 L136.3 1051.1 L138.0 1050.9 L139.7 1050.6 L141.4 1050.4 L143.1 1050.2 L144.8 1049.9 L146.5 1049.7 L148.1 1049.5 L149.8 1049.3 L151.5 1049.1 L153.2 1049.0 L154.9 1048.8 L156.6 1048.7 L158.3 1048.6 L160.0 1048.6 L161.7 1048.7 L163.4 1048.8 L165.1 1049.0 L166.8 1049.2 L168.5 1049.7 L170.2 1050.4 L171.9 1051.4 L173.6 1052.4 L175.3 1053.6 L177.0 1054.9 L178.7 1056.4 L180.4 1058.1 L182.1 1060.0 L183.8 1061.8 L185.5 1063.7 L187.2 1065.4 L188.9 1067.0 L190.6 1068.6 L192.3 1070.2 L194.0 1071.8 L195.7 1073.3 L197.4 1074.7 L199.1 1076.0 L200.8 1077.1 L202.5 1078.0 L204.2 1079.0 L205.9 1079.8 L207.6 1080.6 L209.3 1081.2 L211.0 1081.8 L212.6 1082.2 L214.3 1082.4 L216.0 1082.5 L217.7 1082.5 L219.4 1082.3 L221.1 1082.1 L222.8 1081.7 L224.5 1081.3 L226.2 1080.7 L227.9 1080.2 L229.6 1079.5 L231.3 1078.9 L233.0 1078.2 L233.0 1198.5 L231.3 1198.9 L229.6 1199.3 L227.9 1199.7 L226.2 1200.0 L224.5 1200.2 L222.8 1200.4 L221.1 1200.4 L219.4 1200.4 L217.7 1200.2 L216.0 1199.9 L214.3 1199.6 L212.6 1199.1 L211.0 1198.6 L209.3 1198.1 L207.6 1197.5 L205.9 1196.9 L204.2 1196.2 L202.5 1195.5 L200.8 1194.6 L199.1 1193.6 L197.4 1192.6 L195.7 1191.4 L194.0 1190.2 L192.3 1189.0 L190.6 1187.7 L188.9 1186.5 L187.2 1185.2 L185.5 1183.9 L183.8 1182.6 L182.1 1181.2 L180.4 1179.6 L178.7 1178.1 L177.0 1176.5 L175.3 1174.8 L173.6 1173.3 L171.9 1171.8 L170.2 1170.3 L168.5 1169.0 L166.8 1167.9 L165.1 1166.9 L163.4 1165.9 L161.7 1165.0 L160.0 1164.1 L158.3 1163.3 L156.6 1162.5 L154.9 1161.8 L153.2 1161.2 L151.5 1160.6 L149.8 1160.1 L148.1 1159.6 L146.5 1159.2 L144.8 1158.9 L143.1 1158.6 L141.4 1158.3 L139.7 1158.1 L138.0 1157.9 L136.3 1157.8 L134.6 1157.7 L132.9 1157.7 L131.2 1157.7 L129.5 1157.9 L127.8 1158.0 L126.1 1158.3 L124.4 1158.8 L122.7 1159.3 L121.0 1160.0 L119.3 1160.7 L117.6 1161.6 L115.9 1162.5 L114.2 1163.5 L112.5 1164.5 L110.8 1165.6 L109.1 1166.7 L107.4 1167.7 L105.7 1168.9 L104.0 1170.1 L102.3 1171.4 L100.6 1172.8 L98.9 1174.2 L97.2 1175.7 L95.5 1177.1 L93.8 1178.6 L92.1 1180.0 L90.4 1181.4 L88.7 1182.8 L87.0 1184.1 L85.3 1185.5 L83.6 1186.9 L81.9 1188.4 L80.3 1189.8 L78.6 1191.2 L76.9 1192.6 L75.2 1193.9 L73.5 1195.1 L71.8 1196.1 L70.1 1197.0 L68.4 1197.8 L66.7 1198.5 L65.0 1199.2 L63.3 1199.8 L61.6 1200.4 L59.9 1200.9 L58.2 1201.3 L56.5 1201.7 L54.8 1202.0 L53.1 1202.2 L51.4 1202.3 L49.7 1202.3Z" fill="#f3667c"/>
<path d="M49.7 1077.2 L51.4 1077.6 L53.1 1077.9 L54.8 1078.3 L56.5 1078.5 L58.2 1078.8 L59.9 1079.0 L61.6 1079.1 L63.3 1079.2 L65.0 1079.2 L66.7 1079.1 L68.4 1078.9 L70.1 1078.7 L71.8 1078.5 L73.5 1078.1 L75.2 1077.8 L76.9 1077.4 L78.6 1076.9 L80.3 1076.4 L81.9 1075.8 L83.6 1075.2 L85.3 1074.6 L87.0 1073.9 L88.7 1073.0 L90.4 1072.1 L92.1 1071.1 L93.8 1070.1 L95.5 1069.0 L97.2 1067.9 L98.9 1066.8 L100.6 1065.7 L102.3 1064.6 L104.0 1063.6 L105.7 1062.7 L107.4 1061.7 L109.1 1060.6 L110.8 1059.6 L112.5 1058.6 L114.2 1057.7 L115.9 1056.8 L117.6 1056.1 L119.3 1055.4 L121.0 1054.8 L122.7 1054.3 L124.4 1053.8 L126.1 1053.3 L127.8 1052.9 L129.5 1052.5 L131.2 1052.1 L132.9 1051.7 L134.6 1051.4 L136.3 1051.1 L138.0 1050.9 L139.7 1050.6 L141.4 1050.4 L143.1 1050.2 L144.8 1049.9 L146.5 1049.7 L148.1 1049.5 L149.8 1049.3 L151.5 1049.1 L153.2 1049.0 L154.9 1048.8 L156.6 1048.7 L158.3 1048.6 L160.0 1048.6 L161.7 1048.7 L163.4 1048.8 L165.1 1049.0 L166.8 1049.2 L168.5 1049.7 L170.2 1050.4 L171.9 1051.4 L173.6 1052.4 L175.3 1053.6 L177.0 1054.9 L178.7 1056.4 L180.4 1058.1 L182.1 1060.0 L183.8 1061.8 L185.5 1063.7 L187.2 1065.4 L188.9 1067.0 L190.6 1068.6 L192.3 1070.2 L194.0 1071.8 L195.7 1073.3 L197.4 1074.7 L199.1 1076.0 L200.8 1077.1 L202.5 1078.0 L204.2 1079.0 L205.9 1079.8 L207.6 1080.6 L209.3 1081.2 L211.0 1081.8 L212.6 1082.2 L214.3 1082.4 L216.0 1082.5 L217.7 1082.5 L219.4 1082.3 L221.1 1082.1 L222.8 1081.7 L224.5 1081.3 L226.2 1080.7 L227.9 1080.2 L229.6 1079.5 L231.3 1078.9 L233.0 1078.2 L233.0 1198.5 L231.3 1198.9 L229.6 1199.3 L227.9 1199.7 L226.2 1200.0 L224.5 1200.2 L222.8 1200.4 L221.1 1200.4 L219.4 1200.4 L217.7 1200.2 L216.0 1199.9 L214.3 1199.6 L212.6 1199.1 L211.0 1198.6 L209.3 1198.1 L207.6 1197.5 L205.9 1196.9 L204.2 1196.2 L202.5 1195.5 L200.8 1194.6 L199.1 1193.6 L197.4 1192.6 L195.7 1191.4 L194.0 1190.2 L192.3 1189.0 L190.6 1187.7 L188.9 1186.5 L187.2 1185.2 L185.5 1183.9 L183.8 1182.6 L182.1 1181.2 L180.4 1179.6 L178.7 1178.1 L177.0 1176.5 L175.3 1174.8 L173.6 1173.3 L171.9 1171.8 L170.2 1170.3 L168.5 1169.0 L166.8 1167.9 L165.1 1166.9 L163.4 1165.9 L161.7 1165.0 L160.0 1164.1 L158.3 1163.3 L156.6 1162.5 L154.9 1161.8 L153.2 1161.2 L151.5 1160.6 L149.8 1160.1 L148.1 1159.6 L146.5 1159.2 L144.8 1158.9 L143.1 1158.6 L141.4 1158.3 L139.7 1158.1 L138.0 1157.9 L136.3 1157.8 L134.6 1157.7 L132.9 1157.7 L131.2 1157.7 L129.5 1157.9 L127.8 1158.0 L126.1 1158.3 L124.4 1158.8 L122.7 1159.3 L121.0 1160.0 L119.3 1160.7 L117.6 1161.6 L115.9 1162.5 L114.2 1163.5 L112.5 1164.5 L110.8 1165.6 L109.1 1166.7 L107.4 1167.7 L105.7 1168.9 L104.0 1170.1 L102.3 1171.4 L100.6 1172.8 L98.9 1174.2 L97.2 1175.7 L95.5 1177.1 L93.8 1178.6 L92.1 1180.0 L90.4 1181.4 L88.7 1182.8 L87.0 1184.1 L85.3 1185.5 L83.6 1186.9 L81.9 1188.4 L80.3 1189.8 L78.6 1191.2 L76.9 1192.6 L75.2 1193.9 L73.5 1195.1 L71.8 1196.1 L70.1 1197.0 L68.4 1197.8 L66.7 1198.5 L65.0 1199.2 L63.3 1199.8 L61.6 1200.4 L59.9 1200.9 L58.2 1201.3 L56.5 1201.7 L54.8 1202.0 L53.1 1202.2 L51.4 1202.3 L49.7 1202.3Z" fill="#ef3a9e" clip-path="url(#b12)"/>
<path d="M49.7 1077.2 L51.4 1077.6 L53.1 1077.9 L54.8 1078.3 L56.5 1078.5 L58.2 1078.8 L59.9 1079.0 L61.6 1079.1 L63.3 1079.2 L65.0 1079.2 L66.7 1079.1 L68.4 1078.9 L70.1 1078.7 L71.8 1078.5 L73.5 1078.1 L75.2 1077.8 L76.9 1077.4 L78.6 1076.9 L80.3 1076.4 L81.9 1075.8 L83.6 1075.2 L85.3 1074.6 L87.0 1073.9 L88.7 1073.0 L90.4 1072.1 L92.1 1071.1 L93.8 1070.1 L95.5 1069.0 L97.2 1067.9 L98.9 1066.8 L100.6 1065.7 L102.3 1064.6 L104.0 1063.6 L105.7 1062.7 L107.4 1061.7 L109.1 1060.6 L110.8 1059.6 L112.5 1058.6 L114.2 1057.7 L115.9 1056.8 L117.6 1056.1 L119.3 1055.4 L121.0 1054.8 L122.7 1054.3 L124.4 1053.8 L126.1 1053.3 L127.8 1052.9 L129.5 1052.5 L131.2 1052.1 L132.9 1051.7 L134.6 1051.4 L136.3 1051.1 L138.0 1050.9 L139.7 1050.6 L141.4 1050.4 L143.1 1050.2 L144.8 1049.9 L146.5 1049.7 L148.1 1049.5 L149.8 1049.3 L151.5 1049.1 L153.2 1049.0 L154.9 1048.8 L156.6 1048.7 L158.3 1048.6 L160.0 1048.6 L161.7 1048.7 L163.4 1048.8 L165.1 1049.0 L166.8 1049.2 L168.5 1049.7 L170.2 1050.4 L171.9 1051.4 L173.6 1052.4 L175.3 1053.6 L177.0 1054.9 L178.7 1056.4 L180.4 1058.1 L182.1 1060.0 L183.8 1061.8 L185.5 1063.7 L187.2 1065.4 L188.9 1067.0 L190.6 1068.6 L192.3 1070.2 L194.0 1071.8 L195.7 1073.3 L197.4 1074.7 L199.1 1076.0 L200.8 1077.1 L202.5 1078.0 L204.2 1079.0 L205.9 1079.8 L207.6 1080.6 L209.3 1081.2 L211.0 1081.8 L212.6 1082.2 L214.3 1082.4 L216.0 1082.5 L217.7 1082.5 L219.4 1082.3 L221.1 1082.1 L222.8 1081.7 L224.5 1081.3 L226.2 1080.7 L227.9 1080.2 L229.6 1079.5 L231.3 1078.9 L233.0 1078.2 L233.0 1198.5 L231.3 1198.9 L229.6 1199.3 L227.9 1199.7 L226.2 1200.0 L224.5 1200.2 L222.8 1200.4 L221.1 1200.4 L219.4 1200.4 L217.7 1200.2 L216.0 1199.9 L214.3 1199.6 L212.6 1199.1 L211.0 1198.6 L209.3 1198.1 L207.6 1197.5 L205.9 1196.9 L204.2 1196.2 L202.5 1195.5 L200.8 1194.6 L199.1 1193.6 L197.4 1192.6 L195.7 1191.4 L194.0 1190.2 L192.3 1189.0 L190.6 1187.7 L188.9 1186.5 L187.2 1185.2 L185.5 1183.9 L183.8 1182.6 L182.1 1181.2 L180.4 1179.6 L178.7 1178.1 L177.0 1176.5 L175.3 1174.8 L173.6 1173.3 L171.9 1171.8 L170.2 1170.3 L168.5 1169.0 L166.8 1167.9 L165.1 1166.9 L163.4 1165.9 L161.7 1165.0 L160.0 1164.1 L158.3 1163.3 L156.6 1162.5 L154.9 1161.8 L153.2 1161.2 L151.5 1160.6 L149.8 1160.1 L148.1 1159.6 L146.5 1159.2 L144.8 1158.9 L143.1 1158.6 L141.4 1158.3 L139.7 1158.1 L138.0 1157.9 L136.3 1157.8 L134.6 1157.7 L132.9 1157.7 L131.2 1157.7 L129.5 1157.9 L127.8 1158.0 L126.1 1158.3 L124.4 1158.8 L122.7 1159.3 L121.0 1160.0 L119.3 1160.7 L117.6 1161.6 L115.9 1162.5 L114.2 1163.5 L112.5 1164.5 L110.8 1165.6 L109.1 1166.7 L107.4 1167.7 L105.7 1168.9 L104.0 1170.1 L102.3 1171.4 L100.6 1172.8 L98.9 1174.2 L97.2 1175.7 L95.5 1177.1 L93.8 1178.6 L92.1 1180.0 L90.4 1181.4 L88.7 1182.8 L87.0 1184.1 L85.3 1185.5 L83.6 1186.9 L81.9 1188.4 L80.3 1189.8 L78.6 1191.2 L76.9 1192.6 L75.2 1193.9 L73.5 1195.1 L71.8 1196.1 L70.1 1197.0 L68.4 1197.8 L66.7 1198.5 L65.0 1199.2 L63.3 1199.8 L61.6 1200.4 L59.9 1200.9 L58.2 1201.3 L56.5 1201.7 L54.8 1202.0 L53.1 1202.2 L51.4 1202.3 L49.7 1202.3Z" fill="none" stroke="#f0a8d8" stroke-width="0.9" clip-path="url(#b12)"/>
<path d="M49.7 1122.8 L51.4 1122.6 L53.1 1122.2 L54.8 1121.9 L56.5 1121.5 L58.2 1121.1 L59.9 1120.7 L61.6 1120.2 L63.3 1119.7 L65.0 1119.2 L66.7 1118.7 L68.4 1118.2 L70.1 1117.6 L71.8 1117.0 L73.5 1116.4 L75.2 1115.7 L76.9 1114.9 L78.6 1114.2 L80.3 1113.4 L81.9 1112.7 L83.6 1112.0 L85.3 1111.3 L87.0 1110.7 L88.7 1110.1 L90.4 1109.6 L92.1 1109.1 L93.8 1108.6 L95.5 1108.1 L97.2 1107.6 L98.9 1107.2 L100.6 1106.7 L102.3 1106.4 L104.0 1106.0 L105.7 1105.7 L107.4 1105.4 L109.1 1105.2 L110.8 1105.0 L112.5 1104.8 L114.2 1104.6 L115.9 1104.4 L117.6 1104.2 L119.3 1104.0 L121.0 1103.8 L122.7 1103.7 L124.4 1103.6 L126.1 1103.5 L127.8 1103.4 L129.5 1103.3 L131.2 1103.2 L132.9 1103.2 L134.6 1103.1 L136.3 1103.1 L138.0 1103.0 L139.7 1103.0 L141.4 1103.0 L143.1 1103.0 L144.8 1103.0 L146.5 1103.0 L148.1 1103.1 L149.8 1103.2 L151.5 1103.3 L153.2 1103.4 L154.9 1103.6 L156.6 1103.8 L158.3 1104.0 L160.0 1104.2 L161.7 1104.4 L163.4 1104.6 L165.1 1104.8 L166.8 1105.1 L168.5 1105.3 L170.2 1105.6 L171.9 1105.9 L173.6 1106.2 L175.3 1106.6 L177.0 1107.0 L178.7 1107.4 L180.4 1107.8 L182.1 1108.3 L183.8 1108.8 L185.5 1109.2 L187.2 1109.8 L188.9 1110.4 L190.6 1111.0 L192.3 1111.7 L194.0 1112.5 L195.7 1113.2 L197.4 1114.0 L199.1 1114.7 L200.8 1115.4 L202.5 1116.1 L204.2 1116.7 L205.9 1117.3 L207.6 1117.9 L209.3 1118.5 L211.0 1119.0 L212.6 1119.5 L214.3 1120.0 L216.0 1120.4 L217.7 1120.8 L219.4 1121.1 L221.1 1121.3 L222.8 1121.5 L224.5 1121.5 L226.2 1121.5 L227.9 1121.4 L229.6 1121.3 L231.3 1121.1 L233.0 1120.9" fill="none" stroke="#1000e6" stroke-width="3.7" stroke-linecap="round" stroke-linejoin="round"/>
<path d="M49.7 1139.3 L51.4 1139.6 L53.1 1139.9 L54.8 1140.1 L56.5 1140.3 L58.2 1140.3 L59.9 1140.4 L61.6 1140.3 L63.3 1140.2 L65.0 1140.0 L66.7 1139.8 L68.4 1139.5 L70.1 1139.1 L71.8 1138.5 L73.5 1137.9 L75.2 1137.1 L76.9 1136.2 L78.6 1135.3 L80.3 1134.2 L81.9 1133.2 L83.6 1132.0 L85.3 1130.9 L87.0 1129.7 L88.7 1128.5 L90.4 1127.1 L92.1 1125.5 L93.8 1123.8 L95.5 1122.0 L97.2 1120.1 L98.9 1118.4 L100.6 1116.7 L102.3 1115.3 L104.0 1114.1 L105.7 1113.0 L107.4 1112.0 L109.1 1111.0 L110.8 1110.1 L112.5 1109.2 L114.2 1108.5 L115.9 1107.8 L117.6 1107.2 L119.3 1106.7 L121.0 1106.4 L122.7 1106.2 L124.4 1106.0 L126.1 1105.8 L127.8 1105.6 L129.5 1105.4 L131.2 1105.3 L132.9 1105.1 L134.6 1105.0 L136.3 1104.9 L138.0 1104.8 L139.7 1104.8 L141.4 1104.8 L143.1 1104.8 L144.8 1104.8 L146.5 1104.9 L148.1 1105.0 L149.8 1105.1 L151.5 1105.3 L153.2 1105.5 L154.9 1105.6 L156.6 1105.8 L158.3 1106.1 L160.0 1106.3 L161.7 1106.6 L163.4 1107.2 L165.1 1107.9 L166.8 1108.8 L168.5 1109.8 L170.2 1111.0 L171.9 1112.2 L173.6 1113.4 L175.3 1114.7 L177.0 1116.0 L178.7 1117.6 L180.4 1119.4 L182.1 1121.2 L183.8 1123.1 L185.5 1125.0 L187.2 1126.7 L188.9 1128.2 L190.6 1129.6 L192.3 1130.9 L194.0 1132.2 L195.7 1133.4 L197.4 1134.5 L199.1 1135.6 L200.8 1136.6 L202.5 1137.4 L204.2 1138.1 L205.9 1138.6 L207.6 1139.2 L209.3 1139.6 L211.0 1140.1 L212.6 1140.5 L214.3 1140.8 L216.0 1141.0 L217.7 1141.2 L219.4 1141.3 L221.1 1141.2 L222.8 1141.0 L224.5 1140.7 L226.2 1140.2 L227.9 1139.7 L229.6 1139.1 L231.3 1138.4 L233.0 1137.7" fill="none" stroke="#ff0a2a" stroke-width="4.5" stroke-linecap="round" stroke-linejoin="round"/>
<line x1="51.1" y1="1125.2" x2="233.0" y2="1125.2" stroke="#111" stroke-width="1.6" stroke-dasharray="3.0 4.3"/>
</g>
<path d="M48.7 1028.7 H233.0 V1215.0 H48.7 Z" fill="none" stroke="#1a1a1a" stroke-width="1.30"/>
<text transform="translate(9.9 1123.5) rotate(-90)" x="0" y="0" font-size="9.8" text-anchor="middle" fill="#111" stroke="#111" stroke-width="0.12" font-family='"Liberation Sans", sans-serif' textLength="60.5" lengthAdjust="spacingAndGlyphs">AnkleAngles_Y</text>
<line x1="286.8" y1="1214.6" x2="286.8" y2="1218.1" stroke="#222" stroke-width="1"/>
<text x="286.8" y="1229.1" font-size="10.00" text-anchor="middle" fill="#111" font-family='"Liberation Sans", sans-serif' font-weight="normal" stroke="#111" stroke-width="0.22">0</text>
<line x1="324.2" y1="1214.6" x2="324.2" y2="1218.1" stroke="#222" stroke-width="1"/>
<text x="324.2" y="1229.1" font-size="10.00" text-anchor="middle" fill="#111" font-family='"Liberation Sans", sans-serif' font-weight="normal" stroke="#111" stroke-width="0.22">20</text>
<line x1="361.7" y1="1214.6" x2="361.7" y2="1218.1" stroke="#222" stroke-width="1"/>
<text x="361.7" y="1229.1" font-size="10.00" text-anchor="middle" fill="#111" font-family='"Liberation Sans", sans-serif' font-weight="normal" stroke="#111" stroke-width="0.22">40</text>
<line x1="399.1" y1="1214.6" x2="399.1" y2="1218.1" stroke="#222" stroke-width="1"/>
<text x="399.1" y="1229.1" font-size="10.00" text-anchor="middle" fill="#111" font-family='"Liberation Sans", sans-serif' font-weight="normal" stroke="#111" stroke-width="0.22">60</text>
<line x1="436.6" y1="1214.6" x2="436.6" y2="1218.1" stroke="#222" stroke-width="1"/>
<text x="436.6" y="1229.1" font-size="10.00" text-anchor="middle" fill="#111" font-family='"Liberation Sans", sans-serif' font-weight="normal" stroke="#111" stroke-width="0.22">80</text>
<line x1="474.0" y1="1214.6" x2="474.0" y2="1218.1" stroke="#222" stroke-width="1"/>
<text x="474.0" y="1229.1" font-size="10.00" text-anchor="middle" fill="#111" font-family='"Liberation Sans", sans-serif' font-weight="normal" stroke="#111" stroke-width="0.22">100</text>
<line x1="283.3" y1="1037.5" x2="286.8" y2="1037.5" stroke="#222" stroke-width="1"/>
<text x="280.0" y="1042.4" font-size="10.00" text-anchor="end" fill="#111" font-family='"Liberation Sans", sans-serif' font-weight="normal" stroke="#111" stroke-width="0.22">3</text>
<line x1="283.3" y1="1065.6" x2="286.8" y2="1065.6" stroke="#222" stroke-width="1"/>
<text x="280.0" y="1070.5" font-size="10.00" text-anchor="end" fill="#111" font-family='"Liberation Sans", sans-serif' font-weight="normal" stroke="#111" stroke-width="0.22">2</text>
<line x1="283.3" y1="1093.7" x2="286.8" y2="1093.7" stroke="#222" stroke-width="1"/>
<text x="280.0" y="1098.6" font-size="10.00" text-anchor="end" fill="#111" font-family='"Liberation Sans", sans-serif' font-weight="normal" stroke="#111" stroke-width="0.22">1</text>
<line x1="283.3" y1="1121.8" x2="286.8" y2="1121.8" stroke="#222" stroke-width="1"/>
<text x="280.0" y="1126.8" font-size="10.00" text-anchor="end" fill="#111" font-family='"Liberation Sans", sans-serif' font-weight="normal" stroke="#111" stroke-width="0.22">0</text>
<line x1="283.3" y1="1150.0" x2="286.8" y2="1150.0" stroke="#222" stroke-width="1"/>
<text x="280.0" y="1154.9" font-size="10.00" text-anchor="end" fill="#111" font-family='"Liberation Sans", sans-serif' font-weight="normal" stroke="#111" stroke-width="0.22">−1</text>
<line x1="283.3" y1="1178.1" x2="286.8" y2="1178.1" stroke="#222" stroke-width="1"/>
<text x="280.0" y="1183.0" font-size="10.00" text-anchor="end" fill="#111" font-family='"Liberation Sans", sans-serif' font-weight="normal" stroke="#111" stroke-width="0.22">−2</text>
<line x1="283.3" y1="1206.2" x2="286.8" y2="1206.2" stroke="#222" stroke-width="1"/>
<text x="280.0" y="1211.1" font-size="10.00" text-anchor="end" fill="#111" font-family='"Liberation Sans", sans-serif' font-weight="normal" stroke="#111" stroke-width="0.22">−3</text>
<text x="380.4" y="1241.8" font-size="10.00" text-anchor="middle" fill="#111" font-family='"Liberation Sans", sans-serif' font-weight="normal" textLength="41.0" lengthAdjust="spacingAndGlyphs" stroke="#111" stroke-width="0.18">Time (%)</text>
<g clip-path="url(#c13)">
</g>
<rect x="286.8" y="1164.5" width="78.9" height="16.9" fill="#fff" fill-opacity="1.00" stroke="#8a8a8a" stroke-width="1.3"/>
<rect x="397.4" y="1166.5" width="77.2" height="16.8" fill="#fff" fill-opacity="1.00" stroke="#8a8a8a" stroke-width="1.3"/>
<text x="287.8" y="1176.2" font-size="9.80" text-anchor="start" fill="#111" font-family='"Liberation Sans", sans-serif' font-weight="normal" textLength="69.4" lengthAdjust="spacingAndGlyphs" stroke="#111" stroke-width="0.08">p=0.048</text>
<text x="406.5" y="1178.0" font-size="10.50" text-anchor="start" fill="#111" font-family='"Liberation Sans", sans-serif' font-weight="normal" textLength="89.5" lengthAdjust="spacingAndGlyphs" stroke="#111" stroke-width="0.08">p = 0.048</text>
<g clip-path="url(#c13)">
<line x1="287.8" y1="1045.8" x2="474.6" y2="1045.8" stroke="#2a2a2a" stroke-width="1.5" stroke-dasharray="7.8 3.8"/>
<line x1="287.8" y1="1197.5" x2="474.6" y2="1197.5" stroke="#2a2a2a" stroke-width="1.5" stroke-dasharray="7.8 3.8"/>
<line x1="287.8" y1="1121.8" x2="474.6" y2="1121.8" stroke="#111" stroke-width="1.4" stroke-dasharray="2.2 2.8"/>
<path d="M285.7 1186.2 L287.4 1187.6 L289.1 1189.0 L290.8 1190.3 L292.6 1191.5 L294.3 1192.7 L296.0 1193.8 L297.8 1194.7 L299.5 1195.7 L301.2 1196.6 L303.0 1197.5 L304.7 1198.3 L306.5 1199.0 L308.3 1199.6 L310.1 1200.1 L312.0 1200.4 L313.9 1200.3 L315.8 1200.1 L317.7 1199.6 L319.6 1198.9 L321.5 1197.9 L323.3 1196.5 L325.2 1194.7 L327.0 1192.7 L328.7 1190.4 L330.5 1188.1 L332.2 1185.6 L334.0 1182.9 L335.7 1179.9 L337.4 1176.6 L339.1 1173.2 L340.8 1169.9 L342.4 1166.8 L344.1 1163.9 L345.7 1161.2 L347.4 1158.6 L349.1 1156.0 L350.7 1153.6 L352.4 1151.1 L354.1 1148.8 L355.8 1146.4 L357.5 1144.0 L359.1 1141.6 L360.8 1139.3 L362.4 1137.1 L364.0 1135.2 L365.5 1133.6 L367.1 1132.4 L368.6 1131.4 L370.1 1130.4 L371.6 1129.6 L373.1 1129.0 L374.7 1128.7 L376.2 1128.6 L377.8 1128.7 L379.4 1128.9 L381.1 1129.1 L382.7 1129.4 L384.4 1129.7 L386.0 1130.0 L387.7 1130.3 L389.3 1130.6 L391.0 1131.1 L392.6 1131.5 L394.3 1132.0 L395.9 1132.6 L397.5 1133.2 L399.1 1133.8 L400.6 1134.5 L402.2 1135.6 L403.7 1137.0 L405.2 1138.6 L406.8 1140.5 L408.4 1142.6 L410.1 1144.8 L411.7 1147.2 L413.3 1149.9 L415.0 1153.0 L416.6 1156.2 L418.3 1159.5 L420.0 1162.9 L421.7 1166.1 L423.4 1169.2 L425.1 1172.5 L426.8 1175.8 L428.5 1179.0 L430.2 1182.2 L431.9 1185.2 L433.6 1187.9 L435.4 1190.4 L437.1 1192.8 L438.9 1195.0 L440.6 1197.0 L442.4 1198.7 L444.2 1200.2 L446.1 1201.6 L448.0 1202.8 L450.1 1203.6 L452.1 1203.8 L454.2 1203.4 L456.2 1202.4 L458.2 1201.0 L460.0 1199.4 L461.7 1197.7 L463.4 1196.0 L465.1 1194.4 L466.8 1192.7 L468.6 1190.9 L470.3 1189.0 L472.0 1187.1 L473.7 1185.2 L475.4 1183.2 L472.6 1180.8 L470.9 1182.8 L469.2 1184.7 L467.6 1186.6 L465.9 1188.4 L464.3 1190.2 L462.6 1191.9 L460.9 1193.5 L459.3 1195.1 L457.6 1196.8 L456.1 1198.3 L454.6 1199.6 L453.3 1200.5 L452.0 1201.1 L450.7 1200.8 L449.3 1199.9 L447.9 1198.7 L446.4 1197.5 L444.8 1196.1 L443.3 1194.5 L441.7 1192.6 L440.0 1190.5 L438.4 1188.2 L436.8 1185.8 L435.1 1183.2 L433.5 1180.3 L431.8 1177.2 L430.1 1174.0 L428.5 1170.7 L426.8 1167.5 L425.1 1164.3 L423.4 1161.1 L421.7 1157.8 L420.0 1154.4 L418.3 1151.1 L416.6 1148.0 L414.9 1145.1 L413.1 1142.6 L411.4 1140.3 L409.6 1138.2 L407.8 1136.1 L406.0 1134.3 L404.2 1132.8 L402.3 1131.7 L400.5 1130.9 L398.7 1130.3 L396.9 1129.7 L395.2 1129.1 L393.4 1128.7 L391.7 1128.2 L390.0 1127.8 L388.3 1127.5 L386.5 1127.2 L384.8 1126.9 L383.1 1126.6 L381.4 1126.4 L379.7 1126.2 L377.9 1126.1 L376.1 1126.0 L374.3 1125.9 L372.5 1126.1 L370.6 1126.7 L368.7 1127.5 L366.9 1128.5 L365.0 1129.7 L363.2 1131.0 L361.4 1132.7 L359.6 1134.7 L357.8 1137.0 L356.1 1139.4 L354.4 1141.9 L352.7 1144.3 L351.0 1146.6 L349.3 1149.0 L347.6 1151.4 L345.9 1154.0 L344.2 1156.6 L342.5 1159.2 L340.8 1162.0 L339.1 1164.9 L337.4 1168.1 L335.7 1171.4 L334.0 1174.8 L332.3 1178.0 L330.7 1181.0 L329.1 1183.6 L327.4 1185.9 L325.8 1188.2 L324.2 1190.3 L322.6 1192.2 L321.1 1193.8 L319.6 1195.1 L318.1 1196.0 L316.6 1196.7 L315.2 1197.3 L313.7 1197.6 L312.2 1197.7 L310.7 1197.3 L309.1 1196.8 L307.6 1196.1 L306.0 1195.4 L304.4 1194.6 L302.7 1193.7 L301.1 1192.8 L299.4 1191.9 L297.8 1190.9 L296.1 1189.9 L294.5 1188.7 L292.9 1187.5 L291.2 1186.3 L289.6 1184.9 L287.9 1183.5Z" fill="#000" stroke="#000" stroke-width="0.3" stroke-linejoin="round"/><circle cx="286.8" cy="1184.9" r="1.74" fill="#000"/><circle cx="474.0" cy="1182.0" r="1.83" fill="#000"/>
</g>
<path d="M286.8 1028.1 H474.6 V1214.6 H286.8 Z" fill="none" stroke="#1a1a1a" stroke-width="1.30"/>
<text x="336.6" y="1043.3" font-size="7.62" fill="#cf1f2b" stroke="#cf1f2b" stroke-width="0.1" font-family='"Liberation Sans", sans-serif' textLength="67.6" lengthAdjust="spacingAndGlyphs" style="white-space:pre"><tspan font-style="italic">α</tspan>=0.05:  <tspan font-style="italic">t</tspan><tspan font-size="5.4" dy="-2.0">*</tspan><tspan dy="2.0"> =2.689</tspan></text>
<text transform="translate(261.5 1123.5) rotate(-90)" x="0" y="0" font-size="17" text-anchor="middle" fill="#111" stroke="#111" stroke-width="0.12" font-family='"Liberation Sans", sans-serif' textLength="53.0" lengthAdjust="spacingAndGlyphs">SPM{t}</text>
<line x1="594.7" y1="332.0" x2="594.7" y2="335.5" stroke="#222" stroke-width="1"/>
<text x="594.7" y="346.5" font-size="10.00" text-anchor="middle" fill="#111" font-family='"Liberation Sans", sans-serif' font-weight="normal" stroke="#111" stroke-width="0.22">0</text>
<line x1="632.0" y1="332.0" x2="632.0" y2="335.5" stroke="#222" stroke-width="1"/>
<text x="632.0" y="346.5" font-size="10.00" text-anchor="middle" fill="#111" font-family='"Liberation Sans", sans-serif' font-weight="normal" stroke="#111" stroke-width="0.22">20</text>
<line x1="669.3" y1="332.0" x2="669.3" y2="335.5" stroke="#222" stroke-width="1"/>
<text x="669.3" y="346.5" font-size="10.00" text-anchor="middle" fill="#111" font-family='"Liberation Sans", sans-serif' font-weight="normal" stroke="#111" stroke-width="0.22">40</text>
<line x1="706.7" y1="332.0" x2="706.7" y2="335.5" stroke="#222" stroke-width="1"/>
<text x="706.7" y="346.5" font-size="10.00" text-anchor="middle" fill="#111" font-family='"Liberation Sans", sans-serif' font-weight="normal" stroke="#111" stroke-width="0.22">60</text>
<line x1="744.0" y1="332.0" x2="744.0" y2="335.5" stroke="#222" stroke-width="1"/>
<text x="744.0" y="346.5" font-size="10.00" text-anchor="middle" fill="#111" font-family='"Liberation Sans", sans-serif' font-weight="normal" stroke="#111" stroke-width="0.22">80</text>
<line x1="781.3" y1="332.0" x2="781.3" y2="335.5" stroke="#222" stroke-width="1"/>
<text x="781.3" y="346.5" font-size="10.00" text-anchor="middle" fill="#111" font-family='"Liberation Sans", sans-serif' font-weight="normal" stroke="#111" stroke-width="0.22">100</text>
<line x1="590.0" y1="160.8" x2="593.5" y2="160.8" stroke="#222" stroke-width="1"/>
<text x="586.7" y="165.7" font-size="10.00" text-anchor="end" fill="#111" font-family='"Liberation Sans", sans-serif' font-weight="normal" stroke="#111" stroke-width="0.22">6</text>
<line x1="590.0" y1="181.7" x2="593.5" y2="181.7" stroke="#222" stroke-width="1"/>
<text x="586.7" y="186.6" font-size="10.00" text-anchor="end" fill="#111" font-family='"Liberation Sans", sans-serif' font-weight="normal" stroke="#111" stroke-width="0.22">4</text>
<line x1="590.0" y1="202.7" x2="593.5" y2="202.7" stroke="#222" stroke-width="1"/>
<text x="586.7" y="207.6" font-size="10.00" text-anchor="end" fill="#111" font-family='"Liberation Sans", sans-serif' font-weight="normal" stroke="#111" stroke-width="0.22">2</text>
<line x1="590.0" y1="223.6" x2="593.5" y2="223.6" stroke="#222" stroke-width="1"/>
<text x="586.7" y="228.5" font-size="10.00" text-anchor="end" fill="#111" font-family='"Liberation Sans", sans-serif' font-weight="normal" stroke="#111" stroke-width="0.22">0</text>
<line x1="590.0" y1="244.5" x2="593.5" y2="244.5" stroke="#222" stroke-width="1"/>
<text x="586.7" y="249.4" font-size="10.00" text-anchor="end" fill="#111" font-family='"Liberation Sans", sans-serif' font-weight="normal" stroke="#111" stroke-width="0.22">−2</text>
<line x1="590.0" y1="265.4" x2="593.5" y2="265.4" stroke="#222" stroke-width="1"/>
<text x="586.7" y="270.3" font-size="10.00" text-anchor="end" fill="#111" font-family='"Liberation Sans", sans-serif' font-weight="normal" stroke="#111" stroke-width="0.22">−4</text>
<line x1="590.0" y1="286.4" x2="593.5" y2="286.4" stroke="#222" stroke-width="1"/>
<text x="586.7" y="291.2" font-size="10.00" text-anchor="end" fill="#111" font-family='"Liberation Sans", sans-serif' font-weight="normal" stroke="#111" stroke-width="0.22">−6</text>
<line x1="590.0" y1="307.3" x2="593.5" y2="307.3" stroke="#222" stroke-width="1"/>
<text x="586.7" y="312.2" font-size="10.00" text-anchor="end" fill="#111" font-family='"Liberation Sans", sans-serif' font-weight="normal" stroke="#111" stroke-width="0.22">−8</text>
<line x1="590.0" y1="328.2" x2="593.5" y2="328.2" stroke="#222" stroke-width="1"/>
<text x="586.7" y="333.1" font-size="10.00" text-anchor="end" fill="#111" font-family='"Liberation Sans", sans-serif' font-weight="normal" stroke="#111" stroke-width="0.22">−10</text>
<text x="688.0" y="359.2" font-size="10.00" text-anchor="middle" fill="#111" font-family='"Liberation Sans", sans-serif' font-weight="normal" textLength="41.0" lengthAdjust="spacingAndGlyphs" stroke="#111" stroke-width="0.18">Time (%)</text>
<g clip-path="url(#c14)">
<path d="M593.7 164.2 L595.4 163.7 L597.1 163.1 L598.8 162.6 L600.5 162.1 L602.2 161.6 L603.9 161.2 L605.6 160.9 L607.3 160.6 L609.0 160.4 L610.7 160.4 L612.4 160.4 L614.0 160.5 L615.7 160.6 L617.4 160.9 L619.1 161.2 L620.8 161.5 L622.5 161.9 L624.2 162.3 L625.9 162.9 L627.6 163.6 L629.3 164.3 L631.0 165.0 L632.7 165.8 L634.4 166.6 L636.1 167.5 L637.7 168.3 L639.4 169.3 L641.1 170.3 L642.8 171.3 L644.5 172.4 L646.2 173.4 L647.9 174.5 L649.6 175.7 L651.3 176.8 L653.0 177.9 L654.7 179.0 L656.4 180.2 L658.1 181.3 L659.8 182.5 L661.4 183.7 L663.1 184.9 L664.8 186.1 L666.5 187.3 L668.2 188.5 L669.9 189.7 L671.6 190.9 L673.3 192.1 L675.0 193.3 L676.7 194.5 L678.4 195.8 L680.1 197.0 L681.8 198.2 L683.5 199.4 L685.1 200.6 L686.8 201.8 L688.5 202.9 L690.2 204.1 L691.9 205.1 L693.6 206.2 L695.3 207.3 L697.0 208.5 L698.7 209.6 L700.4 210.7 L702.1 211.7 L703.8 212.7 L705.5 213.6 L707.2 214.3 L708.9 215.0 L710.5 215.5 L712.2 215.9 L713.9 216.3 L715.6 216.6 L717.3 217.0 L719.0 217.2 L720.7 217.5 L722.4 217.8 L724.1 218.0 L725.8 218.2 L727.5 218.3 L729.2 218.5 L730.9 218.6 L732.6 218.7 L734.2 218.8 L735.9 218.9 L737.6 218.9 L739.3 219.0 L741.0 219.1 L742.7 219.2 L744.4 219.3 L746.1 219.3 L747.8 219.4 L749.5 219.5 L751.2 219.6 L752.9 219.7 L754.6 219.8 L756.3 219.9 L757.9 219.9 L759.6 220.0 L761.3 220.1 L763.0 220.2 L764.7 220.3 L766.4 220.4 L768.1 220.5 L769.8 220.6 L771.5 220.6 L773.2 220.7 L774.9 220.8 L776.6 220.9 L778.3 221.0 L780.0 221.1 L780.0 299.1 L778.3 299.9 L776.6 300.7 L774.9 301.5 L773.2 302.3 L771.5 303.1 L769.8 303.9 L768.1 304.7 L766.4 305.5 L764.7 306.3 L763.0 307.0 L761.3 307.8 L759.6 308.7 L757.9 309.5 L756.3 310.4 L754.6 311.1 L752.9 311.8 L751.2 312.3 L749.5 312.7 L747.8 313.0 L746.1 313.3 L744.4 313.6 L742.7 313.8 L741.0 314.0 L739.3 314.2 L737.6 314.4 L735.9 314.5 L734.2 314.6 L732.6 314.6 L730.9 314.6 L729.2 314.6 L727.5 314.5 L725.8 314.4 L724.1 314.3 L722.4 314.1 L720.7 314.0 L719.0 313.8 L717.3 313.6 L715.6 313.3 L713.9 313.1 L712.2 312.8 L710.5 312.6 L708.9 312.2 L707.2 311.8 L705.5 311.4 L703.8 310.9 L702.1 310.4 L700.4 309.8 L698.7 309.3 L697.0 308.7 L695.3 308.1 L693.6 307.5 L691.9 306.9 L690.2 306.3 L688.5 305.7 L686.8 305.1 L685.1 304.4 L683.5 303.8 L681.8 303.1 L680.1 302.4 L678.4 301.7 L676.7 301.0 L675.0 300.2 L673.3 299.5 L671.6 298.8 L669.9 298.0 L668.2 297.2 L666.5 296.4 L664.8 295.6 L663.1 294.8 L661.4 293.9 L659.8 293.1 L658.1 292.2 L656.4 291.3 L654.7 290.4 L653.0 289.4 L651.3 288.4 L649.6 287.4 L647.9 286.2 L646.2 285.1 L644.5 283.9 L642.8 282.7 L641.1 281.5 L639.4 280.3 L637.7 279.2 L636.1 278.2 L634.4 277.2 L632.7 276.3 L631.0 275.5 L629.3 274.6 L627.6 273.8 L625.9 273.0 L624.2 272.2 L622.5 271.5 L620.8 271.0 L619.1 270.5 L617.4 270.1 L615.7 269.9 L614.0 269.9 L612.4 270.1 L610.7 270.4 L609.0 270.6 L607.3 270.9 L605.6 271.0 L603.9 270.9 L602.2 270.7 L600.5 270.3 L598.8 269.8 L597.1 269.3 L595.4 268.7 L593.7 268.0Z" fill="#736ef8"/>
<path d="M593.7 176.9 L595.4 175.7 L597.1 174.5 L598.8 173.4 L600.5 172.3 L602.2 171.3 L603.9 170.3 L605.6 169.3 L607.3 168.5 L609.0 167.7 L610.7 167.0 L612.4 166.3 L614.0 165.6 L615.7 165.0 L617.4 164.4 L619.1 163.8 L620.8 163.3 L622.5 162.9 L624.2 162.6 L625.9 162.4 L627.6 162.3 L629.3 162.3 L631.0 162.5 L632.7 162.8 L634.4 163.1 L636.1 163.6 L637.7 164.1 L639.4 164.7 L641.1 165.4 L642.8 166.0 L644.5 166.8 L646.2 167.6 L647.9 168.6 L649.6 169.6 L651.3 170.8 L653.0 171.9 L654.7 173.1 L656.4 174.4 L658.1 175.6 L659.8 176.8 L661.4 178.0 L663.1 179.2 L664.8 180.3 L666.5 181.5 L668.2 182.7 L669.9 183.9 L671.6 185.2 L673.3 186.4 L675.0 187.6 L676.7 188.8 L678.4 189.9 L680.1 191.1 L681.8 192.2 L683.5 193.4 L685.1 194.5 L686.8 195.7 L688.5 196.9 L690.2 198.1 L691.9 199.2 L693.6 200.3 L695.3 201.3 L697.0 202.2 L698.7 203.0 L700.4 203.7 L702.1 204.2 L703.8 204.7 L705.5 205.2 L707.2 205.6 L708.9 206.0 L710.5 206.4 L712.2 206.7 L713.9 207.0 L715.6 207.2 L717.3 207.4 L719.0 207.5 L720.7 207.5 L722.4 207.5 L724.1 207.4 L725.8 207.4 L727.5 207.3 L729.2 207.3 L730.9 207.2 L732.6 207.1 L734.2 207.0 L735.9 207.0 L737.6 207.0 L739.3 206.9 L741.0 206.9 L742.7 206.9 L744.4 207.0 L746.1 207.0 L747.8 207.1 L749.5 207.2 L751.2 207.3 L752.9 207.4 L754.6 207.5 L756.3 207.6 L757.9 207.8 L759.6 207.9 L761.3 208.1 L763.0 208.4 L764.7 208.8 L766.4 209.3 L768.1 209.8 L769.8 210.4 L771.5 211.1 L773.2 211.8 L774.9 212.5 L776.6 213.2 L778.3 214.0 L780.0 214.7 L780.0 303.9 L778.3 302.8 L776.6 301.7 L774.9 300.6 L773.2 299.7 L771.5 298.9 L769.8 298.3 L768.1 297.8 L766.4 297.3 L764.7 296.9 L763.0 296.4 L761.3 296.0 L759.6 295.6 L757.9 295.3 L756.3 294.9 L754.6 294.7 L752.9 294.5 L751.2 294.3 L749.5 294.2 L747.8 294.1 L746.1 294.1 L744.4 294.1 L742.7 294.2 L741.0 294.2 L739.3 294.2 L737.6 294.3 L735.9 294.3 L734.2 294.3 L732.6 294.3 L730.9 294.2 L729.2 294.2 L727.5 294.0 L725.8 293.9 L724.1 293.7 L722.4 293.5 L720.7 293.2 L719.0 292.9 L717.3 292.6 L715.6 292.3 L713.9 291.9 L712.2 291.6 L710.5 291.2 L708.9 290.6 L707.2 290.0 L705.5 289.1 L703.8 288.2 L702.1 287.1 L700.4 286.0 L698.7 284.8 L697.0 283.6 L695.3 282.3 L693.6 281.1 L691.9 279.8 L690.2 278.6 L688.5 277.3 L686.8 275.9 L685.1 274.4 L683.5 272.9 L681.8 271.4 L680.1 269.8 L678.4 268.2 L676.7 266.5 L675.0 264.9 L673.3 263.2 L671.6 261.5 L669.9 259.8 L668.2 257.9 L666.5 256.1 L664.8 254.2 L663.1 252.2 L661.4 250.3 L659.8 248.4 L658.1 246.4 L656.4 244.6 L654.7 242.7 L653.0 241.0 L651.3 239.2 L649.6 237.3 L647.9 235.5 L646.2 233.6 L644.5 231.8 L642.8 230.2 L641.1 228.7 L639.4 227.5 L637.7 226.5 L636.1 225.8 L634.4 225.1 L632.7 224.5 L631.0 224.0 L629.3 223.6 L627.6 223.4 L625.9 223.3 L624.2 223.4 L622.5 223.6 L620.8 224.0 L619.1 224.4 L617.4 224.8 L615.7 225.4 L614.0 225.9 L612.4 226.5 L610.7 227.1 L609.0 227.8 L607.3 228.4 L605.6 229.2 L603.9 229.9 L602.2 230.7 L600.5 231.5 L598.8 232.4 L597.1 233.3 L595.4 234.1 L593.7 235.1Z" fill="#f3667c"/>
<path d="M593.7 176.9 L595.4 175.7 L597.1 174.5 L598.8 173.4 L600.5 172.3 L602.2 171.3 L603.9 170.3 L605.6 169.3 L607.3 168.5 L609.0 167.7 L610.7 167.0 L612.4 166.3 L614.0 165.6 L615.7 165.0 L617.4 164.4 L619.1 163.8 L620.8 163.3 L622.5 162.9 L624.2 162.6 L625.9 162.4 L627.6 162.3 L629.3 162.3 L631.0 162.5 L632.7 162.8 L634.4 163.1 L636.1 163.6 L637.7 164.1 L639.4 164.7 L641.1 165.4 L642.8 166.0 L644.5 166.8 L646.2 167.6 L647.9 168.6 L649.6 169.6 L651.3 170.8 L653.0 171.9 L654.7 173.1 L656.4 174.4 L658.1 175.6 L659.8 176.8 L661.4 178.0 L663.1 179.2 L664.8 180.3 L666.5 181.5 L668.2 182.7 L669.9 183.9 L671.6 185.2 L673.3 186.4 L675.0 187.6 L676.7 188.8 L678.4 189.9 L680.1 191.1 L681.8 192.2 L683.5 193.4 L685.1 194.5 L686.8 195.7 L688.5 196.9 L690.2 198.1 L691.9 199.2 L693.6 200.3 L695.3 201.3 L697.0 202.2 L698.7 203.0 L700.4 203.7 L702.1 204.2 L703.8 204.7 L705.5 205.2 L707.2 205.6 L708.9 206.0 L710.5 206.4 L712.2 206.7 L713.9 207.0 L715.6 207.2 L717.3 207.4 L719.0 207.5 L720.7 207.5 L722.4 207.5 L724.1 207.4 L725.8 207.4 L727.5 207.3 L729.2 207.3 L730.9 207.2 L732.6 207.1 L734.2 207.0 L735.9 207.0 L737.6 207.0 L739.3 206.9 L741.0 206.9 L742.7 206.9 L744.4 207.0 L746.1 207.0 L747.8 207.1 L749.5 207.2 L751.2 207.3 L752.9 207.4 L754.6 207.5 L756.3 207.6 L757.9 207.8 L759.6 207.9 L761.3 208.1 L763.0 208.4 L764.7 208.8 L766.4 209.3 L768.1 209.8 L769.8 210.4 L771.5 211.1 L773.2 211.8 L774.9 212.5 L776.6 213.2 L778.3 214.0 L780.0 214.7 L780.0 303.9 L778.3 302.8 L776.6 301.7 L774.9 300.6 L773.2 299.7 L771.5 298.9 L769.8 298.3 L768.1 297.8 L766.4 297.3 L764.7 296.9 L763.0 296.4 L761.3 296.0 L759.6 295.6 L757.9 295.3 L756.3 294.9 L754.6 294.7 L752.9 294.5 L751.2 294.3 L749.5 294.2 L747.8 294.1 L746.1 294.1 L744.4 294.1 L742.7 294.2 L741.0 294.2 L739.3 294.2 L737.6 294.3 L735.9 294.3 L734.2 294.3 L732.6 294.3 L730.9 294.2 L729.2 294.2 L727.5 294.0 L725.8 293.9 L724.1 293.7 L722.4 293.5 L720.7 293.2 L719.0 292.9 L717.3 292.6 L715.6 292.3 L713.9 291.9 L712.2 291.6 L710.5 291.2 L708.9 290.6 L707.2 290.0 L705.5 289.1 L703.8 288.2 L702.1 287.1 L700.4 286.0 L698.7 284.8 L697.0 283.6 L695.3 282.3 L693.6 281.1 L691.9 279.8 L690.2 278.6 L688.5 277.3 L686.8 275.9 L685.1 274.4 L683.5 272.9 L681.8 271.4 L680.1 269.8 L678.4 268.2 L676.7 266.5 L675.0 264.9 L673.3 263.2 L671.6 261.5 L669.9 259.8 L668.2 257.9 L666.5 256.1 L664.8 254.2 L663.1 252.2 L661.4 250.3 L659.8 248.4 L658.1 246.4 L656.4 244.6 L654.7 242.7 L653.0 241.0 L651.3 239.2 L649.6 237.3 L647.9 235.5 L646.2 233.6 L644.5 231.8 L642.8 230.2 L641.1 228.7 L639.4 227.5 L637.7 226.5 L636.1 225.8 L634.4 225.1 L632.7 224.5 L631.0 224.0 L629.3 223.6 L627.6 223.4 L625.9 223.3 L624.2 223.4 L622.5 223.6 L620.8 224.0 L619.1 224.4 L617.4 224.8 L615.7 225.4 L614.0 225.9 L612.4 226.5 L610.7 227.1 L609.0 227.8 L607.3 228.4 L605.6 229.2 L603.9 229.9 L602.2 230.7 L600.5 231.5 L598.8 232.4 L597.1 233.3 L595.4 234.1 L593.7 235.1Z" fill="#ef3a9e" clip-path="url(#b15)"/>
<path d="M593.7 176.9 L595.4 175.7 L597.1 174.5 L598.8 173.4 L600.5 172.3 L602.2 171.3 L603.9 170.3 L605.6 169.3 L607.3 168.5 L609.0 167.7 L610.7 167.0 L612.4 166.3 L614.0 165.6 L615.7 165.0 L617.4 164.4 L619.1 163.8 L620.8 163.3 L622.5 162.9 L624.2 162.6 L625.9 162.4 L627.6 162.3 L629.3 162.3 L631.0 162.5 L632.7 162.8 L634.4 163.1 L636.1 163.6 L637.7 164.1 L639.4 164.7 L641.1 165.4 L642.8 166.0 L644.5 166.8 L646.2 167.6 L647.9 168.6 L649.6 169.6 L651.3 170.8 L653.0 171.9 L654.7 173.1 L656.4 174.4 L658.1 175.6 L659.8 176.8 L661.4 178.0 L663.1 179.2 L664.8 180.3 L666.5 181.5 L668.2 182.7 L669.9 183.9 L671.6 185.2 L673.3 186.4 L675.0 187.6 L676.7 188.8 L678.4 189.9 L680.1 191.1 L681.8 192.2 L683.5 193.4 L685.1 194.5 L686.8 195.7 L688.5 196.9 L690.2 198.1 L691.9 199.2 L693.6 200.3 L695.3 201.3 L697.0 202.2 L698.7 203.0 L700.4 203.7 L702.1 204.2 L703.8 204.7 L705.5 205.2 L707.2 205.6 L708.9 206.0 L710.5 206.4 L712.2 206.7 L713.9 207.0 L715.6 207.2 L717.3 207.4 L719.0 207.5 L720.7 207.5 L722.4 207.5 L724.1 207.4 L725.8 207.4 L727.5 207.3 L729.2 207.3 L730.9 207.2 L732.6 207.1 L734.2 207.0 L735.9 207.0 L737.6 207.0 L739.3 206.9 L741.0 206.9 L742.7 206.9 L744.4 207.0 L746.1 207.0 L747.8 207.1 L749.5 207.2 L751.2 207.3 L752.9 207.4 L754.6 207.5 L756.3 207.6 L757.9 207.8 L759.6 207.9 L761.3 208.1 L763.0 208.4 L764.7 208.8 L766.4 209.3 L768.1 209.8 L769.8 210.4 L771.5 211.1 L773.2 211.8 L774.9 212.5 L776.6 213.2 L778.3 214.0 L780.0 214.7 L780.0 303.9 L778.3 302.8 L776.6 301.7 L774.9 300.6 L773.2 299.7 L771.5 298.9 L769.8 298.3 L768.1 297.8 L766.4 297.3 L764.7 296.9 L763.0 296.4 L761.3 296.0 L759.6 295.6 L757.9 295.3 L756.3 294.9 L754.6 294.7 L752.9 294.5 L751.2 294.3 L749.5 294.2 L747.8 294.1 L746.1 294.1 L744.4 294.1 L742.7 294.2 L741.0 294.2 L739.3 294.2 L737.6 294.3 L735.9 294.3 L734.2 294.3 L732.6 294.3 L730.9 294.2 L729.2 294.2 L727.5 294.0 L725.8 293.9 L724.1 293.7 L722.4 293.5 L720.7 293.2 L719.0 292.9 L717.3 292.6 L715.6 292.3 L713.9 291.9 L712.2 291.6 L710.5 291.2 L708.9 290.6 L707.2 290.0 L705.5 289.1 L703.8 288.2 L702.1 287.1 L700.4 286.0 L698.7 284.8 L697.0 283.6 L695.3 282.3 L693.6 281.1 L691.9 279.8 L690.2 278.6 L688.5 277.3 L686.8 275.9 L685.1 274.4 L683.5 272.9 L681.8 271.4 L680.1 269.8 L678.4 268.2 L676.7 266.5 L675.0 264.9 L673.3 263.2 L671.6 261.5 L669.9 259.8 L668.2 257.9 L666.5 256.1 L664.8 254.2 L663.1 252.2 L661.4 250.3 L659.8 248.4 L658.1 246.4 L656.4 244.6 L654.7 242.7 L653.0 241.0 L651.3 239.2 L649.6 237.3 L647.9 235.5 L646.2 233.6 L644.5 231.8 L642.8 230.2 L641.1 228.7 L639.4 227.5 L637.7 226.5 L636.1 225.8 L634.4 225.1 L632.7 224.5 L631.0 224.0 L629.3 223.6 L627.6 223.4 L625.9 223.3 L624.2 223.4 L622.5 223.6 L620.8 224.0 L619.1 224.4 L617.4 224.8 L615.7 225.4 L614.0 225.9 L612.4 226.5 L610.7 227.1 L609.0 227.8 L607.3 228.4 L605.6 229.2 L603.9 229.9 L602.2 230.7 L600.5 231.5 L598.8 232.4 L597.1 233.3 L595.4 234.1 L593.7 235.1Z" fill="none" stroke="#f0a8d8" stroke-width="0.9" clip-path="url(#b15)"/>
<path d="M593.7 216.6 L595.4 216.4 L597.1 216.2 L598.8 216.0 L600.5 215.8 L602.2 215.7 L603.9 215.6 L605.6 215.6 L607.3 215.6 L609.0 215.6 L610.7 215.7 L612.4 215.8 L614.0 216.0 L615.7 216.3 L617.4 216.7 L619.1 217.1 L620.8 217.6 L622.5 218.1 L624.2 218.7 L625.9 219.4 L627.6 220.2 L629.3 221.1 L631.0 222.1 L632.7 223.1 L634.4 224.2 L636.1 225.3 L637.7 226.4 L639.4 227.4 L641.1 228.4 L642.8 229.4 L644.5 230.4 L646.2 231.4 L647.9 232.5 L649.6 233.5 L651.3 234.5 L653.0 235.5 L654.7 236.6 L656.4 237.6 L658.1 238.6 L659.8 239.5 L661.4 240.5 L663.1 241.4 L664.8 242.4 L666.5 243.3 L668.2 244.2 L669.9 245.1 L671.6 246.1 L673.3 247.0 L675.0 247.9 L676.7 248.8 L678.4 249.7 L680.1 250.7 L681.8 251.7 L683.5 252.7 L685.1 253.7 L686.8 254.7 L688.5 255.7 L690.2 256.7 L691.9 257.6 L693.6 258.5 L695.3 259.3 L697.0 260.1 L698.7 260.8 L700.4 261.4 L702.1 262.1 L703.8 262.7 L705.5 263.3 L707.2 263.9 L708.9 264.4 L710.5 264.9 L712.2 265.3 L713.9 265.7 L715.6 265.9 L717.3 266.1 L719.0 266.3 L720.7 266.5 L722.4 266.6 L724.1 266.7 L725.8 266.9 L727.5 267.0 L729.2 267.0 L730.9 267.1 L732.6 267.1 L734.2 267.1 L735.9 267.1 L737.6 267.0 L739.3 266.9 L741.0 266.8 L742.7 266.6 L744.4 266.5 L746.1 266.3 L747.8 266.1 L749.5 265.9 L751.2 265.7 L752.9 265.5 L754.6 265.3 L756.3 265.0 L757.9 264.8 L759.6 264.5 L761.3 264.2 L763.0 263.9 L764.7 263.5 L766.4 263.2 L768.1 262.8 L769.8 262.4 L771.5 262.0 L773.2 261.6 L774.9 261.2 L776.6 260.7 L778.3 260.3 L780.0 259.9" fill="none" stroke="#1000e6" stroke-width="3.7" stroke-linecap="round" stroke-linejoin="round"/>
<path d="M593.7 206.0 L595.4 204.9 L597.1 204.0 L598.8 203.0 L600.5 202.0 L602.2 201.1 L603.9 200.2 L605.6 199.4 L607.3 198.6 L609.0 197.8 L610.7 197.0 L612.4 196.3 L614.0 195.6 L615.7 194.8 L617.4 194.2 L619.1 193.5 L620.8 193.0 L622.5 192.5 L624.2 192.2 L625.9 192.0 L627.6 192.0 L629.3 192.3 L631.0 192.8 L632.7 193.5 L634.4 194.3 L636.1 195.2 L637.7 196.3 L639.4 197.3 L641.1 198.5 L642.8 199.9 L644.5 201.5 L646.2 203.2 L647.9 204.9 L649.6 206.6 L651.3 208.3 L653.0 209.9 L654.7 211.4 L656.4 212.9 L658.1 214.4 L659.8 215.9 L661.4 217.4 L663.1 218.8 L664.8 220.3 L666.5 221.8 L668.2 223.2 L669.9 224.7 L671.6 226.2 L673.3 227.8 L675.0 229.3 L676.7 230.8 L678.4 232.2 L680.1 233.6 L681.8 234.9 L683.5 236.1 L685.1 237.4 L686.8 238.6 L688.5 239.8 L690.2 241.0 L691.9 242.0 L693.6 243.0 L695.3 243.8 L697.0 244.6 L698.7 245.2 L700.4 245.8 L702.1 246.3 L703.8 246.9 L705.5 247.4 L707.2 247.9 L708.9 248.4 L710.5 248.8 L712.2 249.1 L713.9 249.3 L715.6 249.5 L717.3 249.6 L719.0 249.7 L720.7 249.7 L722.4 249.7 L724.1 249.6 L725.8 249.6 L727.5 249.6 L729.2 249.5 L730.9 249.5 L732.6 249.5 L734.2 249.5 L735.9 249.6 L737.6 249.7 L739.3 249.8 L741.0 249.9 L742.7 250.0 L744.4 250.2 L746.1 250.4 L747.8 250.5 L749.5 250.7 L751.2 250.9 L752.9 251.2 L754.6 251.4 L756.3 251.6 L757.9 251.9 L759.6 252.2 L761.3 252.6 L763.0 253.0 L764.7 253.4 L766.4 253.9 L768.1 254.4 L769.8 254.9 L771.5 255.5 L773.2 256.0 L774.9 256.6 L776.6 257.2 L778.3 257.8 L780.0 258.3" fill="none" stroke="#ff0a2a" stroke-width="4.5" stroke-linecap="round" stroke-linejoin="round"/>
<line x1="595.7" y1="223.6" x2="780.5" y2="223.6" stroke="#111" stroke-width="1.6" stroke-dasharray="3.0 4.3"/>
</g>
<path d="M593.3 144.8 L780.5 144.8 L780.5 332.0 L594.9 332.0 Z" fill="none" stroke="#1a1a1a" stroke-width="1.30"/>
<text transform="translate(561.9 236.5) rotate(-90)" x="0" y="0" font-size="9.8" text-anchor="middle" fill="#111" stroke="#111" stroke-width="0.12" font-family='"Liberation Sans", sans-serif' textLength="66.9" lengthAdjust="spacingAndGlyphs">PelvisAngles_Y</text>
<line x1="834.7" y1="331.1" x2="834.7" y2="334.6" stroke="#222" stroke-width="1"/>
<text x="834.7" y="345.6" font-size="10.00" text-anchor="middle" fill="#111" font-family='"Liberation Sans", sans-serif' font-weight="normal" stroke="#111" stroke-width="0.22">0</text>
<line x1="871.7" y1="331.1" x2="871.7" y2="334.6" stroke="#222" stroke-width="1"/>
<text x="871.7" y="345.6" font-size="10.00" text-anchor="middle" fill="#111" font-family='"Liberation Sans", sans-serif' font-weight="normal" stroke="#111" stroke-width="0.22">20</text>
<line x1="908.7" y1="331.1" x2="908.7" y2="334.6" stroke="#222" stroke-width="1"/>
<text x="908.7" y="345.6" font-size="10.00" text-anchor="middle" fill="#111" font-family='"Liberation Sans", sans-serif' font-weight="normal" stroke="#111" stroke-width="0.22">40</text>
<line x1="945.6" y1="331.1" x2="945.6" y2="334.6" stroke="#222" stroke-width="1"/>
<text x="945.6" y="345.6" font-size="10.00" text-anchor="middle" fill="#111" font-family='"Liberation Sans", sans-serif' font-weight="normal" stroke="#111" stroke-width="0.22">60</text>
<line x1="982.6" y1="331.1" x2="982.6" y2="334.6" stroke="#222" stroke-width="1"/>
<text x="982.6" y="345.6" font-size="10.00" text-anchor="middle" fill="#111" font-family='"Liberation Sans", sans-serif' font-weight="normal" stroke="#111" stroke-width="0.22">80</text>
<line x1="1019.6" y1="331.1" x2="1019.6" y2="334.6" stroke="#222" stroke-width="1"/>
<text x="1019.6" y="345.6" font-size="10.00" text-anchor="middle" fill="#111" font-family='"Liberation Sans", sans-serif' font-weight="normal" stroke="#111" stroke-width="0.22">100</text>
<line x1="830.2" y1="148.7" x2="833.7" y2="148.7" stroke="#222" stroke-width="1"/>
<text x="826.9" y="153.6" font-size="10.00" text-anchor="end" fill="#111" font-family='"Liberation Sans", sans-serif' font-weight="normal" stroke="#111" stroke-width="0.22">5</text>
<line x1="830.2" y1="170.0" x2="833.7" y2="170.0" stroke="#222" stroke-width="1"/>
<text x="826.9" y="174.9" font-size="10.00" text-anchor="end" fill="#111" font-family='"Liberation Sans", sans-serif' font-weight="normal" stroke="#111" stroke-width="0.22">4</text>
<line x1="830.2" y1="191.2" x2="833.7" y2="191.2" stroke="#222" stroke-width="1"/>
<text x="826.9" y="196.2" font-size="10.00" text-anchor="end" fill="#111" font-family='"Liberation Sans", sans-serif' font-weight="normal" stroke="#111" stroke-width="0.22">3</text>
<line x1="830.2" y1="212.5" x2="833.7" y2="212.5" stroke="#222" stroke-width="1"/>
<text x="826.9" y="217.4" font-size="10.00" text-anchor="end" fill="#111" font-family='"Liberation Sans", sans-serif' font-weight="normal" stroke="#111" stroke-width="0.22">2</text>
<line x1="830.2" y1="233.8" x2="833.7" y2="233.8" stroke="#222" stroke-width="1"/>
<text x="826.9" y="238.7" font-size="10.00" text-anchor="end" fill="#111" font-family='"Liberation Sans", sans-serif' font-weight="normal" stroke="#111" stroke-width="0.22">1</text>
<line x1="830.2" y1="255.1" x2="833.7" y2="255.1" stroke="#222" stroke-width="1"/>
<text x="826.9" y="260.0" font-size="10.00" text-anchor="end" fill="#111" font-family='"Liberation Sans", sans-serif' font-weight="normal" stroke="#111" stroke-width="0.22">0</text>
<line x1="830.2" y1="276.3" x2="833.7" y2="276.3" stroke="#222" stroke-width="1"/>
<text x="826.9" y="281.2" font-size="10.00" text-anchor="end" fill="#111" font-family='"Liberation Sans", sans-serif' font-weight="normal" stroke="#111" stroke-width="0.22">−1</text>
<line x1="830.2" y1="297.6" x2="833.7" y2="297.6" stroke="#222" stroke-width="1"/>
<text x="826.9" y="302.5" font-size="10.00" text-anchor="end" fill="#111" font-family='"Liberation Sans", sans-serif' font-weight="normal" stroke="#111" stroke-width="0.22">−2</text>
<line x1="830.2" y1="318.9" x2="833.7" y2="318.9" stroke="#222" stroke-width="1"/>
<text x="826.9" y="323.8" font-size="10.00" text-anchor="end" fill="#111" font-family='"Liberation Sans", sans-serif' font-weight="normal" stroke="#111" stroke-width="0.22">−3</text>
<text x="927.2" y="358.3" font-size="10.00" text-anchor="middle" fill="#111" font-family='"Liberation Sans", sans-serif' font-weight="normal" textLength="41.0" lengthAdjust="spacingAndGlyphs" stroke="#111" stroke-width="0.18">Time (%)</text>
<g clip-path="url(#c16)">
<path d="M834.7 219.5 L836.4 215.9 L838.1 212.5 L839.8 209.2 L841.5 206.2 L843.2 203.4 L844.9 200.8 L846.6 198.1 L848.3 195.5 L850.0 192.8 L851.7 189.9 L853.4 187.0 L855.1 184.0 L856.7 181.0 L858.4 178.2 L860.1 175.6 L861.8 173.0 L863.5 170.6 L865.2 168.2 L866.9 166.1 L868.6 164.2 L870.3 162.7 L872.0 161.2 L873.7 159.8 L875.4 158.6 L877.1 157.7 L878.8 157.1 L880.5 157.1 L882.2 157.4 L883.9 158.0 L885.6 158.9 L887.3 160.0 L889.0 161.3 L890.7 162.9 L892.4 164.8 L894.1 167.0 L895.8 169.3 L897.5 171.5 L899.1 173.5 L900.8 175.4 L902.5 177.4 L904.2 179.3 L905.9 181.2 L907.6 182.9 L909.3 184.5 L911.0 186.1 L912.7 187.6 L914.4 189.0 L916.1 190.3 L917.8 191.3 L919.5 192.0 L921.2 192.8 L922.9 193.5 L924.6 194.1 L926.3 194.6 L928.0 195.0 L929.7 195.3 L931.4 195.5 L933.1 195.6 L934.8 195.8 L936.5 195.9 L938.2 196.1 L939.9 196.2 L941.6 196.4 L943.2 196.5 L944.9 196.6 L946.6 196.8 L948.3 196.9 L950.0 197.1 L951.7 197.2 L953.4 197.4 L955.1 197.5 L956.8 197.7 L958.5 197.8 L960.2 197.8 L961.9 197.8 L963.6 197.7 L965.3 197.6 L967.0 197.5 L968.7 197.4 L970.4 197.2 L972.1 197.0 L973.8 196.8 L975.5 196.7 L977.2 196.6 L978.9 196.5 L980.6 196.5 L982.3 196.5 L984.0 196.5 L985.6 196.6 L987.3 196.6 L989.0 196.8 L990.7 197.6 L992.4 198.7 L994.1 200.3 L995.8 202.0 L997.5 203.8 L999.2 205.6 L1000.9 207.4 L1002.6 209.5 L1004.3 211.8 L1006.0 214.4 L1007.7 217.2 L1009.4 220.1 L1011.1 223.2 L1012.8 226.6 L1014.5 230.5 L1016.2 235.0 L1017.9 239.8 L1019.6 244.8 L1019.6 196.3 L834.7 196.3Z" fill="#dedce9" clip-path="url(#t17)"/>
</g>
<rect x="840.1" y="151.6" width="104.2" height="16.5" fill="#fff" fill-opacity="0.85" stroke="#8a8a8a" stroke-width="1.3"/>
<rect x="931.3" y="169.1" width="83.8" height="18.4" fill="#fff" fill-opacity="1.00" stroke="#8a8a8a" stroke-width="1.3"/>
<rect x="1009.3" y="288.4" width="10.7" height="17.5" fill="#fff" fill-opacity="1.00" stroke="#8a8a8a" stroke-width="1.3"/>
<text x="848.3" y="162.9" font-size="11.60" text-anchor="start" fill="#111" font-family='"Liberation Sans", sans-serif' font-weight="normal" textLength="88.8" lengthAdjust="spacingAndGlyphs" stroke="#111" stroke-width="0.08">p = 0.006</text>
<text x="938.5" y="181.1" font-size="10.90" text-anchor="start" fill="#111" font-family='"Liberation Sans", sans-serif' font-weight="normal" textLength="69.8" lengthAdjust="spacingAndGlyphs" stroke="#111" stroke-width="0.08">p = 0.050</text>
<g clip-path="url(#c16)">
<line x1="835.7" y1="196.3" x2="1020.0" y2="196.3" stroke="#2a2a2a" stroke-width="1.5" stroke-dasharray="7.8 3.8"/>
<line x1="835.7" y1="312.6" x2="1020.0" y2="312.6" stroke="#2a2a2a" stroke-width="1.5" stroke-dasharray="7.8 3.8"/>
<line x1="835.7" y1="255.1" x2="1020.0" y2="255.1" stroke="#111" stroke-width="1.4" stroke-dasharray="2.2 2.8"/>
<path d="M836.4 220.4 L838.1 216.8 L839.8 213.3 L841.5 210.1 L843.1 207.2 L844.8 204.4 L846.5 201.8 L848.2 199.2 L849.9 196.5 L851.6 193.8 L853.3 190.9 L855.0 187.9 L856.7 184.9 L858.4 182.0 L860.1 179.2 L861.7 176.6 L863.4 174.1 L865.0 171.7 L866.7 169.4 L868.3 167.3 L869.9 165.5 L871.5 164.0 L873.1 162.5 L874.7 161.2 L876.2 160.0 L877.6 159.1 L879.0 158.5 L880.4 158.4 L881.9 158.8 L883.3 159.4 L884.8 160.3 L886.3 161.4 L887.8 162.6 L889.4 164.2 L891.0 166.0 L892.6 168.2 L894.3 170.4 L896.0 172.6 L897.7 174.7 L899.5 176.6 L901.2 178.6 L902.9 180.5 L904.6 182.4 L906.4 184.2 L908.1 185.8 L909.8 187.4 L911.6 189.0 L913.4 190.4 L915.2 191.7 L917.0 192.7 L918.8 193.5 L920.6 194.2 L922.4 194.9 L924.1 195.5 L925.9 196.0 L927.7 196.4 L929.5 196.7 L931.2 196.8 L932.9 197.0 L934.6 197.1 L936.3 197.3 L938.0 197.4 L939.7 197.6 L941.4 197.7 L943.1 197.8 L944.8 198.0 L946.5 198.1 L948.2 198.3 L949.9 198.4 L951.6 198.6 L953.3 198.8 L955.0 198.9 L956.7 199.0 L958.5 199.1 L960.2 199.1 L961.9 199.1 L963.7 199.1 L965.4 199.0 L967.1 198.9 L968.8 198.7 L970.5 198.5 L972.2 198.4 L973.9 198.2 L975.6 198.0 L977.2 197.9 L978.9 197.8 L980.6 197.8 L982.3 197.8 L983.9 197.8 L985.5 197.9 L987.1 198.0 L988.6 198.3 L990.0 199.0 L991.5 200.1 L993.0 201.6 L994.6 203.3 L996.2 205.0 L997.9 206.8 L999.5 208.6 L1001.1 210.6 L1002.8 212.9 L1004.4 215.4 L1006.1 218.2 L1007.7 221.0 L1009.4 224.0 L1011.0 227.4 L1012.7 231.3 L1014.4 235.7 L1016.0 240.5 L1017.7 245.4 L1021.4 244.1 L1019.7 239.1 L1018.0 234.3 L1016.3 229.8 L1014.5 225.7 L1012.8 222.3 L1011.1 219.2 L1009.3 216.2 L1007.6 213.4 L1005.8 210.7 L1004.1 208.3 L1002.3 206.2 L1000.6 204.4 L998.8 202.6 L997.1 200.7 L995.3 198.9 L993.4 197.3 L991.5 196.1 L989.5 195.4 L987.6 195.2 L985.8 195.2 L984.0 195.2 L982.3 195.2 L980.5 195.2 L978.8 195.2 L977.1 195.3 L975.4 195.4 L973.7 195.5 L972.0 195.7 L970.3 195.8 L968.6 196.0 L966.9 196.2 L965.2 196.3 L963.5 196.4 L961.9 196.5 L960.2 196.5 L958.6 196.4 L956.9 196.3 L955.2 196.2 L953.5 196.0 L951.8 195.9 L950.2 195.7 L948.5 195.6 L946.8 195.4 L945.1 195.3 L943.4 195.1 L941.7 195.0 L940.0 194.9 L938.3 194.7 L936.6 194.6 L934.9 194.4 L933.2 194.3 L931.5 194.1 L929.9 193.9 L928.3 193.6 L926.7 193.2 L925.1 192.6 L923.4 192.0 L921.8 191.3 L920.2 190.6 L918.6 189.8 L917.0 188.9 L915.4 187.7 L913.8 186.3 L912.2 184.8 L910.6 183.2 L908.9 181.6 L907.2 179.9 L905.6 178.1 L903.9 176.2 L902.2 174.2 L900.6 172.3 L898.9 170.3 L897.2 168.1 L895.5 165.8 L893.7 163.6 L891.9 161.6 L890.1 160.0 L888.3 158.6 L886.4 157.4 L884.5 156.5 L882.5 155.9 L880.5 155.7 L878.6 155.7 L876.6 156.2 L874.6 157.1 L872.7 158.4 L870.9 159.8 L869.1 161.4 L867.3 163.0 L865.5 164.9 L863.8 167.1 L862.0 169.5 L860.3 172.0 L858.6 174.5 L856.8 177.2 L855.1 180.0 L853.4 183.0 L851.7 186.0 L850.0 189.0 L848.3 191.8 L846.7 194.5 L845.0 197.1 L843.3 199.8 L841.6 202.5 L839.8 205.3 L838.1 208.3 L836.4 211.6 L834.7 215.1 L833.0 218.7Z" fill="#000" stroke="#000" stroke-width="0.3" stroke-linejoin="round"/><circle cx="834.7" cy="219.5" r="1.93" fill="#000"/><circle cx="1019.6" cy="244.8" r="1.96" fill="#000"/>
<line x1="834.8" y1="220" x2="834.8" y2="331" stroke="#000" stroke-width="2.6"/>
</g>
<path d="M833.7 144.3 H1020.0 V331.1 H833.7 Z" fill="none" stroke="#1a1a1a" stroke-width="1.30"/>
<text x="896.4" y="217.2" font-size="10.98" fill="#cf1f2b" stroke="#cf1f2b" stroke-width="0.1" font-family='"Liberation Sans", sans-serif' textLength="89.6" lengthAdjust="spacingAndGlyphs" style="white-space:pre"><tspan font-style="italic">α</tspan>=0.05:  <tspan font-style="italic">t</tspan><tspan font-size="7.8" dy="-2.9">*</tspan><tspan dy="2.9"> =2.710</tspan></text>
<text transform="translate(807.0 240.0) rotate(-90)" x="0" y="0" font-size="17" text-anchor="middle" fill="#111" stroke="#111" stroke-width="0.12" font-family='"Liberation Sans", sans-serif' textLength="52.3" lengthAdjust="spacingAndGlyphs">SPM{t}</text>
<line x1="594.7" y1="623.0" x2="594.7" y2="626.5" stroke="#222" stroke-width="1"/>
<text x="594.7" y="637.5" font-size="10.00" text-anchor="middle" fill="#111" font-family='"Liberation Sans", sans-serif' font-weight="normal" stroke="#111" stroke-width="0.22">0</text>
<line x1="631.4" y1="623.0" x2="631.4" y2="626.5" stroke="#222" stroke-width="1"/>
<text x="631.4" y="637.5" font-size="10.00" text-anchor="middle" fill="#111" font-family='"Liberation Sans", sans-serif' font-weight="normal" stroke="#111" stroke-width="0.22">20</text>
<line x1="668.2" y1="623.0" x2="668.2" y2="626.5" stroke="#222" stroke-width="1"/>
<text x="668.2" y="637.5" font-size="10.00" text-anchor="middle" fill="#111" font-family='"Liberation Sans", sans-serif' font-weight="normal" stroke="#111" stroke-width="0.22">40</text>
<line x1="704.9" y1="623.0" x2="704.9" y2="626.5" stroke="#222" stroke-width="1"/>
<text x="704.9" y="637.5" font-size="10.00" text-anchor="middle" fill="#111" font-family='"Liberation Sans", sans-serif' font-weight="normal" stroke="#111" stroke-width="0.22">60</text>
<line x1="741.7" y1="623.0" x2="741.7" y2="626.5" stroke="#222" stroke-width="1"/>
<text x="741.7" y="637.5" font-size="10.00" text-anchor="middle" fill="#111" font-family='"Liberation Sans", sans-serif' font-weight="normal" stroke="#111" stroke-width="0.22">80</text>
<line x1="778.4" y1="623.0" x2="778.4" y2="626.5" stroke="#222" stroke-width="1"/>
<text x="778.4" y="637.5" font-size="10.00" text-anchor="middle" fill="#111" font-family='"Liberation Sans", sans-serif' font-weight="normal" stroke="#111" stroke-width="0.22">100</text>
<line x1="590.0" y1="453.9" x2="593.5" y2="453.9" stroke="#222" stroke-width="1"/>
<text x="586.7" y="458.8" font-size="10.00" text-anchor="end" fill="#111" font-family='"Liberation Sans", sans-serif' font-weight="normal" stroke="#111" stroke-width="0.22">5</text>
<line x1="590.0" y1="486.8" x2="593.5" y2="486.8" stroke="#222" stroke-width="1"/>
<text x="586.7" y="491.7" font-size="10.00" text-anchor="end" fill="#111" font-family='"Liberation Sans", sans-serif' font-weight="normal" stroke="#111" stroke-width="0.22">0</text>
<line x1="590.0" y1="519.6" x2="593.5" y2="519.6" stroke="#222" stroke-width="1"/>
<text x="586.7" y="524.5" font-size="10.00" text-anchor="end" fill="#111" font-family='"Liberation Sans", sans-serif' font-weight="normal" stroke="#111" stroke-width="0.22">−5</text>
<line x1="590.0" y1="552.5" x2="593.5" y2="552.5" stroke="#222" stroke-width="1"/>
<text x="586.7" y="557.4" font-size="10.00" text-anchor="end" fill="#111" font-family='"Liberation Sans", sans-serif' font-weight="normal" stroke="#111" stroke-width="0.22">−10</text>
<line x1="590.0" y1="585.3" x2="593.5" y2="585.3" stroke="#222" stroke-width="1"/>
<text x="586.7" y="590.2" font-size="10.00" text-anchor="end" fill="#111" font-family='"Liberation Sans", sans-serif' font-weight="normal" stroke="#111" stroke-width="0.22">−15</text>
<line x1="590.0" y1="618.2" x2="593.5" y2="618.2" stroke="#222" stroke-width="1"/>
<text x="586.7" y="623.1" font-size="10.00" text-anchor="end" fill="#111" font-family='"Liberation Sans", sans-serif' font-weight="normal" stroke="#111" stroke-width="0.22">−20</text>
<text x="686.5" y="650.2" font-size="10.00" text-anchor="middle" fill="#111" font-family='"Liberation Sans", sans-serif' font-weight="normal" textLength="41.0" lengthAdjust="spacingAndGlyphs" stroke="#111" stroke-width="0.18">Time (%)</text>
<g clip-path="url(#c18)">
<path d="M593.7 486.3 L595.4 484.9 L597.1 483.6 L598.8 482.3 L600.5 481.0 L602.2 479.9 L603.9 478.7 L605.6 477.7 L607.3 476.8 L608.9 476.1 L610.6 475.4 L612.3 474.9 L614.0 474.4 L615.7 473.8 L617.4 473.3 L619.1 472.8 L620.8 472.4 L622.5 471.9 L624.2 471.5 L625.9 471.1 L627.5 470.8 L629.2 470.4 L630.9 470.1 L632.6 469.9 L634.3 469.7 L636.0 469.4 L637.7 469.2 L639.4 469.0 L641.1 468.7 L642.8 468.5 L644.5 468.3 L646.1 468.1 L647.8 468.0 L649.5 467.9 L651.2 467.8 L652.9 467.8 L654.6 467.9 L656.3 467.9 L658.0 468.1 L659.7 468.2 L661.4 468.3 L663.0 468.5 L664.7 468.7 L666.4 468.9 L668.1 469.2 L669.8 469.4 L671.5 469.7 L673.2 469.9 L674.9 470.2 L676.6 470.5 L678.3 470.9 L680.0 471.3 L681.6 471.7 L683.3 472.1 L685.0 472.4 L686.7 472.8 L688.4 473.1 L690.1 473.4 L691.8 473.7 L693.5 473.9 L695.2 474.1 L696.9 474.2 L698.6 474.4 L700.2 474.6 L701.9 474.7 L703.6 474.9 L705.3 475.0 L707.0 475.2 L708.7 475.4 L710.4 475.5 L712.1 475.7 L713.8 475.8 L715.5 476.0 L717.2 476.1 L718.8 476.3 L720.5 476.5 L722.2 476.6 L723.9 476.8 L725.6 476.9 L727.3 477.1 L729.0 477.3 L730.7 477.6 L732.4 477.8 L734.1 478.1 L735.7 478.4 L737.4 478.7 L739.1 479.1 L740.8 479.4 L742.5 479.8 L744.2 480.2 L745.9 480.6 L747.6 480.9 L749.3 481.3 L751.0 481.6 L752.7 481.9 L754.3 482.3 L756.0 482.6 L757.7 482.9 L759.4 483.2 L761.1 483.6 L762.8 483.9 L764.5 484.2 L766.2 484.6 L767.9 485.0 L769.6 485.4 L771.3 485.8 L772.9 486.3 L774.6 486.9 L776.3 487.6 L778.0 488.2 L778.0 547.4 L776.3 547.3 L774.6 547.3 L772.9 547.3 L771.3 547.4 L769.6 547.4 L767.9 547.5 L766.2 547.5 L764.5 547.6 L762.8 547.7 L761.1 547.8 L759.4 548.0 L757.7 548.1 L756.0 548.3 L754.3 548.5 L752.7 548.7 L751.0 548.9 L749.3 549.2 L747.6 549.5 L745.9 549.7 L744.2 550.0 L742.5 550.3 L740.8 550.6 L739.1 550.8 L737.4 551.1 L735.7 551.4 L734.1 551.7 L732.4 552.0 L730.7 552.3 L729.0 552.6 L727.3 552.9 L725.6 553.2 L723.9 553.5 L722.2 553.9 L720.5 554.2 L718.8 554.6 L717.2 555.0 L715.5 555.5 L713.8 556.0 L712.1 556.5 L710.4 557.0 L708.7 557.5 L707.0 557.9 L705.3 558.3 L703.6 558.7 L701.9 558.9 L700.2 559.1 L698.6 559.3 L696.9 559.5 L695.2 559.6 L693.5 559.7 L691.8 559.8 L690.1 560.0 L688.4 560.1 L686.7 560.1 L685.0 560.2 L683.3 560.3 L681.6 560.4 L680.0 560.4 L678.3 560.5 L676.6 560.6 L674.9 560.7 L673.2 560.8 L671.5 560.8 L669.8 560.9 L668.1 560.9 L666.4 561.0 L664.7 561.0 L663.0 560.9 L661.4 560.9 L659.7 560.8 L658.0 560.7 L656.3 560.6 L654.6 560.4 L652.9 560.2 L651.2 560.0 L649.5 559.8 L647.8 559.7 L646.1 559.5 L644.5 559.3 L642.8 559.1 L641.1 558.9 L639.4 558.7 L637.7 558.5 L636.0 558.3 L634.3 558.1 L632.6 558.0 L630.9 558.0 L629.2 558.1 L627.5 558.3 L625.9 558.6 L624.2 558.9 L622.5 559.3 L620.8 559.7 L619.1 560.1 L617.4 560.5 L615.7 561.1 L614.0 562.0 L612.3 563.1 L610.6 564.3 L608.9 565.7 L607.3 567.1 L605.6 568.6 L603.9 570.2 L602.2 572.0 L600.5 574.2 L598.8 576.7 L597.1 579.4 L595.4 582.3 L593.7 585.2Z" fill="#736ef8"/>
<path d="M593.7 475.6 L595.4 473.9 L597.1 472.2 L598.8 470.6 L600.5 469.0 L602.2 467.4 L603.9 465.9 L605.6 464.5 L607.3 463.2 L608.9 461.9 L610.6 460.8 L612.3 459.6 L614.0 458.4 L615.7 457.2 L617.4 456.1 L619.1 455.0 L620.8 453.9 L622.5 452.9 L624.2 452.0 L625.9 451.1 L627.5 450.4 L629.2 449.9 L630.9 449.5 L632.6 449.3 L634.3 449.1 L636.0 449.0 L637.7 448.9 L639.4 449.0 L641.1 449.1 L642.8 449.3 L644.5 449.6 L646.1 450.0 L647.8 450.3 L649.5 450.7 L651.2 451.2 L652.9 451.6 L654.6 452.0 L656.3 452.5 L658.0 453.0 L659.7 453.4 L661.4 453.9 L663.0 454.4 L664.7 454.9 L666.4 455.4 L668.1 455.9 L669.8 456.4 L671.5 457.0 L673.2 457.5 L674.9 458.1 L676.6 458.6 L678.3 459.1 L680.0 459.5 L681.6 460.0 L683.3 460.4 L685.0 460.8 L686.7 461.2 L688.4 461.6 L690.1 462.0 L691.8 462.3 L693.5 462.7 L695.2 463.0 L696.9 463.3 L698.6 463.6 L700.2 463.8 L701.9 464.0 L703.6 464.2 L705.3 464.4 L707.0 464.6 L708.7 464.7 L710.4 464.9 L712.1 465.1 L713.8 465.2 L715.5 465.4 L717.2 465.5 L718.8 465.7 L720.5 465.9 L722.2 466.0 L723.9 466.2 L725.6 466.3 L727.3 466.5 L729.0 466.6 L730.7 466.8 L732.4 466.9 L734.1 467.1 L735.7 467.3 L737.4 467.5 L739.1 467.7 L740.8 467.9 L742.5 468.3 L744.2 468.7 L745.9 469.3 L747.6 469.9 L749.3 470.6 L751.0 471.4 L752.7 472.2 L754.3 473.0 L756.0 473.9 L757.7 474.7 L759.4 475.5 L761.1 476.3 L762.8 477.2 L764.5 478.1 L766.2 479.0 L767.9 480.0 L769.6 481.0 L771.3 482.0 L772.9 483.0 L774.6 484.1 L776.3 485.2 L778.0 486.3 L778.0 574.5 L776.3 573.0 L774.6 571.5 L772.9 570.0 L771.3 568.5 L769.6 567.1 L767.9 565.8 L766.2 564.5 L764.5 563.2 L762.8 562.0 L761.1 560.9 L759.4 559.9 L757.7 558.9 L756.0 557.8 L754.3 556.8 L752.7 555.8 L751.0 554.8 L749.3 553.9 L747.6 553.1 L745.9 552.3 L744.2 551.7 L742.5 551.1 L740.8 550.8 L739.1 550.5 L737.4 550.3 L735.7 550.1 L734.1 549.9 L732.4 549.8 L730.7 549.6 L729.0 549.5 L727.3 549.3 L725.6 549.2 L723.9 549.0 L722.2 548.9 L720.5 548.7 L718.8 548.5 L717.2 548.3 L715.5 548.1 L713.8 547.9 L712.1 547.7 L710.4 547.5 L708.7 547.3 L707.0 547.1 L705.3 546.9 L703.6 546.7 L701.9 546.5 L700.2 546.2 L698.6 546.0 L696.9 545.8 L695.2 545.6 L693.5 545.3 L691.8 545.1 L690.1 544.8 L688.4 544.6 L686.7 544.3 L685.0 544.0 L683.3 543.7 L681.6 543.4 L680.0 543.1 L678.3 542.7 L676.6 542.3 L674.9 541.9 L673.2 541.5 L671.5 541.1 L669.8 540.6 L668.1 540.2 L666.4 539.7 L664.7 539.2 L663.0 538.8 L661.4 538.3 L659.7 537.8 L658.0 537.2 L656.3 536.6 L654.6 536.1 L652.9 535.5 L651.2 535.0 L649.5 534.5 L647.8 534.0 L646.1 533.6 L644.5 533.2 L642.8 532.9 L641.1 532.7 L639.4 532.6 L637.7 532.6 L636.0 532.6 L634.3 532.7 L632.6 533.0 L630.9 533.4 L629.2 534.2 L627.5 535.1 L625.9 536.2 L624.2 537.5 L622.5 538.8 L620.8 540.2 L619.1 541.6 L617.4 543.0 L615.7 544.5 L614.0 546.1 L612.3 547.8 L610.6 549.6 L608.9 551.4 L607.3 553.1 L605.6 554.9 L603.9 556.6 L602.2 558.3 L600.5 560.0 L598.8 561.7 L597.1 563.4 L595.4 565.1 L593.7 566.8Z" fill="#f3667c"/>
<path d="M593.7 475.6 L595.4 473.9 L597.1 472.2 L598.8 470.6 L600.5 469.0 L602.2 467.4 L603.9 465.9 L605.6 464.5 L607.3 463.2 L608.9 461.9 L610.6 460.8 L612.3 459.6 L614.0 458.4 L615.7 457.2 L617.4 456.1 L619.1 455.0 L620.8 453.9 L622.5 452.9 L624.2 452.0 L625.9 451.1 L627.5 450.4 L629.2 449.9 L630.9 449.5 L632.6 449.3 L634.3 449.1 L636.0 449.0 L637.7 448.9 L639.4 449.0 L641.1 449.1 L642.8 449.3 L644.5 449.6 L646.1 450.0 L647.8 450.3 L649.5 450.7 L651.2 451.2 L652.9 451.6 L654.6 452.0 L656.3 452.5 L658.0 453.0 L659.7 453.4 L661.4 453.9 L663.0 454.4 L664.7 454.9 L666.4 455.4 L668.1 455.9 L669.8 456.4 L671.5 457.0 L673.2 457.5 L674.9 458.1 L676.6 458.6 L678.3 459.1 L680.0 459.5 L681.6 460.0 L683.3 460.4 L685.0 460.8 L686.7 461.2 L688.4 461.6 L690.1 462.0 L691.8 462.3 L693.5 462.7 L695.2 463.0 L696.9 463.3 L698.6 463.6 L700.2 463.8 L701.9 464.0 L703.6 464.2 L705.3 464.4 L707.0 464.6 L708.7 464.7 L710.4 464.9 L712.1 465.1 L713.8 465.2 L715.5 465.4 L717.2 465.5 L718.8 465.7 L720.5 465.9 L722.2 466.0 L723.9 466.2 L725.6 466.3 L727.3 466.5 L729.0 466.6 L730.7 466.8 L732.4 466.9 L734.1 467.1 L735.7 467.3 L737.4 467.5 L739.1 467.7 L740.8 467.9 L742.5 468.3 L744.2 468.7 L745.9 469.3 L747.6 469.9 L749.3 470.6 L751.0 471.4 L752.7 472.2 L754.3 473.0 L756.0 473.9 L757.7 474.7 L759.4 475.5 L761.1 476.3 L762.8 477.2 L764.5 478.1 L766.2 479.0 L767.9 480.0 L769.6 481.0 L771.3 482.0 L772.9 483.0 L774.6 484.1 L776.3 485.2 L778.0 486.3 L778.0 574.5 L776.3 573.0 L774.6 571.5 L772.9 570.0 L771.3 568.5 L769.6 567.1 L767.9 565.8 L766.2 564.5 L764.5 563.2 L762.8 562.0 L761.1 560.9 L759.4 559.9 L757.7 558.9 L756.0 557.8 L754.3 556.8 L752.7 555.8 L751.0 554.8 L749.3 553.9 L747.6 553.1 L745.9 552.3 L744.2 551.7 L742.5 551.1 L740.8 550.8 L739.1 550.5 L737.4 550.3 L735.7 550.1 L734.1 549.9 L732.4 549.8 L730.7 549.6 L729.0 549.5 L727.3 549.3 L725.6 549.2 L723.9 549.0 L722.2 548.9 L720.5 548.7 L718.8 548.5 L717.2 548.3 L715.5 548.1 L713.8 547.9 L712.1 547.7 L710.4 547.5 L708.7 547.3 L707.0 547.1 L705.3 546.9 L703.6 546.7 L701.9 546.5 L700.2 546.2 L698.6 546.0 L696.9 545.8 L695.2 545.6 L693.5 545.3 L691.8 545.1 L690.1 544.8 L688.4 544.6 L686.7 544.3 L685.0 544.0 L683.3 543.7 L681.6 543.4 L680.0 543.1 L678.3 542.7 L676.6 542.3 L674.9 541.9 L673.2 541.5 L671.5 541.1 L669.8 540.6 L668.1 540.2 L666.4 539.7 L664.7 539.2 L663.0 538.8 L661.4 538.3 L659.7 537.8 L658.0 537.2 L656.3 536.6 L654.6 536.1 L652.9 535.5 L651.2 535.0 L649.5 534.5 L647.8 534.0 L646.1 533.6 L644.5 533.2 L642.8 532.9 L641.1 532.7 L639.4 532.6 L637.7 532.6 L636.0 532.6 L634.3 532.7 L632.6 533.0 L630.9 533.4 L629.2 534.2 L627.5 535.1 L625.9 536.2 L624.2 537.5 L622.5 538.8 L620.8 540.2 L619.1 541.6 L617.4 543.0 L615.7 544.5 L614.0 546.1 L612.3 547.8 L610.6 549.6 L608.9 551.4 L607.3 553.1 L605.6 554.9 L603.9 556.6 L602.2 558.3 L600.5 560.0 L598.8 561.7 L597.1 563.4 L595.4 565.1 L593.7 566.8Z" fill="#ef3a9e" clip-path="url(#b19)"/>
<path d="M593.7 475.6 L595.4 473.9 L597.1 472.2 L598.8 470.6 L600.5 469.0 L602.2 467.4 L603.9 465.9 L605.6 464.5 L607.3 463.2 L608.9 461.9 L610.6 460.8 L612.3 459.6 L614.0 458.4 L615.7 457.2 L617.4 456.1 L619.1 455.0 L620.8 453.9 L622.5 452.9 L624.2 452.0 L625.9 451.1 L627.5 450.4 L629.2 449.9 L630.9 449.5 L632.6 449.3 L634.3 449.1 L636.0 449.0 L637.7 448.9 L639.4 449.0 L641.1 449.1 L642.8 449.3 L644.5 449.6 L646.1 450.0 L647.8 450.3 L649.5 450.7 L651.2 451.2 L652.9 451.6 L654.6 452.0 L656.3 452.5 L658.0 453.0 L659.7 453.4 L661.4 453.9 L663.0 454.4 L664.7 454.9 L666.4 455.4 L668.1 455.9 L669.8 456.4 L671.5 457.0 L673.2 457.5 L674.9 458.1 L676.6 458.6 L678.3 459.1 L680.0 459.5 L681.6 460.0 L683.3 460.4 L685.0 460.8 L686.7 461.2 L688.4 461.6 L690.1 462.0 L691.8 462.3 L693.5 462.7 L695.2 463.0 L696.9 463.3 L698.6 463.6 L700.2 463.8 L701.9 464.0 L703.6 464.2 L705.3 464.4 L707.0 464.6 L708.7 464.7 L710.4 464.9 L712.1 465.1 L713.8 465.2 L715.5 465.4 L717.2 465.5 L718.8 465.7 L720.5 465.9 L722.2 466.0 L723.9 466.2 L725.6 466.3 L727.3 466.5 L729.0 466.6 L730.7 466.8 L732.4 466.9 L734.1 467.1 L735.7 467.3 L737.4 467.5 L739.1 467.7 L740.8 467.9 L742.5 468.3 L744.2 468.7 L745.9 469.3 L747.6 469.9 L749.3 470.6 L751.0 471.4 L752.7 472.2 L754.3 473.0 L756.0 473.9 L757.7 474.7 L759.4 475.5 L761.1 476.3 L762.8 477.2 L764.5 478.1 L766.2 479.0 L767.9 480.0 L769.6 481.0 L771.3 482.0 L772.9 483.0 L774.6 484.1 L776.3 485.2 L778.0 486.3 L778.0 574.5 L776.3 573.0 L774.6 571.5 L772.9 570.0 L771.3 568.5 L769.6 567.1 L767.9 565.8 L766.2 564.5 L764.5 563.2 L762.8 562.0 L761.1 560.9 L759.4 559.9 L757.7 558.9 L756.0 557.8 L754.3 556.8 L752.7 555.8 L751.0 554.8 L749.3 553.9 L747.6 553.1 L745.9 552.3 L744.2 551.7 L742.5 551.1 L740.8 550.8 L739.1 550.5 L737.4 550.3 L735.7 550.1 L734.1 549.9 L732.4 549.8 L730.7 549.6 L729.0 549.5 L727.3 549.3 L725.6 549.2 L723.9 549.0 L722.2 548.9 L720.5 548.7 L718.8 548.5 L717.2 548.3 L715.5 548.1 L713.8 547.9 L712.1 547.7 L710.4 547.5 L708.7 547.3 L707.0 547.1 L705.3 546.9 L703.6 546.7 L701.9 546.5 L700.2 546.2 L698.6 546.0 L696.9 545.8 L695.2 545.6 L693.5 545.3 L691.8 545.1 L690.1 544.8 L688.4 544.6 L686.7 544.3 L685.0 544.0 L683.3 543.7 L681.6 543.4 L680.0 543.1 L678.3 542.7 L676.6 542.3 L674.9 541.9 L673.2 541.5 L671.5 541.1 L669.8 540.6 L668.1 540.2 L666.4 539.7 L664.7 539.2 L663.0 538.8 L661.4 538.3 L659.7 537.8 L658.0 537.2 L656.3 536.6 L654.6 536.1 L652.9 535.5 L651.2 535.0 L649.5 534.5 L647.8 534.0 L646.1 533.6 L644.5 533.2 L642.8 532.9 L641.1 532.7 L639.4 532.6 L637.7 532.6 L636.0 532.6 L634.3 532.7 L632.6 533.0 L630.9 533.4 L629.2 534.2 L627.5 535.1 L625.9 536.2 L624.2 537.5 L622.5 538.8 L620.8 540.2 L619.1 541.6 L617.4 543.0 L615.7 544.5 L614.0 546.1 L612.3 547.8 L610.6 549.6 L608.9 551.4 L607.3 553.1 L605.6 554.9 L603.9 556.6 L602.2 558.3 L600.5 560.0 L598.8 561.7 L597.1 563.4 L595.4 565.1 L593.7 566.8Z" fill="none" stroke="#f0a8d8" stroke-width="0.9" clip-path="url(#b19)"/>
<path d="M593.7 536.7 L595.4 535.1 L597.1 533.4 L598.8 531.9 L600.5 530.3 L602.2 528.8 L603.9 527.4 L605.6 526.1 L607.3 524.9 L608.9 523.8 L610.6 522.9 L612.3 522.0 L614.0 521.1 L615.7 520.3 L617.4 519.6 L619.1 518.9 L620.8 518.2 L622.5 517.7 L624.2 517.2 L625.9 516.7 L627.5 516.2 L629.2 515.7 L630.9 515.3 L632.6 514.8 L634.3 514.5 L636.0 514.2 L637.7 514.0 L639.4 514.0 L641.1 514.0 L642.8 514.1 L644.5 514.1 L646.1 514.2 L647.8 514.3 L649.5 514.3 L651.2 514.4 L652.9 514.5 L654.6 514.6 L656.3 514.6 L658.0 514.7 L659.7 514.8 L661.4 514.9 L663.0 515.0 L664.7 515.1 L666.4 515.2 L668.1 515.2 L669.8 515.3 L671.5 515.4 L673.2 515.5 L674.9 515.6 L676.6 515.7 L678.3 515.7 L680.0 515.8 L681.6 515.9 L683.3 516.0 L685.0 516.1 L686.7 516.2 L688.4 516.3 L690.1 516.4 L691.8 516.5 L693.5 516.6 L695.2 516.7 L696.9 516.8 L698.6 516.9 L700.2 516.9 L701.9 516.9 L703.6 516.9 L705.3 516.8 L707.0 516.7 L708.7 516.5 L710.4 516.4 L712.1 516.2 L713.8 516.0 L715.5 515.8 L717.2 515.6 L718.8 515.5 L720.5 515.4 L722.2 515.3 L723.9 515.2 L725.6 515.1 L727.3 515.0 L729.0 514.9 L730.7 514.8 L732.4 514.8 L734.1 514.7 L735.7 514.7 L737.4 514.6 L739.1 514.6 L740.8 514.6 L742.5 514.6 L744.2 514.6 L745.9 514.7 L747.6 514.8 L749.3 514.9 L751.0 515.0 L752.7 515.1 L754.3 515.3 L756.0 515.4 L757.7 515.5 L759.4 515.7 L761.1 515.9 L762.8 516.0 L764.5 516.3 L766.2 516.5 L767.9 516.7 L769.6 517.0 L771.3 517.2 L772.9 517.5 L774.6 517.7 L776.3 518.0 L778.0 518.3" fill="none" stroke="#1000e6" stroke-width="3.7" stroke-linecap="round" stroke-linejoin="round"/>
<path d="M593.7 521.2 L595.4 519.2 L597.1 517.2 L598.8 515.3 L600.5 513.4 L602.2 511.6 L603.9 509.8 L605.6 508.2 L607.3 506.6 L608.9 505.1 L610.6 503.6 L612.3 502.1 L614.0 500.6 L615.7 499.2 L617.4 497.8 L619.1 496.6 L620.8 495.5 L622.5 494.6 L624.2 493.9 L625.9 493.2 L627.5 492.6 L629.2 492.0 L630.9 491.6 L632.6 491.3 L634.3 491.1 L636.0 491.1 L637.7 491.3 L639.4 491.4 L641.1 491.6 L642.8 491.9 L644.5 492.2 L646.1 492.5 L647.8 492.8 L649.5 493.2 L651.2 493.5 L652.9 493.9 L654.6 494.3 L656.3 494.8 L658.0 495.2 L659.7 495.7 L661.4 496.1 L663.0 496.6 L664.7 497.0 L666.4 497.4 L668.1 497.9 L669.8 498.3 L671.5 498.7 L673.2 499.1 L674.9 499.4 L676.6 499.8 L678.3 500.2 L680.0 500.6 L681.6 500.9 L683.3 501.3 L685.0 501.6 L686.7 502.0 L688.4 502.2 L690.1 502.5 L691.8 502.8 L693.5 503.0 L695.2 503.2 L696.9 503.3 L698.6 503.5 L700.2 503.7 L701.9 503.8 L703.6 504.0 L705.3 504.1 L707.0 504.3 L708.7 504.4 L710.4 504.6 L712.1 504.8 L713.8 505.0 L715.5 505.2 L717.2 505.4 L718.8 505.6 L720.5 505.8 L722.2 506.0 L723.9 506.3 L725.6 506.5 L727.3 506.7 L729.0 507.0 L730.7 507.2 L732.4 507.5 L734.1 507.9 L735.7 508.3 L737.4 508.7 L739.1 509.2 L740.8 509.7 L742.5 510.2 L744.2 510.8 L745.9 511.4 L747.6 512.1 L749.3 513.0 L751.0 513.9 L752.7 514.9 L754.3 515.9 L756.0 517.0 L757.7 518.1 L759.4 519.1 L761.1 520.2 L762.8 521.2 L764.5 522.2 L766.2 523.3 L767.9 524.3 L769.6 525.4 L771.3 526.5 L772.9 527.6 L774.6 528.7 L776.3 529.8 L778.0 530.9" fill="none" stroke="#ff0a2a" stroke-width="4.5" stroke-linecap="round" stroke-linejoin="round"/>
<line x1="595.7" y1="486.8" x2="778.4" y2="486.8" stroke="#111" stroke-width="1.6" stroke-dasharray="3.0 4.3"/>
</g>
<path d="M592.6 436.2 L778.4 436.2 L778.4 623.0 L594.8 623.0 Z" fill="none" stroke="#1a1a1a" stroke-width="1.30"/>
<line x1="593.7" y1="500.0" x2="594.8" y2="623.0" stroke="#000" stroke-width="2.4"/>
<text transform="translate(561.4 529.0) rotate(-90)" x="0" y="0" font-size="9.8" text-anchor="middle" fill="#111" stroke="#111" stroke-width="0.12" font-family='"Liberation Sans", sans-serif' textLength="56.8" lengthAdjust="spacingAndGlyphs">HipAngles_Y</text>
<line x1="832.4" y1="623.0" x2="832.4" y2="626.5" stroke="#222" stroke-width="1"/>
<text x="832.4" y="637.5" font-size="10.00" text-anchor="middle" fill="#111" font-family='"Liberation Sans", sans-serif' font-weight="normal" stroke="#111" stroke-width="0.22">0</text>
<line x1="869.5" y1="623.0" x2="869.5" y2="626.5" stroke="#222" stroke-width="1"/>
<text x="869.5" y="637.5" font-size="10.00" text-anchor="middle" fill="#111" font-family='"Liberation Sans", sans-serif' font-weight="normal" stroke="#111" stroke-width="0.22">20</text>
<line x1="906.6" y1="623.0" x2="906.6" y2="626.5" stroke="#222" stroke-width="1"/>
<text x="906.6" y="637.5" font-size="10.00" text-anchor="middle" fill="#111" font-family='"Liberation Sans", sans-serif' font-weight="normal" stroke="#111" stroke-width="0.22">40</text>
<line x1="943.8" y1="623.0" x2="943.8" y2="626.5" stroke="#222" stroke-width="1"/>
<text x="943.8" y="637.5" font-size="10.00" text-anchor="middle" fill="#111" font-family='"Liberation Sans", sans-serif' font-weight="normal" stroke="#111" stroke-width="0.22">60</text>
<line x1="980.9" y1="623.0" x2="980.9" y2="626.5" stroke="#222" stroke-width="1"/>
<text x="980.9" y="637.5" font-size="10.00" text-anchor="middle" fill="#111" font-family='"Liberation Sans", sans-serif' font-weight="normal" stroke="#111" stroke-width="0.22">80</text>
<line x1="1018.0" y1="623.0" x2="1018.0" y2="626.5" stroke="#222" stroke-width="1"/>
<text x="1018.0" y="637.5" font-size="10.00" text-anchor="middle" fill="#111" font-family='"Liberation Sans", sans-serif' font-weight="normal" stroke="#111" stroke-width="0.22">100</text>
<line x1="828.3" y1="455.2" x2="831.8" y2="455.2" stroke="#222" stroke-width="1"/>
<text x="825.0" y="460.1" font-size="10.00" text-anchor="end" fill="#111" font-family='"Liberation Sans", sans-serif' font-weight="normal" stroke="#111" stroke-width="0.22">4</text>
<line x1="828.3" y1="490.5" x2="831.8" y2="490.5" stroke="#222" stroke-width="1"/>
<text x="825.0" y="495.4" font-size="10.00" text-anchor="end" fill="#111" font-family='"Liberation Sans", sans-serif' font-weight="normal" stroke="#111" stroke-width="0.22">2</text>
<line x1="828.3" y1="525.8" x2="831.8" y2="525.8" stroke="#222" stroke-width="1"/>
<text x="825.0" y="530.7" font-size="10.00" text-anchor="end" fill="#111" font-family='"Liberation Sans", sans-serif' font-weight="normal" stroke="#111" stroke-width="0.22">0</text>
<line x1="828.3" y1="561.1" x2="831.8" y2="561.1" stroke="#222" stroke-width="1"/>
<text x="825.0" y="566.0" font-size="10.00" text-anchor="end" fill="#111" font-family='"Liberation Sans", sans-serif' font-weight="normal" stroke="#111" stroke-width="0.22">−2</text>
<line x1="828.3" y1="596.4" x2="831.8" y2="596.4" stroke="#222" stroke-width="1"/>
<text x="825.0" y="601.3" font-size="10.00" text-anchor="end" fill="#111" font-family='"Liberation Sans", sans-serif' font-weight="normal" stroke="#111" stroke-width="0.22">−4</text>
<text x="925.2" y="650.2" font-size="10.00" text-anchor="middle" fill="#111" font-family='"Liberation Sans", sans-serif' font-weight="normal" textLength="41.0" lengthAdjust="spacingAndGlyphs" stroke="#111" stroke-width="0.18">Time (%)</text>
<g clip-path="url(#c20)">
<path d="M832.4 482.0 L834.1 481.6 L835.7 481.0 L837.4 480.5 L839.1 479.9 L840.8 479.4 L842.5 478.8 L844.2 478.2 L845.9 477.5 L847.6 476.6 L849.2 475.4 L850.9 473.5 L852.6 471.2 L854.3 468.6 L856.0 466.2 L857.7 464.2 L859.4 462.7 L861.1 461.2 L862.7 459.8 L864.4 458.6 L866.1 457.7 L867.8 457.1 L869.5 456.8 L871.2 456.6 L872.9 456.5 L874.6 456.6 L876.3 456.9 L877.9 457.3 L879.6 458.0 L881.3 458.8 L883.0 459.6 L884.7 460.6 L886.4 461.5 L888.1 462.5 L889.8 463.4 L891.4 464.3 L893.1 465.3 L894.8 466.3 L896.5 467.3 L898.2 468.3 L899.9 469.3 L901.6 470.2 L903.3 471.1 L904.9 471.9 L906.6 472.8 L908.3 473.6 L910.0 474.5 L911.7 475.2 L913.4 476.0 L915.1 476.7 L916.8 477.4 L918.4 478.0 L920.1 478.6 L921.8 479.1 L923.5 479.7 L925.2 480.2 L926.9 480.8 L928.6 481.3 L930.3 481.9 L931.9 482.5 L933.6 483.0 L935.3 483.6 L937.0 484.2 L938.7 484.7 L940.4 485.3 L942.1 485.9 L943.8 486.6 L945.4 487.3 L947.1 488.1 L948.8 489.0 L950.5 489.9 L952.2 491.0 L953.9 492.0 L955.6 493.0 L957.3 494.0 L958.9 495.0 L960.6 495.9 L962.3 496.7 L964.0 497.5 L965.7 498.2 L967.4 498.9 L969.1 499.6 L970.8 500.3 L972.4 501.0 L974.1 501.7 L975.8 502.5 L977.5 503.3 L979.2 504.2 L980.9 505.1 L982.6 506.0 L984.3 507.0 L986.0 508.1 L987.6 509.3 L989.3 510.8 L991.0 512.8 L992.7 515.2 L994.4 518.0 L996.1 520.8 L997.8 524.2 L999.5 527.9 L1001.1 531.7 L1002.8 535.4 L1004.5 538.7 L1006.2 541.9 L1007.9 544.9 L1009.6 548.0 L1011.3 551.3 L1013.0 554.9 L1014.6 558.7 L1016.3 562.7 L1018.0 566.8 L1018.0 477.9 L832.4 477.9Z" fill="#dedce9" clip-path="url(#t21)"/>
</g>
<rect x="829.8" y="443.2" width="104.8" height="16.9" fill="#fff" fill-opacity="0.85" stroke="#8a8a8a" stroke-width="1.3"/>
<rect x="998.6" y="569.7" width="19.4" height="2.3" fill="#fff" fill-opacity="1.00" stroke="#8a8a8a" stroke-width="1.3"/>
<text x="835.7" y="454.8" font-size="10.90" text-anchor="start" fill="#111" font-family='"Liberation Sans", sans-serif' font-weight="normal" textLength="91.1" lengthAdjust="spacingAndGlyphs" stroke="#111" stroke-width="0.08">p = 0.019</text>
<g clip-path="url(#c20)">
<line x1="833.4" y1="477.9" x2="1020.0" y2="477.9" stroke="#2a2a2a" stroke-width="1.5" stroke-dasharray="7.8 3.8"/>
<line x1="833.4" y1="573.2" x2="1020.0" y2="573.2" stroke="#2a2a2a" stroke-width="1.5" stroke-dasharray="7.8 3.8"/>
<line x1="833.4" y1="525.8" x2="1020.0" y2="525.8" stroke="#111" stroke-width="1.4" stroke-dasharray="2.2 2.8"/>
<path d="M832.8 483.4 L834.5 483.0 L836.2 482.5 L837.9 481.9 L839.6 481.4 L841.3 480.8 L843.0 480.3 L844.8 479.6 L846.6 478.9 L848.5 478.0 L850.4 476.7 L852.3 474.8 L854.1 472.3 L855.8 469.8 L857.4 467.4 L859.0 465.5 L860.6 464.0 L862.2 462.5 L863.7 461.2 L865.3 460.0 L866.8 459.1 L868.2 458.6 L869.8 458.2 L871.3 457.9 L872.9 457.8 L874.4 457.9 L875.9 458.3 L877.5 458.8 L879.1 459.4 L880.6 460.2 L882.3 461.1 L883.9 462.0 L885.6 462.9 L887.3 463.9 L888.9 464.8 L890.6 465.8 L892.3 466.7 L894.0 467.7 L895.7 468.7 L897.4 469.7 L899.1 470.7 L900.8 471.6 L902.5 472.5 L904.2 473.4 L905.9 474.2 L907.6 475.1 L909.3 475.9 L911.0 476.7 L912.8 477.4 L914.5 478.1 L916.2 478.8 L917.9 479.4 L919.6 480.0 L921.3 480.6 L923.0 481.1 L924.7 481.7 L926.4 482.2 L928.1 482.8 L929.8 483.3 L931.5 483.9 L933.1 484.5 L934.8 485.0 L936.5 485.6 L938.2 486.2 L939.9 486.8 L941.5 487.4 L943.2 488.0 L944.8 488.7 L946.4 489.5 L948.1 490.4 L949.7 491.4 L951.4 492.4 L953.0 493.4 L954.7 494.4 L956.4 495.5 L958.2 496.4 L959.9 497.3 L961.6 498.1 L963.4 498.9 L965.1 499.7 L966.8 500.4 L968.5 501.1 L970.1 501.8 L971.8 502.5 L973.5 503.2 L975.1 504.0 L976.8 504.8 L978.5 505.6 L980.1 506.5 L981.7 507.4 L983.4 508.4 L984.9 509.5 L986.5 510.6 L988.0 512.0 L989.6 514.0 L991.2 516.3 L992.8 519.0 L994.4 521.8 L996.0 525.0 L997.7 528.7 L999.4 532.5 L1001.1 536.2 L1002.8 539.6 L1004.5 542.7 L1006.2 545.8 L1007.9 548.9 L1009.5 552.2 L1011.2 555.7 L1012.9 559.5 L1014.5 563.4 L1016.2 567.5 L1019.8 566.0 L1018.1 561.9 L1016.4 557.9 L1014.7 554.1 L1013.0 550.5 L1011.3 547.1 L1009.6 544.0 L1007.9 541.0 L1006.2 537.9 L1004.6 534.5 L1002.9 530.9 L1001.2 527.0 L999.5 523.3 L997.8 519.9 L996.0 517.0 L994.2 514.2 L992.4 511.6 L990.6 509.5 L988.8 508.0 L987.0 506.7 L985.2 505.6 L983.4 504.6 L981.7 503.6 L979.9 502.7 L978.2 501.9 L976.5 501.1 L974.8 500.3 L973.1 499.6 L971.4 498.9 L969.7 498.2 L968.0 497.5 L966.3 496.8 L964.7 496.0 L963.0 495.3 L961.4 494.4 L959.7 493.5 L958.1 492.6 L956.4 491.6 L954.7 490.6 L953.0 489.5 L951.3 488.5 L949.6 487.6 L947.8 486.7 L946.1 485.9 L944.4 485.1 L942.6 484.5 L940.9 483.9 L939.2 483.3 L937.5 482.7 L935.8 482.2 L934.1 481.6 L932.4 481.0 L930.7 480.4 L929.0 479.9 L927.4 479.3 L925.7 478.8 L924.0 478.3 L922.3 477.7 L920.6 477.1 L919.0 476.5 L917.3 475.9 L915.7 475.3 L914.0 474.5 L912.3 473.8 L910.7 473.0 L909.0 472.2 L907.3 471.4 L905.7 470.5 L904.0 469.6 L902.3 468.8 L900.7 467.8 L899.0 466.9 L897.3 465.9 L895.6 464.9 L894.0 463.9 L892.3 462.9 L890.6 461.9 L888.9 461.0 L887.2 460.1 L885.5 459.1 L883.7 458.2 L882.0 457.3 L880.2 456.6 L878.4 455.9 L876.6 455.4 L874.7 455.2 L872.9 455.2 L871.1 455.2 L869.2 455.4 L867.4 455.7 L865.5 456.2 L863.6 457.2 L861.8 458.4 L859.9 459.8 L858.1 461.4 L856.3 463.0 L854.6 465.0 L852.8 467.5 L851.2 470.0 L849.6 472.3 L848.1 474.1 L846.6 475.2 L845.1 476.0 L843.6 476.7 L842.0 477.4 L840.3 477.9 L838.6 478.5 L837.0 479.1 L835.3 479.6 L833.6 480.1 L832.0 480.6Z" fill="#000" stroke="#000" stroke-width="0.3" stroke-linejoin="round"/><circle cx="832.4" cy="482.0" r="1.48" fill="#000"/><circle cx="1018.0" cy="566.8" r="1.95" fill="#000"/>
</g>
<path d="M831.8 436.2 H1020.0 V623.0 H831.8 Z" fill="none" stroke="#1a1a1a" stroke-width="1.30"/>
<text x="943.0" y="478.1" font-size="10.08" fill="#cf1f2b" stroke="#cf1f2b" stroke-width="0.1" font-family='"Liberation Sans", sans-serif' textLength="64.3" lengthAdjust="spacingAndGlyphs" style="white-space:pre"><tspan font-style="italic">α</tspan>=0.05:  <tspan font-style="italic">t</tspan><tspan font-size="7.2" dy="-2.7">*</tspan><tspan dy="2.7"> =2.691</tspan></text>
<text transform="translate(806.0 532.6) rotate(-90)" x="0" y="0" font-size="17" text-anchor="middle" fill="#111" stroke="#111" stroke-width="0.12" font-family='"Liberation Sans", sans-serif' textLength="54.8" lengthAdjust="spacingAndGlyphs">SPM{t}</text>
<line x1="595.5" y1="914.8" x2="595.5" y2="918.3" stroke="#222" stroke-width="1"/>
<text x="595.5" y="929.3" font-size="10.00" text-anchor="middle" fill="#111" font-family='"Liberation Sans", sans-serif' font-weight="normal" stroke="#111" stroke-width="0.22">0</text>
<line x1="632.5" y1="914.8" x2="632.5" y2="918.3" stroke="#222" stroke-width="1"/>
<text x="632.5" y="929.3" font-size="10.00" text-anchor="middle" fill="#111" font-family='"Liberation Sans", sans-serif' font-weight="normal" stroke="#111" stroke-width="0.22">20</text>
<line x1="669.5" y1="914.8" x2="669.5" y2="918.3" stroke="#222" stroke-width="1"/>
<text x="669.5" y="929.3" font-size="10.00" text-anchor="middle" fill="#111" font-family='"Liberation Sans", sans-serif' font-weight="normal" stroke="#111" stroke-width="0.22">40</text>
<line x1="706.4" y1="914.8" x2="706.4" y2="918.3" stroke="#222" stroke-width="1"/>
<text x="706.4" y="929.3" font-size="10.00" text-anchor="middle" fill="#111" font-family='"Liberation Sans", sans-serif' font-weight="normal" stroke="#111" stroke-width="0.22">60</text>
<line x1="743.4" y1="914.8" x2="743.4" y2="918.3" stroke="#222" stroke-width="1"/>
<text x="743.4" y="929.3" font-size="10.00" text-anchor="middle" fill="#111" font-family='"Liberation Sans", sans-serif' font-weight="normal" stroke="#111" stroke-width="0.22">80</text>
<line x1="780.4" y1="914.8" x2="780.4" y2="918.3" stroke="#222" stroke-width="1"/>
<text x="780.4" y="929.3" font-size="10.00" text-anchor="middle" fill="#111" font-family='"Liberation Sans", sans-serif' font-weight="normal" stroke="#111" stroke-width="0.22">100</text>
<line x1="590.0" y1="747.3" x2="593.5" y2="747.3" stroke="#222" stroke-width="1"/>
<text x="586.7" y="752.2" font-size="10.00" text-anchor="end" fill="#111" font-family='"Liberation Sans", sans-serif' font-weight="normal" stroke="#111" stroke-width="0.22">30</text>
<line x1="590.0" y1="779.9" x2="593.5" y2="779.9" stroke="#222" stroke-width="1"/>
<text x="586.7" y="784.8" font-size="10.00" text-anchor="end" fill="#111" font-family='"Liberation Sans", sans-serif' font-weight="normal" stroke="#111" stroke-width="0.22">20</text>
<line x1="590.0" y1="812.6" x2="593.5" y2="812.6" stroke="#222" stroke-width="1"/>
<text x="586.7" y="817.5" font-size="10.00" text-anchor="end" fill="#111" font-family='"Liberation Sans", sans-serif' font-weight="normal" stroke="#111" stroke-width="0.22">10</text>
<line x1="590.0" y1="845.2" x2="593.5" y2="845.2" stroke="#222" stroke-width="1"/>
<text x="586.7" y="850.1" font-size="10.00" text-anchor="end" fill="#111" font-family='"Liberation Sans", sans-serif' font-weight="normal" stroke="#111" stroke-width="0.22">0</text>
<line x1="590.0" y1="877.9" x2="593.5" y2="877.9" stroke="#222" stroke-width="1"/>
<text x="586.7" y="882.8" font-size="10.00" text-anchor="end" fill="#111" font-family='"Liberation Sans", sans-serif' font-weight="normal" stroke="#111" stroke-width="0.22">−10</text>
<line x1="590.0" y1="910.5" x2="593.5" y2="910.5" stroke="#222" stroke-width="1"/>
<text x="586.7" y="915.4" font-size="10.00" text-anchor="end" fill="#111" font-family='"Liberation Sans", sans-serif' font-weight="normal" stroke="#111" stroke-width="0.22">−20</text>
<text x="688.0" y="942.0" font-size="10.00" text-anchor="middle" fill="#111" font-family='"Liberation Sans", sans-serif' font-weight="normal" textLength="41.0" lengthAdjust="spacingAndGlyphs" stroke="#111" stroke-width="0.18">Time (%)</text>
<g clip-path="url(#c22)">
<path d="M594.7 826.2 L596.4 825.7 L598.1 825.2 L599.8 824.7 L601.4 824.2 L603.1 823.7 L604.8 823.1 L606.5 822.6 L608.2 821.9 L609.9 821.2 L611.5 820.5 L613.2 819.8 L614.9 819.2 L616.6 818.6 L618.3 818.1 L620.0 817.7 L621.6 817.5 L623.3 817.4 L625.0 817.6 L626.7 818.0 L628.4 818.5 L630.1 819.2 L631.8 819.8 L633.4 820.5 L635.1 821.2 L636.8 821.9 L638.5 822.6 L640.2 823.4 L641.9 824.2 L643.5 825.0 L645.2 825.8 L646.9 826.6 L648.6 827.4 L650.3 828.1 L652.0 828.8 L653.6 829.3 L655.3 829.9 L657.0 830.4 L658.7 831.0 L660.4 831.5 L662.1 832.0 L663.7 832.5 L665.4 832.9 L667.1 833.2 L668.8 833.5 L670.5 833.8 L672.2 833.9 L673.9 834.1 L675.5 834.2 L677.2 834.3 L678.9 834.4 L680.6 834.5 L682.3 834.6 L684.0 834.6 L685.6 834.7 L687.3 834.8 L689.0 834.8 L690.7 834.9 L692.4 834.9 L694.1 835.0 L695.7 835.0 L697.4 835.0 L699.1 835.1 L700.8 835.1 L702.5 835.1 L704.2 835.2 L705.9 835.2 L707.5 835.2 L709.2 835.3 L710.9 835.3 L712.6 835.3 L714.3 835.4 L716.0 835.4 L717.6 835.5 L719.3 835.5 L721.0 835.6 L722.7 835.6 L724.4 835.7 L726.1 835.7 L727.7 835.8 L729.4 835.8 L731.1 835.9 L732.8 836.0 L734.5 836.1 L736.2 836.2 L737.9 836.2 L739.5 836.3 L741.2 836.4 L742.9 836.5 L744.6 836.6 L746.3 836.7 L748.0 836.8 L749.6 836.8 L751.3 836.9 L753.0 836.9 L754.7 837.0 L756.4 837.0 L758.1 837.0 L759.7 837.0 L761.4 837.0 L763.1 837.0 L764.8 836.9 L766.5 836.9 L768.2 836.9 L769.9 836.8 L771.5 836.8 L773.2 836.6 L774.9 836.5 L776.6 836.3 L778.3 836.1 L780.0 835.9 L780.0 883.4 L778.3 882.8 L776.6 882.2 L774.9 881.6 L773.2 881.1 L771.5 880.5 L769.9 880.0 L768.2 879.5 L766.5 879.0 L764.8 878.6 L763.1 878.2 L761.4 877.9 L759.7 877.6 L758.1 877.4 L756.4 877.2 L754.7 877.0 L753.0 876.8 L751.3 876.6 L749.6 876.4 L748.0 876.3 L746.3 876.1 L744.6 876.0 L742.9 875.8 L741.2 875.7 L739.5 875.6 L737.9 875.5 L736.2 875.4 L734.5 875.3 L732.8 875.2 L731.1 875.1 L729.4 875.0 L727.7 874.9 L726.1 874.9 L724.4 874.8 L722.7 874.7 L721.0 874.7 L719.3 874.7 L717.6 874.6 L716.0 874.6 L714.3 874.6 L712.6 874.6 L710.9 874.6 L709.2 874.6 L707.5 874.6 L705.9 874.6 L704.2 874.6 L702.5 874.7 L700.8 874.7 L699.1 874.8 L697.4 874.8 L695.7 874.9 L694.1 875.1 L692.4 875.2 L690.7 875.3 L689.0 875.4 L687.3 875.5 L685.6 875.6 L684.0 875.6 L682.3 875.7 L680.6 875.7 L678.9 875.6 L677.2 875.6 L675.5 875.6 L673.9 875.6 L672.2 875.5 L670.5 875.5 L668.8 875.4 L667.1 875.4 L665.4 875.3 L663.7 875.3 L662.1 875.3 L660.4 875.2 L658.7 875.2 L657.0 875.1 L655.3 875.1 L653.6 875.0 L652.0 875.0 L650.3 874.9 L648.6 874.8 L646.9 874.8 L645.2 874.7 L643.5 874.7 L641.9 874.6 L640.2 874.6 L638.5 874.6 L636.8 874.6 L635.1 874.6 L633.4 874.6 L631.8 874.6 L630.1 874.6 L628.4 874.6 L626.7 874.7 L625.0 874.7 L623.3 875.1 L621.6 875.7 L620.0 876.5 L618.3 877.4 L616.6 878.3 L614.9 879.2 L613.2 880.0 L611.5 880.9 L609.9 881.8 L608.2 882.8 L606.5 883.6 L604.8 884.3 L603.1 884.7 L601.4 884.8 L599.8 884.6 L598.1 884.3 L596.4 883.9 L594.7 883.4Z" fill="#736ef8"/>
<path d="M594.7 828.7 L596.4 827.2 L598.1 825.8 L599.8 824.3 L601.4 823.0 L603.1 821.7 L604.8 820.5 L606.5 819.4 L608.2 818.5 L609.9 817.6 L611.5 816.7 L613.2 815.8 L614.9 814.9 L616.6 814.1 L618.3 813.4 L620.0 812.7 L621.6 812.2 L623.3 811.9 L625.0 811.7 L626.7 811.7 L628.4 811.8 L630.1 812.0 L631.8 812.3 L633.4 812.7 L635.1 813.2 L636.8 813.7 L638.5 814.3 L640.2 814.9 L641.9 815.5 L643.5 816.2 L645.2 817.0 L646.9 817.8 L648.6 818.5 L650.3 819.3 L652.0 820.0 L653.6 820.7 L655.3 821.3 L657.0 822.0 L658.7 822.7 L660.4 823.3 L662.1 824.0 L663.7 824.6 L665.4 825.2 L667.1 825.8 L668.8 826.3 L670.5 826.7 L672.2 827.1 L673.9 827.5 L675.5 827.8 L677.2 828.1 L678.9 828.4 L680.6 828.7 L682.3 829.0 L684.0 829.2 L685.6 829.4 L687.3 829.6 L689.0 829.8 L690.7 830.0 L692.4 830.1 L694.1 830.3 L695.7 830.4 L697.4 830.5 L699.1 830.6 L700.8 830.8 L702.5 830.9 L704.2 831.0 L705.9 831.1 L707.5 831.2 L709.2 831.3 L710.9 831.4 L712.6 831.5 L714.3 831.6 L716.0 831.7 L717.6 831.9 L719.3 832.0 L721.0 832.1 L722.7 832.2 L724.4 832.3 L726.1 832.4 L727.7 832.5 L729.4 832.5 L731.1 832.6 L732.8 832.7 L734.5 832.7 L736.2 832.8 L737.9 832.8 L739.5 832.9 L741.2 832.9 L742.9 832.9 L744.6 833.0 L746.3 833.0 L748.0 833.0 L749.6 833.0 L751.3 833.0 L753.0 832.9 L754.7 832.9 L756.4 832.8 L758.1 832.7 L759.7 832.6 L761.4 832.5 L763.1 832.4 L764.8 832.3 L766.5 832.2 L768.2 832.1 L769.9 832.0 L771.5 831.8 L773.2 831.6 L774.9 831.4 L776.6 831.2 L778.3 830.9 L780.0 830.6 L780.0 877.6 L778.3 877.4 L776.6 877.3 L774.9 877.1 L773.2 877.0 L771.5 876.8 L769.9 876.7 L768.2 876.5 L766.5 876.3 L764.8 876.2 L763.1 876.0 L761.4 875.8 L759.7 875.6 L758.1 875.4 L756.4 875.3 L754.7 875.1 L753.0 874.9 L751.3 874.8 L749.6 874.7 L748.0 874.6 L746.3 874.4 L744.6 874.3 L742.9 874.2 L741.2 874.2 L739.5 874.1 L737.9 874.0 L736.2 873.9 L734.5 873.8 L732.8 873.8 L731.1 873.7 L729.4 873.7 L727.7 873.7 L726.1 873.7 L724.4 873.7 L722.7 873.7 L721.0 873.7 L719.3 873.7 L717.6 873.8 L716.0 873.8 L714.3 873.8 L712.6 873.7 L710.9 873.7 L709.2 873.6 L707.5 873.5 L705.9 873.4 L704.2 873.2 L702.5 873.0 L700.8 872.8 L699.1 872.6 L697.4 872.3 L695.7 872.1 L694.1 871.8 L692.4 871.6 L690.7 871.3 L689.0 871.0 L687.3 870.6 L685.6 870.2 L684.0 869.9 L682.3 869.5 L680.6 869.2 L678.9 869.0 L677.2 868.8 L675.5 868.5 L673.9 868.3 L672.2 868.1 L670.5 867.9 L668.8 867.8 L667.1 867.6 L665.4 867.5 L663.7 867.5 L662.1 867.5 L660.4 867.6 L658.7 867.6 L657.0 867.7 L655.3 867.8 L653.6 867.8 L652.0 867.9 L650.3 868.0 L648.6 868.1 L646.9 868.1 L645.2 868.2 L643.5 868.3 L641.9 868.3 L640.2 868.4 L638.5 868.4 L636.8 868.5 L635.1 868.5 L633.4 868.6 L631.8 868.6 L630.1 868.7 L628.4 868.7 L626.7 868.8 L625.0 868.8 L623.3 868.9 L621.6 868.9 L620.0 869.0 L618.3 869.1 L616.6 869.2 L614.9 869.3 L613.2 869.4 L611.5 869.6 L609.9 869.7 L608.2 869.8 L606.5 870.1 L604.8 870.4 L603.1 870.7 L601.4 871.2 L599.8 871.7 L598.1 872.2 L596.4 872.8 L594.7 873.3Z" fill="#f3667c"/>
<path d="M594.7 828.7 L596.4 827.2 L598.1 825.8 L599.8 824.3 L601.4 823.0 L603.1 821.7 L604.8 820.5 L606.5 819.4 L608.2 818.5 L609.9 817.6 L611.5 816.7 L613.2 815.8 L614.9 814.9 L616.6 814.1 L618.3 813.4 L620.0 812.7 L621.6 812.2 L623.3 811.9 L625.0 811.7 L626.7 811.7 L628.4 811.8 L630.1 812.0 L631.8 812.3 L633.4 812.7 L635.1 813.2 L636.8 813.7 L638.5 814.3 L640.2 814.9 L641.9 815.5 L643.5 816.2 L645.2 817.0 L646.9 817.8 L648.6 818.5 L650.3 819.3 L652.0 820.0 L653.6 820.7 L655.3 821.3 L657.0 822.0 L658.7 822.7 L660.4 823.3 L662.1 824.0 L663.7 824.6 L665.4 825.2 L667.1 825.8 L668.8 826.3 L670.5 826.7 L672.2 827.1 L673.9 827.5 L675.5 827.8 L677.2 828.1 L678.9 828.4 L680.6 828.7 L682.3 829.0 L684.0 829.2 L685.6 829.4 L687.3 829.6 L689.0 829.8 L690.7 830.0 L692.4 830.1 L694.1 830.3 L695.7 830.4 L697.4 830.5 L699.1 830.6 L700.8 830.8 L702.5 830.9 L704.2 831.0 L705.9 831.1 L707.5 831.2 L709.2 831.3 L710.9 831.4 L712.6 831.5 L714.3 831.6 L716.0 831.7 L717.6 831.9 L719.3 832.0 L721.0 832.1 L722.7 832.2 L724.4 832.3 L726.1 832.4 L727.7 832.5 L729.4 832.5 L731.1 832.6 L732.8 832.7 L734.5 832.7 L736.2 832.8 L737.9 832.8 L739.5 832.9 L741.2 832.9 L742.9 832.9 L744.6 833.0 L746.3 833.0 L748.0 833.0 L749.6 833.0 L751.3 833.0 L753.0 832.9 L754.7 832.9 L756.4 832.8 L758.1 832.7 L759.7 832.6 L761.4 832.5 L763.1 832.4 L764.8 832.3 L766.5 832.2 L768.2 832.1 L769.9 832.0 L771.5 831.8 L773.2 831.6 L774.9 831.4 L776.6 831.2 L778.3 830.9 L780.0 830.6 L780.0 877.6 L778.3 877.4 L776.6 877.3 L774.9 877.1 L773.2 877.0 L771.5 876.8 L769.9 876.7 L768.2 876.5 L766.5 876.3 L764.8 876.2 L763.1 876.0 L761.4 875.8 L759.7 875.6 L758.1 875.4 L756.4 875.3 L754.7 875.1 L753.0 874.9 L751.3 874.8 L749.6 874.7 L748.0 874.6 L746.3 874.4 L744.6 874.3 L742.9 874.2 L741.2 874.2 L739.5 874.1 L737.9 874.0 L736.2 873.9 L734.5 873.8 L732.8 873.8 L731.1 873.7 L729.4 873.7 L727.7 873.7 L726.1 873.7 L724.4 873.7 L722.7 873.7 L721.0 873.7 L719.3 873.7 L717.6 873.8 L716.0 873.8 L714.3 873.8 L712.6 873.7 L710.9 873.7 L709.2 873.6 L707.5 873.5 L705.9 873.4 L704.2 873.2 L702.5 873.0 L700.8 872.8 L699.1 872.6 L697.4 872.3 L695.7 872.1 L694.1 871.8 L692.4 871.6 L690.7 871.3 L689.0 871.0 L687.3 870.6 L685.6 870.2 L684.0 869.9 L682.3 869.5 L680.6 869.2 L678.9 869.0 L677.2 868.8 L675.5 868.5 L673.9 868.3 L672.2 868.1 L670.5 867.9 L668.8 867.8 L667.1 867.6 L665.4 867.5 L663.7 867.5 L662.1 867.5 L660.4 867.6 L658.7 867.6 L657.0 867.7 L655.3 867.8 L653.6 867.8 L652.0 867.9 L650.3 868.0 L648.6 868.1 L646.9 868.1 L645.2 868.2 L643.5 868.3 L641.9 868.3 L640.2 868.4 L638.5 868.4 L636.8 868.5 L635.1 868.5 L633.4 868.6 L631.8 868.6 L630.1 868.7 L628.4 868.7 L626.7 868.8 L625.0 868.8 L623.3 868.9 L621.6 868.9 L620.0 869.0 L618.3 869.1 L616.6 869.2 L614.9 869.3 L613.2 869.4 L611.5 869.6 L609.9 869.7 L608.2 869.8 L606.5 870.1 L604.8 870.4 L603.1 870.7 L601.4 871.2 L599.8 871.7 L598.1 872.2 L596.4 872.8 L594.7 873.3Z" fill="#ef3a9e" clip-path="url(#b23)"/>
<path d="M594.7 828.7 L596.4 827.2 L598.1 825.8 L599.8 824.3 L601.4 823.0 L603.1 821.7 L604.8 820.5 L606.5 819.4 L608.2 818.5 L609.9 817.6 L611.5 816.7 L613.2 815.8 L614.9 814.9 L616.6 814.1 L618.3 813.4 L620.0 812.7 L621.6 812.2 L623.3 811.9 L625.0 811.7 L626.7 811.7 L628.4 811.8 L630.1 812.0 L631.8 812.3 L633.4 812.7 L635.1 813.2 L636.8 813.7 L638.5 814.3 L640.2 814.9 L641.9 815.5 L643.5 816.2 L645.2 817.0 L646.9 817.8 L648.6 818.5 L650.3 819.3 L652.0 820.0 L653.6 820.7 L655.3 821.3 L657.0 822.0 L658.7 822.7 L660.4 823.3 L662.1 824.0 L663.7 824.6 L665.4 825.2 L667.1 825.8 L668.8 826.3 L670.5 826.7 L672.2 827.1 L673.9 827.5 L675.5 827.8 L677.2 828.1 L678.9 828.4 L680.6 828.7 L682.3 829.0 L684.0 829.2 L685.6 829.4 L687.3 829.6 L689.0 829.8 L690.7 830.0 L692.4 830.1 L694.1 830.3 L695.7 830.4 L697.4 830.5 L699.1 830.6 L700.8 830.8 L702.5 830.9 L704.2 831.0 L705.9 831.1 L707.5 831.2 L709.2 831.3 L710.9 831.4 L712.6 831.5 L714.3 831.6 L716.0 831.7 L717.6 831.9 L719.3 832.0 L721.0 832.1 L722.7 832.2 L724.4 832.3 L726.1 832.4 L727.7 832.5 L729.4 832.5 L731.1 832.6 L732.8 832.7 L734.5 832.7 L736.2 832.8 L737.9 832.8 L739.5 832.9 L741.2 832.9 L742.9 832.9 L744.6 833.0 L746.3 833.0 L748.0 833.0 L749.6 833.0 L751.3 833.0 L753.0 832.9 L754.7 832.9 L756.4 832.8 L758.1 832.7 L759.7 832.6 L761.4 832.5 L763.1 832.4 L764.8 832.3 L766.5 832.2 L768.2 832.1 L769.9 832.0 L771.5 831.8 L773.2 831.6 L774.9 831.4 L776.6 831.2 L778.3 830.9 L780.0 830.6 L780.0 877.6 L778.3 877.4 L776.6 877.3 L774.9 877.1 L773.2 877.0 L771.5 876.8 L769.9 876.7 L768.2 876.5 L766.5 876.3 L764.8 876.2 L763.1 876.0 L761.4 875.8 L759.7 875.6 L758.1 875.4 L756.4 875.3 L754.7 875.1 L753.0 874.9 L751.3 874.8 L749.6 874.7 L748.0 874.6 L746.3 874.4 L744.6 874.3 L742.9 874.2 L741.2 874.2 L739.5 874.1 L737.9 874.0 L736.2 873.9 L734.5 873.8 L732.8 873.8 L731.1 873.7 L729.4 873.7 L727.7 873.7 L726.1 873.7 L724.4 873.7 L722.7 873.7 L721.0 873.7 L719.3 873.7 L717.6 873.8 L716.0 873.8 L714.3 873.8 L712.6 873.7 L710.9 873.7 L709.2 873.6 L707.5 873.5 L705.9 873.4 L704.2 873.2 L702.5 873.0 L700.8 872.8 L699.1 872.6 L697.4 872.3 L695.7 872.1 L694.1 871.8 L692.4 871.6 L690.7 871.3 L689.0 871.0 L687.3 870.6 L685.6 870.2 L684.0 869.9 L682.3 869.5 L680.6 869.2 L678.9 869.0 L677.2 868.8 L675.5 868.5 L673.9 868.3 L672.2 868.1 L670.5 867.9 L668.8 867.8 L667.1 867.6 L665.4 867.5 L663.7 867.5 L662.1 867.5 L660.4 867.6 L658.7 867.6 L657.0 867.7 L655.3 867.8 L653.6 867.8 L652.0 867.9 L650.3 868.0 L648.6 868.1 L646.9 868.1 L645.2 868.2 L643.5 868.3 L641.9 868.3 L640.2 868.4 L638.5 868.4 L636.8 868.5 L635.1 868.5 L633.4 868.6 L631.8 868.6 L630.1 868.7 L628.4 868.7 L626.7 868.8 L625.0 868.8 L623.3 868.9 L621.6 868.9 L620.0 869.0 L618.3 869.1 L616.6 869.2 L614.9 869.3 L613.2 869.4 L611.5 869.6 L609.9 869.7 L608.2 869.8 L606.5 870.1 L604.8 870.4 L603.1 870.7 L601.4 871.2 L599.8 871.7 L598.1 872.2 L596.4 872.8 L594.7 873.3Z" fill="none" stroke="#f0a8d8" stroke-width="0.9" clip-path="url(#b23)"/>
<path d="M594.7 854.9 L596.4 854.8 L598.1 854.7 L599.8 854.5 L601.4 854.3 L603.1 854.0 L604.8 853.7 L606.5 853.3 L608.2 852.8 L609.9 852.2 L611.5 851.4 L613.2 850.5 L614.9 849.6 L616.6 848.8 L618.3 848.0 L620.0 847.3 L621.6 846.8 L623.3 846.6 L625.0 846.6 L626.7 846.7 L628.4 846.9 L630.1 847.2 L631.8 847.6 L633.4 848.0 L635.1 848.4 L636.8 848.9 L638.5 849.3 L640.2 849.7 L641.9 850.1 L643.5 850.6 L645.2 851.1 L646.9 851.6 L648.6 852.1 L650.3 852.6 L652.0 853.1 L653.6 853.5 L655.3 853.9 L657.0 854.1 L658.7 854.3 L660.4 854.4 L662.1 854.6 L663.7 854.7 L665.4 854.8 L667.1 854.9 L668.8 854.9 L670.5 855.0 L672.2 855.1 L673.9 855.1 L675.5 855.2 L677.2 855.2 L678.9 855.2 L680.6 855.3 L682.3 855.3 L684.0 855.3 L685.6 855.3 L687.3 855.3 L689.0 855.3 L690.7 855.3 L692.4 855.3 L694.1 855.2 L695.7 855.2 L697.4 855.2 L699.1 855.2 L700.8 855.2 L702.5 855.2 L704.2 855.2 L705.9 855.2 L707.5 855.2 L709.2 855.2 L710.9 855.3 L712.6 855.3 L714.3 855.4 L716.0 855.5 L717.6 855.6 L719.3 855.7 L721.0 855.8 L722.7 855.9 L724.4 856.1 L726.1 856.2 L727.7 856.3 L729.4 856.5 L731.1 856.6 L732.8 856.7 L734.5 856.9 L736.2 857.0 L737.9 857.1 L739.5 857.2 L741.2 857.3 L742.9 857.4 L744.6 857.5 L746.3 857.6 L748.0 857.7 L749.6 857.7 L751.3 857.8 L753.0 857.9 L754.7 858.0 L756.4 858.1 L758.1 858.2 L759.7 858.3 L761.4 858.4 L763.1 858.4 L764.8 858.5 L766.5 858.6 L768.2 858.7 L769.9 858.8 L771.5 858.8 L773.2 858.9 L774.9 859.0 L776.6 859.0 L778.3 859.1 L780.0 859.2" fill="none" stroke="#1000e6" stroke-width="3.7" stroke-linecap="round" stroke-linejoin="round"/>
<path d="M594.7 850.0 L596.4 849.1 L598.1 848.1 L599.8 847.2 L601.4 846.4 L603.1 845.5 L604.8 844.8 L606.5 844.2 L608.2 843.7 L609.9 843.2 L611.5 842.8 L613.2 842.3 L614.9 841.9 L616.6 841.5 L618.3 841.2 L620.0 841.0 L621.6 840.8 L623.3 840.7 L625.0 840.8 L626.7 840.8 L628.4 840.9 L630.1 841.0 L631.8 841.2 L633.4 841.4 L635.1 841.5 L636.8 841.7 L638.5 842.0 L640.2 842.2 L641.9 842.5 L643.5 842.7 L645.2 843.0 L646.9 843.3 L648.6 843.7 L650.3 844.0 L652.0 844.4 L653.6 844.8 L655.3 845.1 L657.0 845.5 L658.7 845.8 L660.4 846.2 L662.1 846.5 L663.7 846.8 L665.4 847.0 L667.1 847.3 L668.8 847.6 L670.5 847.9 L672.2 848.1 L673.9 848.4 L675.5 848.6 L677.2 848.9 L678.9 849.1 L680.6 849.3 L682.3 849.5 L684.0 849.7 L685.6 849.9 L687.3 850.1 L689.0 850.3 L690.7 850.5 L692.4 850.6 L694.1 850.8 L695.7 851.0 L697.4 851.1 L699.1 851.3 L700.8 851.4 L702.5 851.5 L704.2 851.6 L705.9 851.7 L707.5 851.7 L709.2 851.8 L710.9 851.9 L712.6 852.0 L714.3 852.1 L716.0 852.1 L717.6 852.2 L719.3 852.3 L721.0 852.4 L722.7 852.5 L724.4 852.6 L726.1 852.6 L727.7 852.7 L729.4 852.8 L731.1 852.9 L732.8 853.0 L734.5 853.1 L736.2 853.1 L737.9 853.2 L739.5 853.3 L741.2 853.4 L742.9 853.5 L744.6 853.6 L746.3 853.7 L748.0 853.8 L749.6 853.9 L751.3 854.0 L753.0 854.0 L754.7 854.1 L756.4 854.2 L758.1 854.3 L759.7 854.3 L761.4 854.4 L763.1 854.4 L764.8 854.4 L766.5 854.4 L768.2 854.3 L769.9 854.3 L771.5 854.3 L773.2 854.2 L774.9 854.1 L776.6 854.1 L778.3 854.0 L780.0 853.9" fill="none" stroke="#ff0a2a" stroke-width="4.5" stroke-linecap="round" stroke-linejoin="round"/>
<line x1="596.5" y1="845.2" x2="780.1" y2="845.2" stroke="#111" stroke-width="1.6" stroke-dasharray="3.0 4.3"/>
</g>
<path d="M593.5 728.2 H780.1 V914.8 H593.5 Z" fill="none" stroke="#1a1a1a" stroke-width="1.30"/>
<text transform="translate(561.9 819.0) rotate(-90)" x="0" y="0" font-size="9.8" text-anchor="middle" fill="#111" stroke="#111" stroke-width="0.12" font-family='"Liberation Sans", sans-serif' textLength="66.8" lengthAdjust="spacingAndGlyphs">KneeAngles_Y</text>
<line x1="834.7" y1="914.0" x2="834.7" y2="917.5" stroke="#222" stroke-width="1"/>
<text x="834.7" y="928.5" font-size="10.00" text-anchor="middle" fill="#111" font-family='"Liberation Sans", sans-serif' font-weight="normal" stroke="#111" stroke-width="0.22">0</text>
<line x1="871.8" y1="914.0" x2="871.8" y2="917.5" stroke="#222" stroke-width="1"/>
<text x="871.8" y="928.5" font-size="10.00" text-anchor="middle" fill="#111" font-family='"Liberation Sans", sans-serif' font-weight="normal" stroke="#111" stroke-width="0.22">20</text>
<line x1="908.8" y1="914.0" x2="908.8" y2="917.5" stroke="#222" stroke-width="1"/>
<text x="908.8" y="928.5" font-size="10.00" text-anchor="middle" fill="#111" font-family='"Liberation Sans", sans-serif' font-weight="normal" stroke="#111" stroke-width="0.22">40</text>
<line x1="945.9" y1="914.0" x2="945.9" y2="917.5" stroke="#222" stroke-width="1"/>
<text x="945.9" y="928.5" font-size="10.00" text-anchor="middle" fill="#111" font-family='"Liberation Sans", sans-serif' font-weight="normal" stroke="#111" stroke-width="0.22">60</text>
<line x1="982.9" y1="914.0" x2="982.9" y2="917.5" stroke="#222" stroke-width="1"/>
<text x="982.9" y="928.5" font-size="10.00" text-anchor="middle" fill="#111" font-family='"Liberation Sans", sans-serif' font-weight="normal" stroke="#111" stroke-width="0.22">80</text>
<line x1="1020.0" y1="914.0" x2="1020.0" y2="917.5" stroke="#222" stroke-width="1"/>
<text x="1020.0" y="928.5" font-size="10.00" text-anchor="middle" fill="#111" font-family='"Liberation Sans", sans-serif' font-weight="normal" stroke="#111" stroke-width="0.22">100</text>
<line x1="830.2" y1="738.4" x2="833.7" y2="738.4" stroke="#222" stroke-width="1"/>
<text x="826.9" y="743.3" font-size="10.00" text-anchor="end" fill="#111" font-family='"Liberation Sans", sans-serif' font-weight="normal" stroke="#111" stroke-width="0.22">4</text>
<line x1="830.2" y1="762.4" x2="833.7" y2="762.4" stroke="#222" stroke-width="1"/>
<text x="826.9" y="767.3" font-size="10.00" text-anchor="end" fill="#111" font-family='"Liberation Sans", sans-serif' font-weight="normal" stroke="#111" stroke-width="0.22">3</text>
<line x1="830.2" y1="786.3" x2="833.7" y2="786.3" stroke="#222" stroke-width="1"/>
<text x="826.9" y="791.2" font-size="10.00" text-anchor="end" fill="#111" font-family='"Liberation Sans", sans-serif' font-weight="normal" stroke="#111" stroke-width="0.22">2</text>
<line x1="830.2" y1="810.3" x2="833.7" y2="810.3" stroke="#222" stroke-width="1"/>
<text x="826.9" y="815.2" font-size="10.00" text-anchor="end" fill="#111" font-family='"Liberation Sans", sans-serif' font-weight="normal" stroke="#111" stroke-width="0.22">1</text>
<line x1="830.2" y1="834.3" x2="833.7" y2="834.3" stroke="#222" stroke-width="1"/>
<text x="826.9" y="839.2" font-size="10.00" text-anchor="end" fill="#111" font-family='"Liberation Sans", sans-serif' font-weight="normal" stroke="#111" stroke-width="0.22">0</text>
<line x1="830.2" y1="858.3" x2="833.7" y2="858.3" stroke="#222" stroke-width="1"/>
<text x="826.9" y="863.2" font-size="10.00" text-anchor="end" fill="#111" font-family='"Liberation Sans", sans-serif' font-weight="normal" stroke="#111" stroke-width="0.22">−1</text>
<line x1="830.2" y1="882.2" x2="833.7" y2="882.2" stroke="#222" stroke-width="1"/>
<text x="826.9" y="887.1" font-size="10.00" text-anchor="end" fill="#111" font-family='"Liberation Sans", sans-serif' font-weight="normal" stroke="#111" stroke-width="0.22">−2</text>
<line x1="830.2" y1="906.2" x2="833.7" y2="906.2" stroke="#222" stroke-width="1"/>
<text x="826.9" y="911.1" font-size="10.00" text-anchor="end" fill="#111" font-family='"Liberation Sans", sans-serif' font-weight="normal" stroke="#111" stroke-width="0.22">−3</text>
<text x="927.4" y="941.2" font-size="10.00" text-anchor="middle" fill="#111" font-family='"Liberation Sans", sans-serif' font-weight="normal" textLength="41.0" lengthAdjust="spacingAndGlyphs" stroke="#111" stroke-width="0.18">Time (%)</text>
<g clip-path="url(#c24)">
</g>
<rect x="849.2" y="734.5" width="100.0" height="16.0" fill="#fff" fill-opacity="1.00" stroke="#8a8a8a" stroke-width="1.3"/>
<text x="857.0" y="744.8" font-size="9.80" text-anchor="start" fill="#111" font-family='"Liberation Sans", sans-serif' font-weight="normal" textLength="84.4" lengthAdjust="spacingAndGlyphs" stroke="#111" stroke-width="0.08">p = 0.045</text>
<g clip-path="url(#c24)">
<line x1="835.7" y1="766.6" x2="1021.3" y2="766.6" stroke="#2a2a2a" stroke-width="1.5" stroke-dasharray="7.8 3.8"/>
<line x1="835.7" y1="902.3" x2="1021.3" y2="902.3" stroke="#2a2a2a" stroke-width="1.5" stroke-dasharray="7.8 3.8"/>
<line x1="835.7" y1="834.3" x2="1021.3" y2="834.3" stroke="#111" stroke-width="1.4" stroke-dasharray="2.2 2.8"/>
<path d="M836.5 811.9 L838.2 807.4 L839.9 803.4 L841.5 799.8 L843.0 796.3 L844.5 793.4 L845.9 791.8 L847.1 790.8 L848.3 790.1 L849.6 790.5 L851.0 791.5 L852.5 792.6 L854.2 793.6 L855.9 794.4 L857.8 795.1 L859.7 795.7 L861.6 796.0 L863.5 796.0 L865.4 795.6 L867.3 794.9 L869.2 794.0 L871.1 792.9 L872.9 791.5 L874.7 789.8 L876.4 788.0 L878.1 786.1 L879.8 784.2 L881.5 782.4 L883.2 780.5 L884.9 778.5 L886.6 776.6 L888.2 774.8 L889.8 773.1 L891.5 771.6 L893.0 770.1 L894.6 768.8 L896.1 767.7 L897.6 766.9 L899.1 766.4 L900.6 766.0 L902.1 765.8 L903.6 766.0 L905.0 766.4 L906.5 767.0 L907.9 767.8 L909.4 769.0 L910.9 770.6 L912.5 772.4 L914.2 774.4 L915.8 776.4 L917.5 778.3 L919.2 780.3 L920.9 782.3 L922.6 784.3 L924.3 786.3 L925.9 788.3 L927.6 790.2 L929.3 792.1 L931.0 794.0 L932.7 795.8 L934.5 797.7 L936.2 799.4 L938.0 801.0 L939.7 802.4 L941.5 803.6 L943.3 804.8 L945.0 805.8 L946.8 806.8 L948.6 807.6 L950.5 808.2 L952.3 808.6 L954.1 808.9 L955.8 809.0 L957.6 809.1 L959.4 809.1 L961.1 809.0 L962.9 808.8 L964.6 808.5 L966.3 808.2 L968.0 807.8 L969.7 807.4 L971.4 807.1 L973.1 806.7 L974.8 806.3 L976.5 805.9 L978.2 805.5 L979.9 805.1 L981.6 804.7 L983.3 804.2 L985.0 803.8 L986.7 803.4 L988.3 802.9 L990.0 802.4 L991.7 802.0 L993.4 801.5 L995.1 801.0 L996.8 800.5 L998.5 800.0 L1000.2 799.4 L1002.0 798.8 L1003.7 798.2 L1005.4 797.6 L1007.1 796.8 L1008.9 796.0 L1010.6 795.2 L1012.3 794.3 L1014.0 793.3 L1015.7 792.4 L1017.4 791.4 L1019.1 790.3 L1020.8 789.3 L1019.1 786.5 L1017.4 787.5 L1015.7 788.5 L1014.1 789.5 L1012.4 790.5 L1010.8 791.4 L1009.1 792.3 L1007.5 793.1 L1005.8 793.9 L1004.2 794.7 L1002.6 795.3 L1000.9 795.9 L999.3 796.5 L997.6 797.1 L995.9 797.6 L994.3 798.1 L992.6 798.6 L990.9 799.1 L989.2 799.6 L987.6 800.0 L985.9 800.5 L984.2 800.9 L982.5 801.4 L980.9 801.8 L979.2 802.2 L977.5 802.7 L975.8 803.1 L974.2 803.5 L972.5 803.9 L970.8 804.2 L969.1 804.6 L967.4 805.0 L965.8 805.4 L964.1 805.7 L962.5 806.0 L960.9 806.3 L959.3 806.5 L957.7 806.5 L956.1 806.3 L954.5 806.1 L952.9 805.8 L951.4 805.4 L949.8 804.7 L948.3 803.9 L946.7 803.0 L945.1 801.9 L943.5 800.8 L941.9 799.7 L940.3 798.4 L938.6 796.8 L937.0 795.2 L935.4 793.4 L933.7 791.5 L932.1 789.7 L930.4 787.8 L928.7 785.9 L927.0 783.9 L925.4 781.9 L923.7 779.9 L922.0 777.9 L920.3 776.0 L918.6 774.0 L916.9 772.0 L915.2 770.0 L913.4 768.0 L911.6 766.3 L909.7 765.0 L907.7 764.1 L905.8 763.6 L903.9 763.3 L902.1 763.2 L900.2 763.3 L898.3 763.5 L896.4 764.0 L894.6 764.8 L892.7 766.0 L890.9 767.4 L889.1 768.9 L887.3 770.5 L885.6 772.3 L883.9 774.1 L882.2 776.1 L880.5 778.1 L878.8 779.9 L877.1 781.7 L875.5 783.6 L873.8 785.5 L872.2 787.2 L870.6 788.8 L869.1 790.1 L867.5 791.1 L866.1 792.0 L864.6 792.8 L863.2 793.3 L861.7 793.3 L860.3 792.9 L858.8 792.3 L857.3 791.5 L855.7 790.7 L854.0 789.7 L852.1 788.6 L850.1 787.7 L848.1 787.4 L845.9 787.9 L843.7 789.1 L841.7 791.1 L839.8 794.3 L838.0 798.1 L836.3 801.8 L834.6 805.9 L832.9 810.5Z" fill="#000" stroke="#000" stroke-width="0.3" stroke-linejoin="round"/><circle cx="834.7" cy="811.2" r="1.95" fill="#000"/><circle cx="1020.0" cy="787.9" r="1.66" fill="#000"/>
<line x1="834.6" y1="812" x2="834.6" y2="914" stroke="#000" stroke-width="1.9"/>
</g>
<path d="M833.7 728.1 H1021.3 V914.0 H833.7 Z" fill="none" stroke="#1a1a1a" stroke-width="1.30"/>
<text x="920.0" y="765.6" font-size="12.21" fill="#cf1f2b" stroke="#cf1f2b" stroke-width="0.1" font-family='"Liberation Sans", sans-serif' textLength="91.2" lengthAdjust="spacingAndGlyphs" style="white-space:pre"><tspan font-style="italic">α</tspan>=0.05:  <tspan font-style="italic">t</tspan><tspan font-size="8.7" dy="-3.3">*</tspan><tspan dy="3.3"> =2.838</tspan></text>
<text transform="translate(807.5 824.0) rotate(-90)" x="0" y="0" font-size="17" text-anchor="middle" fill="#111" stroke="#111" stroke-width="0.12" font-family='"Liberation Sans", sans-serif' textLength="53.1" lengthAdjust="spacingAndGlyphs">SPM{t}</text>
<line x1="596.1" y1="1214.0" x2="596.1" y2="1217.5" stroke="#222" stroke-width="1"/>
<text x="596.1" y="1228.5" font-size="10.00" text-anchor="middle" fill="#111" font-family='"Liberation Sans", sans-serif' font-weight="normal" stroke="#111" stroke-width="0.22">0</text>
<line x1="632.7" y1="1214.0" x2="632.7" y2="1217.5" stroke="#222" stroke-width="1"/>
<text x="632.7" y="1228.5" font-size="10.00" text-anchor="middle" fill="#111" font-family='"Liberation Sans", sans-serif' font-weight="normal" stroke="#111" stroke-width="0.22">20</text>
<line x1="669.3" y1="1214.0" x2="669.3" y2="1217.5" stroke="#222" stroke-width="1"/>
<text x="669.3" y="1228.5" font-size="10.00" text-anchor="middle" fill="#111" font-family='"Liberation Sans", sans-serif' font-weight="normal" stroke="#111" stroke-width="0.22">40</text>
<line x1="705.8" y1="1214.0" x2="705.8" y2="1217.5" stroke="#222" stroke-width="1"/>
<text x="705.8" y="1228.5" font-size="10.00" text-anchor="middle" fill="#111" font-family='"Liberation Sans", sans-serif' font-weight="normal" stroke="#111" stroke-width="0.22">60</text>
<line x1="742.4" y1="1214.0" x2="742.4" y2="1217.5" stroke="#222" stroke-width="1"/>
<text x="742.4" y="1228.5" font-size="10.00" text-anchor="middle" fill="#111" font-family='"Liberation Sans", sans-serif' font-weight="normal" stroke="#111" stroke-width="0.22">80</text>
<line x1="779.0" y1="1214.0" x2="779.0" y2="1217.5" stroke="#222" stroke-width="1"/>
<text x="779.0" y="1228.5" font-size="10.00" text-anchor="middle" fill="#111" font-family='"Liberation Sans", sans-serif' font-weight="normal" stroke="#111" stroke-width="0.22">100</text>
<line x1="589.5" y1="1040.0" x2="593.0" y2="1040.0" stroke="#222" stroke-width="1"/>
<text x="586.2" y="1044.9" font-size="10.00" text-anchor="end" fill="#111" font-family='"Liberation Sans", sans-serif' font-weight="normal" stroke="#111" stroke-width="0.22">10.0</text>
<line x1="589.5" y1="1061.3" x2="593.0" y2="1061.3" stroke="#222" stroke-width="1"/>
<text x="586.2" y="1066.2" font-size="10.00" text-anchor="end" fill="#111" font-family='"Liberation Sans", sans-serif' font-weight="normal" stroke="#111" stroke-width="0.22">7.5</text>
<line x1="589.5" y1="1082.5" x2="593.0" y2="1082.5" stroke="#222" stroke-width="1"/>
<text x="586.2" y="1087.4" font-size="10.00" text-anchor="end" fill="#111" font-family='"Liberation Sans", sans-serif' font-weight="normal" stroke="#111" stroke-width="0.22">5.0</text>
<line x1="589.5" y1="1103.8" x2="593.0" y2="1103.8" stroke="#222" stroke-width="1"/>
<text x="586.2" y="1108.7" font-size="10.00" text-anchor="end" fill="#111" font-family='"Liberation Sans", sans-serif' font-weight="normal" stroke="#111" stroke-width="0.22">2.5</text>
<line x1="589.5" y1="1125.0" x2="593.0" y2="1125.0" stroke="#222" stroke-width="1"/>
<text x="586.2" y="1130.0" font-size="10.00" text-anchor="end" fill="#111" font-family='"Liberation Sans", sans-serif' font-weight="normal" stroke="#111" stroke-width="0.22">0.0</text>
<line x1="589.5" y1="1146.3" x2="593.0" y2="1146.3" stroke="#222" stroke-width="1"/>
<text x="586.2" y="1151.2" font-size="10.00" text-anchor="end" fill="#111" font-family='"Liberation Sans", sans-serif' font-weight="normal" stroke="#111" stroke-width="0.22">−2.5</text>
<line x1="589.5" y1="1167.6" x2="593.0" y2="1167.6" stroke="#222" stroke-width="1"/>
<text x="586.2" y="1172.5" font-size="10.00" text-anchor="end" fill="#111" font-family='"Liberation Sans", sans-serif' font-weight="normal" stroke="#111" stroke-width="0.22">−5.0</text>
<line x1="589.5" y1="1188.8" x2="593.0" y2="1188.8" stroke="#222" stroke-width="1"/>
<text x="586.2" y="1193.7" font-size="10.00" text-anchor="end" fill="#111" font-family='"Liberation Sans", sans-serif' font-weight="normal" stroke="#111" stroke-width="0.22">−7.5</text>
<line x1="589.5" y1="1210.1" x2="593.0" y2="1210.1" stroke="#222" stroke-width="1"/>
<text x="586.2" y="1215.0" font-size="10.00" text-anchor="end" fill="#111" font-family='"Liberation Sans", sans-serif' font-weight="normal" stroke="#111" stroke-width="0.22">−10.0</text>
<text x="687.5" y="1241.2" font-size="10.00" text-anchor="middle" fill="#111" font-family='"Liberation Sans", sans-serif' font-weight="normal" textLength="41.0" lengthAdjust="spacingAndGlyphs" stroke="#111" stroke-width="0.18">Time (%)</text>
<g clip-path="url(#c25)">
<path d="M594.7 1061.7 L596.4 1061.1 L598.1 1060.5 L599.8 1059.9 L601.5 1059.3 L603.2 1058.7 L604.8 1058.1 L606.5 1057.5 L608.2 1056.9 L609.9 1056.3 L611.6 1055.6 L613.3 1054.9 L615.0 1054.2 L616.7 1053.4 L618.4 1052.8 L620.1 1052.2 L621.8 1051.6 L623.4 1051.2 L625.1 1050.8 L626.8 1050.6 L628.5 1050.7 L630.2 1050.9 L631.9 1051.3 L633.6 1051.8 L635.3 1052.4 L637.0 1053.1 L638.7 1053.7 L640.3 1054.3 L642.0 1054.9 L643.7 1055.6 L645.4 1056.3 L647.1 1057.0 L648.8 1057.7 L650.5 1058.4 L652.2 1059.1 L653.9 1059.8 L655.6 1060.5 L657.3 1061.2 L658.9 1061.8 L660.6 1062.4 L662.3 1063.1 L664.0 1063.7 L665.7 1064.3 L667.4 1064.9 L669.1 1065.5 L670.8 1066.1 L672.5 1066.7 L674.2 1067.3 L675.9 1067.8 L677.5 1068.3 L679.2 1068.8 L680.9 1069.3 L682.6 1069.8 L684.3 1070.3 L686.0 1070.7 L687.7 1071.2 L689.4 1071.6 L691.1 1072.0 L692.8 1072.4 L694.5 1072.7 L696.1 1073.1 L697.8 1073.4 L699.5 1073.7 L701.2 1074.0 L702.9 1074.3 L704.6 1074.6 L706.3 1074.9 L708.0 1075.2 L709.7 1075.5 L711.4 1075.7 L713.0 1075.9 L714.7 1076.1 L716.4 1076.2 L718.1 1076.3 L719.8 1076.4 L721.5 1076.5 L723.2 1076.6 L724.9 1076.7 L726.6 1076.8 L728.3 1076.9 L730.0 1076.9 L731.6 1077.0 L733.3 1077.1 L735.0 1077.2 L736.7 1077.2 L738.4 1077.3 L740.1 1077.4 L741.8 1077.5 L743.5 1077.6 L745.2 1077.7 L746.9 1077.8 L748.6 1077.9 L750.2 1078.0 L751.9 1078.1 L753.6 1078.1 L755.3 1078.2 L757.0 1078.2 L758.7 1078.3 L760.4 1078.3 L762.1 1078.3 L763.8 1078.3 L765.5 1078.3 L767.2 1078.3 L768.8 1078.3 L770.5 1078.3 L772.2 1078.3 L773.9 1078.3 L775.6 1078.3 L777.3 1078.2 L779.0 1078.2 L779.0 1167.4 L777.3 1167.4 L775.6 1167.3 L773.9 1167.3 L772.2 1167.2 L770.5 1167.1 L768.8 1167.0 L767.2 1166.9 L765.5 1166.8 L763.8 1166.7 L762.1 1166.6 L760.4 1166.4 L758.7 1166.3 L757.0 1166.1 L755.3 1166.0 L753.6 1165.8 L751.9 1165.7 L750.2 1165.5 L748.6 1165.4 L746.9 1165.2 L745.2 1165.0 L743.5 1164.7 L741.8 1164.5 L740.1 1164.2 L738.4 1163.9 L736.7 1163.6 L735.0 1163.4 L733.3 1163.1 L731.6 1162.8 L730.0 1162.5 L728.3 1162.2 L726.6 1161.9 L724.9 1161.6 L723.2 1161.2 L721.5 1160.9 L719.8 1160.6 L718.1 1160.2 L716.4 1159.9 L714.7 1159.5 L713.0 1159.1 L711.4 1158.8 L709.7 1158.4 L708.0 1158.0 L706.3 1157.6 L704.6 1157.1 L702.9 1156.7 L701.2 1156.3 L699.5 1155.8 L697.8 1155.4 L696.1 1154.9 L694.5 1154.5 L692.8 1154.1 L691.1 1153.7 L689.4 1153.3 L687.7 1152.9 L686.0 1152.5 L684.3 1152.1 L682.6 1151.7 L680.9 1151.3 L679.2 1150.9 L677.5 1150.5 L675.9 1150.2 L674.2 1149.9 L672.5 1149.6 L670.8 1149.4 L669.1 1149.2 L667.4 1149.1 L665.7 1149.0 L664.0 1148.9 L662.3 1148.8 L660.6 1148.7 L658.9 1148.6 L657.3 1148.5 L655.6 1148.4 L653.9 1148.2 L652.2 1147.9 L650.5 1147.6 L648.8 1147.3 L647.1 1147.0 L645.4 1146.7 L643.7 1146.3 L642.0 1145.9 L640.3 1145.6 L638.7 1145.2 L637.0 1144.8 L635.3 1144.5 L633.6 1144.2 L631.9 1143.9 L630.2 1143.6 L628.5 1143.3 L626.8 1143.1 L625.1 1142.8 L623.4 1142.7 L621.8 1142.5 L620.1 1142.3 L618.4 1142.2 L616.7 1142.3 L615.0 1142.7 L613.3 1143.4 L611.6 1144.4 L609.9 1145.5 L608.2 1146.7 L606.5 1147.9 L604.8 1149.3 L603.2 1151.0 L601.5 1153.2 L599.8 1155.5 L598.1 1158.1 L596.4 1160.8 L594.7 1163.5Z" fill="#736ef8"/>
<path d="M594.7 1063.6 L596.4 1061.1 L598.1 1058.6 L599.8 1056.2 L601.5 1054.0 L603.2 1052.0 L604.8 1050.3 L606.5 1049.0 L608.2 1047.8 L609.9 1046.6 L611.6 1045.4 L613.3 1044.3 L615.0 1043.3 L616.7 1042.5 L618.4 1041.9 L620.1 1041.5 L621.8 1041.3 L623.4 1041.4 L625.1 1041.5 L626.8 1041.7 L628.5 1042.0 L630.2 1042.2 L631.9 1042.5 L633.6 1042.9 L635.3 1043.2 L637.0 1043.6 L638.7 1044.0 L640.3 1044.5 L642.0 1044.9 L643.7 1045.4 L645.4 1045.8 L647.1 1046.3 L648.8 1046.8 L650.5 1047.3 L652.2 1047.9 L653.9 1048.5 L655.6 1049.1 L657.3 1049.7 L658.9 1050.4 L660.6 1051.1 L662.3 1051.8 L664.0 1052.5 L665.7 1053.2 L667.4 1053.9 L669.1 1054.6 L670.8 1055.3 L672.5 1056.0 L674.2 1056.6 L675.9 1057.3 L677.5 1057.9 L679.2 1058.6 L680.9 1059.3 L682.6 1059.9 L684.3 1060.6 L686.0 1061.1 L687.7 1061.7 L689.4 1062.1 L691.1 1062.5 L692.8 1062.9 L694.5 1063.2 L696.1 1063.5 L697.8 1063.7 L699.5 1064.0 L701.2 1064.2 L702.9 1064.5 L704.6 1064.7 L706.3 1064.9 L708.0 1065.1 L709.7 1065.4 L711.4 1065.6 L713.0 1065.9 L714.7 1066.1 L716.4 1066.4 L718.1 1066.6 L719.8 1066.8 L721.5 1067.1 L723.2 1067.3 L724.9 1067.6 L726.6 1067.9 L728.3 1068.1 L730.0 1068.4 L731.6 1068.7 L733.3 1069.0 L735.0 1069.3 L736.7 1069.7 L738.4 1070.0 L740.1 1070.3 L741.8 1070.7 L743.5 1071.1 L745.2 1071.4 L746.9 1071.8 L748.6 1072.1 L750.2 1072.4 L751.9 1072.8 L753.6 1073.2 L755.3 1073.5 L757.0 1073.9 L758.7 1074.3 L760.4 1074.6 L762.1 1075.0 L763.8 1075.3 L765.5 1075.6 L767.2 1075.9 L768.8 1076.2 L770.5 1076.4 L772.2 1076.6 L773.9 1076.8 L775.6 1077.0 L777.3 1077.1 L779.0 1077.2 L779.0 1200.8 L777.3 1201.0 L775.6 1201.3 L773.9 1201.4 L772.2 1201.5 L770.5 1201.5 L768.8 1201.3 L767.1 1201.1 L765.4 1200.8 L763.7 1200.4 L762.0 1200.0 L760.3 1199.6 L758.6 1199.2 L756.9 1198.8 L755.2 1198.4 L753.5 1197.9 L751.8 1197.5 L750.1 1197.1 L748.4 1196.6 L746.7 1196.1 L745.0 1195.7 L743.3 1195.2 L741.6 1194.8 L739.9 1194.4 L738.2 1194.0 L736.6 1193.7 L734.9 1193.3 L733.2 1193.0 L731.5 1192.7 L729.8 1192.4 L728.1 1192.1 L726.4 1191.8 L724.7 1191.6 L723.0 1191.3 L721.3 1191.1 L719.6 1190.9 L717.9 1190.8 L716.2 1190.7 L714.5 1190.6 L712.8 1190.5 L711.1 1190.4 L709.4 1190.3 L707.7 1190.2 L706.0 1190.1 L704.3 1190.1 L702.6 1190.0 L700.9 1189.9 L699.2 1189.8 L697.5 1189.7 L695.8 1189.7 L694.1 1189.6 L692.4 1189.5 L690.7 1189.4 L689.0 1189.4 L687.3 1189.3 L685.6 1189.2 L683.9 1189.1 L682.2 1189.0 L680.5 1188.9 L678.8 1188.8 L677.1 1188.7 L675.4 1188.4 L673.7 1188.0 L672.1 1187.5 L670.4 1186.9 L668.7 1186.3 L667.0 1185.6 L665.3 1184.9 L663.6 1184.1 L661.9 1183.3 L660.2 1182.6 L658.5 1181.9 L656.8 1181.1 L655.1 1180.3 L653.4 1179.5 L651.7 1178.6 L650.0 1177.7 L648.3 1176.7 L646.6 1175.8 L644.9 1174.9 L643.2 1174.1 L641.5 1173.3 L639.8 1172.5 L638.1 1171.8 L636.4 1171.1 L634.7 1170.4 L633.0 1169.8 L631.3 1169.3 L629.6 1168.8 L627.9 1168.5 L626.2 1168.4 L624.5 1168.3 L622.8 1168.6 L621.1 1169.1 L619.4 1169.9 L617.7 1171.0 L616.0 1172.3 L614.3 1173.7 L612.6 1175.2 L610.9 1176.8 L609.2 1178.4 L607.6 1179.9 L605.9 1181.4 L604.2 1182.9 L602.5 1184.6 L600.8 1186.2 L599.1 1188.0 L597.4 1189.8 L595.7 1191.7Z" fill="#f3667c"/>
<path d="M594.7 1063.6 L596.4 1061.1 L598.1 1058.6 L599.8 1056.2 L601.5 1054.0 L603.2 1052.0 L604.8 1050.3 L606.5 1049.0 L608.2 1047.8 L609.9 1046.6 L611.6 1045.4 L613.3 1044.3 L615.0 1043.3 L616.7 1042.5 L618.4 1041.9 L620.1 1041.5 L621.8 1041.3 L623.4 1041.4 L625.1 1041.5 L626.8 1041.7 L628.5 1042.0 L630.2 1042.2 L631.9 1042.5 L633.6 1042.9 L635.3 1043.2 L637.0 1043.6 L638.7 1044.0 L640.3 1044.5 L642.0 1044.9 L643.7 1045.4 L645.4 1045.8 L647.1 1046.3 L648.8 1046.8 L650.5 1047.3 L652.2 1047.9 L653.9 1048.5 L655.6 1049.1 L657.3 1049.7 L658.9 1050.4 L660.6 1051.1 L662.3 1051.8 L664.0 1052.5 L665.7 1053.2 L667.4 1053.9 L669.1 1054.6 L670.8 1055.3 L672.5 1056.0 L674.2 1056.6 L675.9 1057.3 L677.5 1057.9 L679.2 1058.6 L680.9 1059.3 L682.6 1059.9 L684.3 1060.6 L686.0 1061.1 L687.7 1061.7 L689.4 1062.1 L691.1 1062.5 L692.8 1062.9 L694.5 1063.2 L696.1 1063.5 L697.8 1063.7 L699.5 1064.0 L701.2 1064.2 L702.9 1064.5 L704.6 1064.7 L706.3 1064.9 L708.0 1065.1 L709.7 1065.4 L711.4 1065.6 L713.0 1065.9 L714.7 1066.1 L716.4 1066.4 L718.1 1066.6 L719.8 1066.8 L721.5 1067.1 L723.2 1067.3 L724.9 1067.6 L726.6 1067.9 L728.3 1068.1 L730.0 1068.4 L731.6 1068.7 L733.3 1069.0 L735.0 1069.3 L736.7 1069.7 L738.4 1070.0 L740.1 1070.3 L741.8 1070.7 L743.5 1071.1 L745.2 1071.4 L746.9 1071.8 L748.6 1072.1 L750.2 1072.4 L751.9 1072.8 L753.6 1073.2 L755.3 1073.5 L757.0 1073.9 L758.7 1074.3 L760.4 1074.6 L762.1 1075.0 L763.8 1075.3 L765.5 1075.6 L767.2 1075.9 L768.8 1076.2 L770.5 1076.4 L772.2 1076.6 L773.9 1076.8 L775.6 1077.0 L777.3 1077.1 L779.0 1077.2 L779.0 1200.8 L777.3 1201.0 L775.6 1201.3 L773.9 1201.4 L772.2 1201.5 L770.5 1201.5 L768.8 1201.3 L767.1 1201.1 L765.4 1200.8 L763.7 1200.4 L762.0 1200.0 L760.3 1199.6 L758.6 1199.2 L756.9 1198.8 L755.2 1198.4 L753.5 1197.9 L751.8 1197.5 L750.1 1197.1 L748.4 1196.6 L746.7 1196.1 L745.0 1195.7 L743.3 1195.2 L741.6 1194.8 L739.9 1194.4 L738.2 1194.0 L736.6 1193.7 L734.9 1193.3 L733.2 1193.0 L731.5 1192.7 L729.8 1192.4 L728.1 1192.1 L726.4 1191.8 L724.7 1191.6 L723.0 1191.3 L721.3 1191.1 L719.6 1190.9 L717.9 1190.8 L716.2 1190.7 L714.5 1190.6 L712.8 1190.5 L711.1 1190.4 L709.4 1190.3 L707.7 1190.2 L706.0 1190.1 L704.3 1190.1 L702.6 1190.0 L700.9 1189.9 L699.2 1189.8 L697.5 1189.7 L695.8 1189.7 L694.1 1189.6 L692.4 1189.5 L690.7 1189.4 L689.0 1189.4 L687.3 1189.3 L685.6 1189.2 L683.9 1189.1 L682.2 1189.0 L680.5 1188.9 L678.8 1188.8 L677.1 1188.7 L675.4 1188.4 L673.7 1188.0 L672.1 1187.5 L670.4 1186.9 L668.7 1186.3 L667.0 1185.6 L665.3 1184.9 L663.6 1184.1 L661.9 1183.3 L660.2 1182.6 L658.5 1181.9 L656.8 1181.1 L655.1 1180.3 L653.4 1179.5 L651.7 1178.6 L650.0 1177.7 L648.3 1176.7 L646.6 1175.8 L644.9 1174.9 L643.2 1174.1 L641.5 1173.3 L639.8 1172.5 L638.1 1171.8 L636.4 1171.1 L634.7 1170.4 L633.0 1169.8 L631.3 1169.3 L629.6 1168.8 L627.9 1168.5 L626.2 1168.4 L624.5 1168.3 L622.8 1168.6 L621.1 1169.1 L619.4 1169.9 L617.7 1171.0 L616.0 1172.3 L614.3 1173.7 L612.6 1175.2 L610.9 1176.8 L609.2 1178.4 L607.6 1179.9 L605.9 1181.4 L604.2 1182.9 L602.5 1184.6 L600.8 1186.2 L599.1 1188.0 L597.4 1189.8 L595.7 1191.7Z" fill="#ef3a9e" clip-path="url(#b26)"/>
<path d="M594.7 1063.6 L596.4 1061.1 L598.1 1058.6 L599.8 1056.2 L601.5 1054.0 L603.2 1052.0 L604.8 1050.3 L606.5 1049.0 L608.2 1047.8 L609.9 1046.6 L611.6 1045.4 L613.3 1044.3 L615.0 1043.3 L616.7 1042.5 L618.4 1041.9 L620.1 1041.5 L621.8 1041.3 L623.4 1041.4 L625.1 1041.5 L626.8 1041.7 L628.5 1042.0 L630.2 1042.2 L631.9 1042.5 L633.6 1042.9 L635.3 1043.2 L637.0 1043.6 L638.7 1044.0 L640.3 1044.5 L642.0 1044.9 L643.7 1045.4 L645.4 1045.8 L647.1 1046.3 L648.8 1046.8 L650.5 1047.3 L652.2 1047.9 L653.9 1048.5 L655.6 1049.1 L657.3 1049.7 L658.9 1050.4 L660.6 1051.1 L662.3 1051.8 L664.0 1052.5 L665.7 1053.2 L667.4 1053.9 L669.1 1054.6 L670.8 1055.3 L672.5 1056.0 L674.2 1056.6 L675.9 1057.3 L677.5 1057.9 L679.2 1058.6 L680.9 1059.3 L682.6 1059.9 L684.3 1060.6 L686.0 1061.1 L687.7 1061.7 L689.4 1062.1 L691.1 1062.5 L692.8 1062.9 L694.5 1063.2 L696.1 1063.5 L697.8 1063.7 L699.5 1064.0 L701.2 1064.2 L702.9 1064.5 L704.6 1064.7 L706.3 1064.9 L708.0 1065.1 L709.7 1065.4 L711.4 1065.6 L713.0 1065.9 L714.7 1066.1 L716.4 1066.4 L718.1 1066.6 L719.8 1066.8 L721.5 1067.1 L723.2 1067.3 L724.9 1067.6 L726.6 1067.9 L728.3 1068.1 L730.0 1068.4 L731.6 1068.7 L733.3 1069.0 L735.0 1069.3 L736.7 1069.7 L738.4 1070.0 L740.1 1070.3 L741.8 1070.7 L743.5 1071.1 L745.2 1071.4 L746.9 1071.8 L748.6 1072.1 L750.2 1072.4 L751.9 1072.8 L753.6 1073.2 L755.3 1073.5 L757.0 1073.9 L758.7 1074.3 L760.4 1074.6 L762.1 1075.0 L763.8 1075.3 L765.5 1075.6 L767.2 1075.9 L768.8 1076.2 L770.5 1076.4 L772.2 1076.6 L773.9 1076.8 L775.6 1077.0 L777.3 1077.1 L779.0 1077.2 L779.0 1200.8 L777.3 1201.0 L775.6 1201.3 L773.9 1201.4 L772.2 1201.5 L770.5 1201.5 L768.8 1201.3 L767.1 1201.1 L765.4 1200.8 L763.7 1200.4 L762.0 1200.0 L760.3 1199.6 L758.6 1199.2 L756.9 1198.8 L755.2 1198.4 L753.5 1197.9 L751.8 1197.5 L750.1 1197.1 L748.4 1196.6 L746.7 1196.1 L745.0 1195.7 L743.3 1195.2 L741.6 1194.8 L739.9 1194.4 L738.2 1194.0 L736.6 1193.7 L734.9 1193.3 L733.2 1193.0 L731.5 1192.7 L729.8 1192.4 L728.1 1192.1 L726.4 1191.8 L724.7 1191.6 L723.0 1191.3 L721.3 1191.1 L719.6 1190.9 L717.9 1190.8 L716.2 1190.7 L714.5 1190.6 L712.8 1190.5 L711.1 1190.4 L709.4 1190.3 L707.7 1190.2 L706.0 1190.1 L704.3 1190.1 L702.6 1190.0 L700.9 1189.9 L699.2 1189.8 L697.5 1189.7 L695.8 1189.7 L694.1 1189.6 L692.4 1189.5 L690.7 1189.4 L689.0 1189.4 L687.3 1189.3 L685.6 1189.2 L683.9 1189.1 L682.2 1189.0 L680.5 1188.9 L678.8 1188.8 L677.1 1188.7 L675.4 1188.4 L673.7 1188.0 L672.1 1187.5 L670.4 1186.9 L668.7 1186.3 L667.0 1185.6 L665.3 1184.9 L663.6 1184.1 L661.9 1183.3 L660.2 1182.6 L658.5 1181.9 L656.8 1181.1 L655.1 1180.3 L653.4 1179.5 L651.7 1178.6 L650.0 1177.7 L648.3 1176.7 L646.6 1175.8 L644.9 1174.9 L643.2 1174.1 L641.5 1173.3 L639.8 1172.5 L638.1 1171.8 L636.4 1171.1 L634.7 1170.4 L633.0 1169.8 L631.3 1169.3 L629.6 1168.8 L627.9 1168.5 L626.2 1168.4 L624.5 1168.3 L622.8 1168.6 L621.1 1169.1 L619.4 1169.9 L617.7 1171.0 L616.0 1172.3 L614.3 1173.7 L612.6 1175.2 L610.9 1176.8 L609.2 1178.4 L607.6 1179.9 L605.9 1181.4 L604.2 1182.9 L602.5 1184.6 L600.8 1186.2 L599.1 1188.0 L597.4 1189.8 L595.7 1191.7Z" fill="none" stroke="#f0a8d8" stroke-width="0.9" clip-path="url(#b26)"/>
<path d="M595.7 1113.1 L597.4 1111.0 L599.1 1109.0 L600.8 1107.0 L602.5 1105.3 L604.2 1103.8 L605.9 1102.7 L607.6 1101.9 L609.2 1101.1 L610.9 1100.3 L612.6 1099.5 L614.3 1098.9 L616.0 1098.3 L617.7 1097.9 L619.4 1097.6 L621.1 1097.6 L622.8 1097.7 L624.5 1097.9 L626.2 1098.1 L627.9 1098.3 L629.6 1098.6 L631.3 1098.9 L633.0 1099.2 L634.7 1099.5 L636.4 1099.9 L638.1 1100.2 L639.8 1100.6 L641.5 1101.0 L643.2 1101.4 L644.9 1101.8 L646.6 1102.2 L648.3 1102.6 L650.0 1103.0 L651.7 1103.5 L653.4 1103.9 L655.1 1104.4 L656.8 1104.8 L658.5 1105.3 L660.2 1105.8 L661.9 1106.3 L663.6 1106.8 L665.3 1107.3 L667.0 1107.8 L668.7 1108.3 L670.4 1108.9 L672.1 1109.4 L673.7 1109.9 L675.4 1110.4 L677.1 1110.9 L678.8 1111.4 L680.5 1111.8 L682.2 1112.3 L683.9 1112.8 L685.6 1113.2 L687.3 1113.7 L689.0 1114.1 L690.7 1114.5 L692.4 1115.0 L694.1 1115.3 L695.8 1115.7 L697.5 1116.0 L699.2 1116.3 L700.9 1116.6 L702.6 1116.9 L704.3 1117.2 L706.0 1117.5 L707.7 1117.7 L709.4 1118.0 L711.1 1118.2 L712.8 1118.4 L714.5 1118.6 L716.2 1118.8 L717.9 1119.0 L719.6 1119.2 L721.3 1119.4 L723.0 1119.6 L724.7 1119.8 L726.4 1120.0 L728.1 1120.2 L729.8 1120.3 L731.5 1120.5 L733.2 1120.6 L734.9 1120.8 L736.6 1120.9 L738.2 1121.0 L739.9 1121.1 L741.6 1121.2 L743.3 1121.3 L745.0 1121.4 L746.7 1121.5 L748.4 1121.6 L750.1 1121.7 L751.8 1121.8 L753.5 1121.8 L755.2 1121.8 L756.9 1121.8 L758.6 1121.8 L760.3 1121.8 L762.0 1121.7 L763.7 1121.7 L765.4 1121.6 L767.1 1121.5 L768.8 1121.3 L770.5 1121.2 L772.2 1121.1 L773.9 1120.9 L775.6 1120.8 L777.3 1120.6 L779.0 1120.5" fill="none" stroke="#1000e6" stroke-width="3.7" stroke-linecap="round" stroke-linejoin="round"/>
<path d="M595.7 1129.6 L597.4 1126.4 L599.1 1123.2 L600.8 1120.2 L602.5 1117.5 L604.2 1115.2 L605.9 1113.5 L607.6 1112.2 L609.2 1110.9 L610.9 1109.7 L612.6 1108.5 L614.3 1107.4 L616.0 1106.5 L617.7 1105.8 L619.4 1105.4 L621.1 1105.3 L622.8 1105.5 L624.5 1105.8 L626.2 1106.1 L627.9 1106.6 L629.6 1107.0 L631.3 1107.5 L633.0 1108.0 L634.7 1108.6 L636.4 1109.2 L638.1 1109.8 L639.8 1110.4 L641.5 1111.0 L643.2 1111.7 L644.9 1112.3 L646.6 1113.0 L648.3 1113.7 L650.0 1114.4 L651.7 1115.1 L653.4 1115.8 L655.1 1116.5 L656.8 1117.2 L658.5 1117.9 L660.2 1118.6 L661.9 1119.3 L663.6 1120.1 L665.3 1120.9 L667.0 1121.7 L668.7 1122.5 L670.4 1123.2 L672.1 1123.9 L673.7 1124.5 L675.4 1125.1 L677.1 1125.5 L678.8 1125.9 L680.5 1126.1 L682.2 1126.3 L683.9 1126.5 L685.6 1126.7 L687.3 1126.8 L689.0 1126.9 L690.7 1127.0 L692.4 1127.1 L694.1 1127.3 L695.8 1127.5 L697.5 1127.7 L699.2 1127.9 L700.9 1128.1 L702.6 1128.4 L704.3 1128.6 L706.0 1128.9 L707.7 1129.1 L709.4 1129.4 L711.1 1129.6 L712.8 1129.9 L714.5 1130.2 L716.2 1130.4 L717.9 1130.7 L719.6 1131.1 L721.3 1131.4 L723.0 1131.7 L724.7 1132.1 L726.4 1132.5 L728.1 1132.8 L729.8 1133.2 L731.5 1133.5 L733.2 1133.9 L734.9 1134.2 L736.6 1134.5 L738.2 1134.8 L739.9 1135.1 L741.6 1135.4 L743.3 1135.7 L745.0 1136.0 L746.7 1136.2 L748.4 1136.5 L750.1 1136.7 L751.8 1136.9 L753.5 1137.1 L755.2 1137.3 L756.9 1137.5 L758.6 1137.6 L760.3 1137.8 L762.0 1137.9 L763.7 1138.0 L765.4 1138.1 L767.1 1138.3 L768.8 1138.4 L770.5 1138.4 L772.2 1138.5 L773.9 1138.6 L775.6 1138.7 L777.3 1138.7 L779.0 1138.7" fill="none" stroke="#ff0a2a" stroke-width="4.5" stroke-linecap="round" stroke-linejoin="round"/>
<line x1="597.1" y1="1125.0" x2="779.0" y2="1125.0" stroke="#111" stroke-width="1.6" stroke-dasharray="3.0 4.3"/>
</g>
<path d="M592.8 1028.1 L779.0 1028.1 L779.0 1214.0 L596.0 1214.0 Z" fill="none" stroke="#1a1a1a" stroke-width="1.30"/>
<text transform="translate(554.4 1121.0) rotate(-90)" x="0" y="0" font-size="9.8" text-anchor="middle" fill="#111" stroke="#111" stroke-width="0.12" font-family='"Liberation Sans", sans-serif' textLength="65.5" lengthAdjust="spacingAndGlyphs">AnkleAngles_Y</text>
<line x1="832.8" y1="1213.0" x2="832.8" y2="1216.5" stroke="#222" stroke-width="1"/>
<text x="832.8" y="1227.5" font-size="10.00" text-anchor="middle" fill="#111" font-family='"Liberation Sans", sans-serif' font-weight="normal" stroke="#111" stroke-width="0.22">0</text>
<line x1="870.2" y1="1213.0" x2="870.2" y2="1216.5" stroke="#222" stroke-width="1"/>
<text x="870.2" y="1227.5" font-size="10.00" text-anchor="middle" fill="#111" font-family='"Liberation Sans", sans-serif' font-weight="normal" stroke="#111" stroke-width="0.22">20</text>
<line x1="907.7" y1="1213.0" x2="907.7" y2="1216.5" stroke="#222" stroke-width="1"/>
<text x="907.7" y="1227.5" font-size="10.00" text-anchor="middle" fill="#111" font-family='"Liberation Sans", sans-serif' font-weight="normal" stroke="#111" stroke-width="0.22">40</text>
<line x1="945.1" y1="1213.0" x2="945.1" y2="1216.5" stroke="#222" stroke-width="1"/>
<text x="945.1" y="1227.5" font-size="10.00" text-anchor="middle" fill="#111" font-family='"Liberation Sans", sans-serif' font-weight="normal" stroke="#111" stroke-width="0.22">60</text>
<line x1="982.6" y1="1213.0" x2="982.6" y2="1216.5" stroke="#222" stroke-width="1"/>
<text x="982.6" y="1227.5" font-size="10.00" text-anchor="middle" fill="#111" font-family='"Liberation Sans", sans-serif' font-weight="normal" stroke="#111" stroke-width="0.22">80</text>
<line x1="1020.0" y1="1213.0" x2="1020.0" y2="1216.5" stroke="#222" stroke-width="1"/>
<text x="1020.0" y="1227.5" font-size="10.00" text-anchor="middle" fill="#111" font-family='"Liberation Sans", sans-serif' font-weight="normal" stroke="#111" stroke-width="0.22">100</text>
<line x1="829.3" y1="1037.8" x2="832.8" y2="1037.8" stroke="#222" stroke-width="1"/>
<text x="826.0" y="1042.7" font-size="10.00" text-anchor="end" fill="#111" font-family='"Liberation Sans", sans-serif' font-weight="normal" stroke="#111" stroke-width="0.22">3</text>
<line x1="829.3" y1="1065.8" x2="832.8" y2="1065.8" stroke="#222" stroke-width="1"/>
<text x="826.0" y="1070.7" font-size="10.00" text-anchor="end" fill="#111" font-family='"Liberation Sans", sans-serif' font-weight="normal" stroke="#111" stroke-width="0.22">2</text>
<line x1="829.3" y1="1093.7" x2="832.8" y2="1093.7" stroke="#222" stroke-width="1"/>
<text x="826.0" y="1098.6" font-size="10.00" text-anchor="end" fill="#111" font-family='"Liberation Sans", sans-serif' font-weight="normal" stroke="#111" stroke-width="0.22">1</text>
<line x1="829.3" y1="1121.7" x2="832.8" y2="1121.7" stroke="#222" stroke-width="1"/>
<text x="826.0" y="1126.6" font-size="10.00" text-anchor="end" fill="#111" font-family='"Liberation Sans", sans-serif' font-weight="normal" stroke="#111" stroke-width="0.22">0</text>
<line x1="829.3" y1="1149.7" x2="832.8" y2="1149.7" stroke="#222" stroke-width="1"/>
<text x="826.0" y="1154.6" font-size="10.00" text-anchor="end" fill="#111" font-family='"Liberation Sans", sans-serif' font-weight="normal" stroke="#111" stroke-width="0.22">−1</text>
<line x1="829.3" y1="1177.6" x2="832.8" y2="1177.6" stroke="#222" stroke-width="1"/>
<text x="826.0" y="1182.5" font-size="10.00" text-anchor="end" fill="#111" font-family='"Liberation Sans", sans-serif' font-weight="normal" stroke="#111" stroke-width="0.22">−2</text>
<line x1="829.3" y1="1205.6" x2="832.8" y2="1205.6" stroke="#222" stroke-width="1"/>
<text x="826.0" y="1210.5" font-size="10.00" text-anchor="end" fill="#111" font-family='"Liberation Sans", sans-serif' font-weight="normal" stroke="#111" stroke-width="0.22">−3</text>
<text x="926.4" y="1240.2" font-size="10.00" text-anchor="middle" fill="#111" font-family='"Liberation Sans", sans-serif' font-weight="normal" textLength="41.0" lengthAdjust="spacingAndGlyphs" stroke="#111" stroke-width="0.18">Time (%)</text>
<g clip-path="url(#c27)">
</g>
<g clip-path="url(#c27)">
<line x1="833.8" y1="1045.8" x2="1020.0" y2="1045.8" stroke="#2a2a2a" stroke-width="1.5" stroke-dasharray="7.8 3.8"/>
<line x1="833.8" y1="1197.1" x2="1020.0" y2="1197.1" stroke="#2a2a2a" stroke-width="1.5" stroke-dasharray="7.8 3.8"/>
<line x1="833.8" y1="1121.7" x2="1020.0" y2="1121.7" stroke="#111" stroke-width="1.4" stroke-dasharray="2.2 2.8"/>
<path d="M832.7 1173.1 L834.5 1173.2 L836.3 1173.2 L838.2 1172.9 L840.1 1172.2 L842.0 1171.2 L843.9 1169.7 L845.7 1167.9 L847.4 1166.0 L849.1 1164.0 L850.7 1162.3 L852.4 1160.7 L854.1 1159.1 L855.8 1157.4 L857.4 1155.7 L859.0 1154.2 L860.6 1152.9 L862.1 1151.9 L863.6 1151.1 L865.1 1150.8 L866.5 1150.6 L868.1 1150.7 L869.6 1151.0 L871.2 1151.4 L872.9 1151.8 L874.5 1152.3 L876.1 1152.8 L877.8 1153.4 L879.5 1154.1 L881.1 1154.7 L882.8 1155.4 L884.4 1156.2 L886.1 1156.9 L887.7 1157.8 L889.3 1158.8 L891.0 1159.8 L892.6 1161.0 L894.3 1162.1 L896.0 1163.3 L897.7 1164.5 L899.5 1165.5 L901.2 1166.5 L902.9 1167.3 L904.7 1168.1 L906.4 1168.9 L908.1 1169.6 L909.9 1170.3 L911.6 1170.9 L913.4 1171.3 L915.2 1171.6 L916.9 1171.8 L918.7 1171.9 L920.4 1171.9 L922.2 1171.9 L923.9 1171.9 L925.6 1171.7 L927.4 1171.6 L929.1 1171.4 L930.8 1171.1 L932.5 1170.8 L934.2 1170.5 L935.9 1170.2 L937.6 1169.8 L939.3 1169.4 L941.1 1169.0 L942.8 1168.5 L944.5 1167.9 L946.3 1167.3 L948.0 1166.6 L949.6 1165.9 L951.3 1165.2 L952.9 1164.7 L954.6 1164.2 L956.2 1163.8 L957.8 1163.5 L959.5 1163.1 L961.1 1162.9 L962.7 1162.7 L964.3 1162.6 L965.9 1162.6 L967.5 1162.8 L969.1 1163.0 L970.7 1163.4 L972.4 1163.8 L974.0 1164.3 L975.6 1164.9 L977.3 1165.4 L978.9 1166.2 L980.5 1167.0 L982.2 1167.8 L983.8 1168.8 L985.5 1169.7 L987.2 1170.7 L988.9 1171.6 L990.7 1172.4 L992.4 1173.1 L994.2 1173.8 L995.9 1174.3 L997.6 1174.9 L999.3 1175.4 L1000.9 1175.9 L1002.5 1176.5 L1004.2 1177.2 L1005.8 1178.0 L1007.4 1178.9 L1009.0 1180.0 L1010.6 1181.1 L1012.3 1182.4 L1013.9 1183.7 L1015.6 1185.1 L1017.3 1186.5 L1018.9 1188.0 L1021.0 1185.7 L1019.3 1184.2 L1017.6 1182.7 L1015.9 1181.3 L1014.1 1180.0 L1012.4 1178.7 L1010.7 1177.5 L1008.9 1176.3 L1007.2 1175.4 L1005.4 1174.5 L1003.6 1173.8 L1001.9 1173.2 L1000.2 1172.7 L998.5 1172.1 L996.8 1171.6 L995.2 1171.1 L993.5 1170.4 L991.9 1169.7 L990.3 1168.9 L988.6 1168.0 L986.9 1167.1 L985.3 1166.1 L983.5 1165.2 L981.8 1164.3 L980.1 1163.5 L978.3 1162.7 L976.6 1162.1 L974.8 1161.6 L973.1 1161.1 L971.4 1160.6 L969.6 1160.3 L967.8 1160.0 L966.1 1159.9 L964.3 1159.9 L962.5 1160.0 L960.8 1160.1 L959.0 1160.4 L957.3 1160.7 L955.6 1161.1 L953.8 1161.5 L952.1 1161.9 L950.3 1162.5 L948.6 1163.1 L946.9 1163.8 L945.2 1164.5 L943.6 1165.2 L941.9 1165.8 L940.3 1166.2 L938.7 1166.6 L937.0 1167.0 L935.3 1167.4 L933.7 1167.7 L932.0 1168.1 L930.4 1168.3 L928.7 1168.6 L927.0 1168.8 L925.4 1169.0 L923.8 1169.1 L922.1 1169.2 L920.5 1169.2 L918.8 1169.2 L917.2 1169.0 L915.6 1168.9 L914.0 1168.5 L912.4 1168.1 L910.8 1167.5 L909.2 1166.9 L907.5 1166.2 L905.9 1165.4 L904.2 1164.6 L902.6 1163.8 L901.0 1162.9 L899.3 1161.9 L897.7 1160.8 L896.0 1159.6 L894.3 1158.4 L892.6 1157.3 L890.9 1156.2 L889.1 1155.2 L887.4 1154.3 L885.7 1153.5 L883.9 1152.7 L882.2 1152.0 L880.5 1151.3 L878.8 1150.7 L877.1 1150.1 L875.3 1149.5 L873.6 1149.0 L871.9 1148.6 L870.1 1148.2 L868.3 1148.0 L866.4 1147.9 L864.6 1148.0 L862.7 1148.4 L860.8 1149.2 L858.9 1150.4 L857.1 1151.8 L855.3 1153.4 L853.6 1155.1 L851.9 1156.8 L850.2 1158.5 L848.5 1160.1 L846.8 1161.9 L845.1 1163.8 L843.5 1165.7 L841.9 1167.3 L840.4 1168.6 L838.9 1169.5 L837.4 1170.1 L835.9 1170.4 L834.4 1170.5 L832.8 1170.3Z" fill="#000" stroke="#000" stroke-width="0.3" stroke-linejoin="round"/><circle cx="832.8" cy="1171.7" r="1.37" fill="#000"/><circle cx="1020.0" cy="1186.8" r="1.55" fill="#000"/>
<line x1="833.3" y1="1028" x2="833.6" y2="1172" stroke="#000" stroke-width="1.6"/>
</g>
<path d="M832.8 1028.1 H1020.0 V1213.0 H832.8 Z" fill="none" stroke="#1a1a1a" stroke-width="1.30"/>
<text x="950.1" y="1044.2" font-size="9.07" fill="#cf1f2b" stroke="#cf1f2b" stroke-width="0.1" font-family='"Liberation Sans", sans-serif' textLength="66.9" lengthAdjust="spacingAndGlyphs" style="white-space:pre"><tspan font-style="italic">α</tspan>=0.05:  <tspan font-style="italic">t</tspan><tspan font-size="6.5" dy="-2.4">*</tspan><tspan dy="2.4"> =2.689</tspan></text>
<text transform="translate(807.0 1123.0) rotate(-90)" x="0" y="0" font-size="17" text-anchor="middle" fill="#111" stroke="#111" stroke-width="0.12" font-family='"Liberation Sans", sans-serif' textLength="53.5" lengthAdjust="spacingAndGlyphs">SPM{t}</text>
<line x1="26.2" y1="50.8" x2="51.4" y2="50.8" stroke="#0a14f0" stroke-width="3"/>
<line x1="26.2" y1="68.3" x2="51.4" y2="68.3" stroke="#f01010" stroke-width="3"/>
<text x="54.3" y="54.6" font-size="11.50" text-anchor="start" fill="#222" font-family='"Liberation Sans", sans-serif' font-weight="normal" textLength="76.0" lengthAdjust="spacingAndGlyphs" stroke="#222" stroke-width="0.2">Experimental group</text>
<text x="54.3" y="72.1" font-size="11.50" text-anchor="start" fill="#222" font-family='"Liberation Sans", sans-serif' font-weight="normal" textLength="53.6" lengthAdjust="spacingAndGlyphs" stroke="#222" stroke-width="0.2">Control group</text>
<rect x="353.7" y="51.9" width="39.3" height="22.1" fill="#c9c9c9"/>
<text x="400.2" y="68.3" font-size="11.50" text-anchor="start" fill="#222" font-family='"Liberation Sans", sans-serif' font-weight="normal" textLength="80.8" lengthAdjust="spacingAndGlyphs" stroke="#222" stroke-width="0.2">significant difference</text>
<line x1="571.0" y1="50.0" x2="596.2" y2="50.0" stroke="#0a14f0" stroke-width="3"/>
<line x1="571.0" y1="67.9" x2="596.2" y2="67.9" stroke="#f01010" stroke-width="3"/>
<text x="598.9" y="53.8" font-size="11.50" text-anchor="start" fill="#222" font-family='"Liberation Sans", sans-serif' font-weight="normal" textLength="76.0" lengthAdjust="spacingAndGlyphs" stroke="#222" stroke-width="0.2">Experimental group</text>
<text x="598.9" y="71.7" font-size="11.50" text-anchor="start" fill="#222" font-family='"Liberation Sans", sans-serif' font-weight="normal" textLength="53.6" lengthAdjust="spacingAndGlyphs" stroke="#222" stroke-width="0.2">Control group</text>
<rect x="898.3" y="51.2" width="39.6" height="22.4" fill="#c9c9c9"/>
<text x="944.9" y="67.8" font-size="11.50" text-anchor="start" fill="#222" font-family='"Liberation Sans", sans-serif' font-weight="normal" textLength="80.8" lengthAdjust="spacingAndGlyphs" stroke="#222" stroke-width="0.2">significant difference</text>
<text x="11.2" y="18.4" font-size="24.50" text-anchor="start" fill="#111" font-family='"Liberation Serif", serif' font-weight="bold" textLength="16.5" lengthAdjust="spacingAndGlyphs" >A</text>
<text x="569.4" y="18.8" font-size="23.00" text-anchor="start" fill="#111" font-family='"Liberation Serif", serif' font-weight="bold" textLength="15.1" lengthAdjust="spacingAndGlyphs" >B</text>
<text x="225.0" y="358.8" font-size="11.60" text-anchor="start" fill="#1a1a1a" font-family='"Liberation Sans", sans-serif' font-weight="normal" textLength="66.9" lengthAdjust="spacingAndGlyphs" stroke="#1a1a1a" stroke-width="0.3">Swing Phase</text>
<text x="772.0" y="380.1" font-size="11.60" text-anchor="start" fill="#1a1a1a" font-family='"Liberation Sans", sans-serif' font-weight="normal" textLength="69.6" lengthAdjust="spacingAndGlyphs" stroke="#1a1a1a" stroke-width="0.3">Stance Phase</text>
<text x="235.7" y="674.0" font-size="11.60" text-anchor="start" fill="#1a1a1a" font-family='"Liberation Sans", sans-serif' font-weight="normal" textLength="66.5" lengthAdjust="spacingAndGlyphs" stroke="#1a1a1a" stroke-width="0.3">Swing Phase</text>
<text x="778.8" y="674.0" font-size="11.60" text-anchor="start" fill="#1a1a1a" font-family='"Liberation Sans", sans-serif' font-weight="normal" textLength="70.6" lengthAdjust="spacingAndGlyphs" stroke="#1a1a1a" stroke-width="0.3">Stance Phase</text>
<text x="233.9" y="965.9" font-size="11.60" text-anchor="start" fill="#1a1a1a" font-family='"Liberation Sans", sans-serif' font-weight="normal" textLength="66.8" lengthAdjust="spacingAndGlyphs" stroke="#1a1a1a" stroke-width="0.3">Swing Phase</text>
<text x="782.5" y="965.3" font-size="11.60" text-anchor="start" fill="#1a1a1a" font-family='"Liberation Sans", sans-serif' font-weight="normal" textLength="69.8" lengthAdjust="spacingAndGlyphs" stroke="#1a1a1a" stroke-width="0.3">Stance Phase</text>
<text x="234.3" y="1263.1" font-size="11.60" text-anchor="start" fill="#1a1a1a" font-family='"Liberation Sans", sans-serif' font-weight="normal" textLength="66.0" lengthAdjust="spacingAndGlyphs" stroke="#1a1a1a" stroke-width="0.3">Swing Phase</text>
<text x="779.6" y="1263.1" font-size="11.60" text-anchor="start" fill="#1a1a1a" font-family='"Liberation Sans", sans-serif' font-weight="normal" textLength="70.0" lengthAdjust="spacingAndGlyphs" stroke="#1a1a1a" stroke-width="0.3">Stance Phase</text>
</svg></body></html>
